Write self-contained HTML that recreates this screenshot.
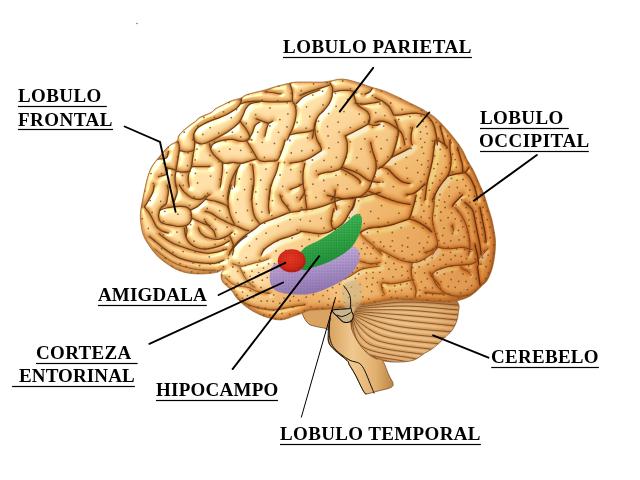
<!DOCTYPE html>
<html><head><meta charset="utf-8"><style>
html,body{margin:0;padding:0;background:#fff;width:640px;height:480px;overflow:hidden}
svg{display:block}
</style></head><body>
<svg width="640" height="480" viewBox="0 0 640 480">
<defs>
<mask id="mcb" maskUnits="userSpaceOnUse" x="0" y="0" width="640" height="480"><path d="M140.6,222.0 C140.1,217.9 140.3,214.7 140.6,211.0 C140.9,207.3 141.8,203.8 142.5,200.0 C143.2,196.2 144.2,191.8 145.0,188.0 C145.8,184.2 146.5,180.8 147.5,177.5 C148.5,174.2 149.7,170.6 151.0,168.0 C152.3,165.4 153.6,163.8 155.2,161.7 C156.8,159.6 158.7,157.5 160.4,155.4 C162.1,153.3 163.9,151.0 165.6,149.2 C167.3,147.4 169.2,145.6 170.8,144.5 C172.4,143.4 173.9,143.2 175.0,142.4 C176.1,141.7 177.0,141.0 177.6,140.0 C178.2,139.0 177.7,137.8 178.3,136.5 C178.9,135.2 179.6,134.2 181.2,132.5 C182.9,130.8 186.1,128.2 188.5,126.2 C190.9,124.3 193.9,122.5 195.8,121.0 C197.7,119.5 197.5,118.6 200.0,117.2 C202.5,115.8 208.4,113.9 211.0,112.5 C213.6,111.1 213.5,109.9 215.6,108.6 C217.7,107.2 221.1,105.7 223.8,104.4 C226.4,103.1 229.2,101.6 231.2,100.8 C233.3,100.0 234.3,99.9 236.0,99.4 C237.7,98.9 239.6,98.5 241.4,97.7 C243.2,96.9 243.4,95.7 246.9,94.5 C250.4,93.3 257.8,91.9 262.5,90.6 C267.2,89.3 270.8,87.9 275.0,86.7 C279.2,85.5 283.9,84.4 287.5,83.6 C291.1,82.8 291.5,82.3 296.9,82.0 C302.3,81.7 314.7,82.1 320.0,82.0 C325.3,81.9 325.1,81.7 328.7,81.2 C332.3,80.7 337.3,78.9 341.9,79.0 C346.5,79.1 351.5,80.7 356.4,82.0 C361.2,83.3 367.3,85.8 371.0,87.0 C374.7,88.2 376.3,88.5 378.8,89.2 C381.2,90.0 382.5,90.2 385.6,91.4 C388.7,92.7 393.6,94.9 397.5,96.8 C401.4,98.6 404.7,100.4 408.8,102.4 C412.8,104.4 417.6,106.5 422.0,109.0 C426.4,111.5 431.3,114.4 435.0,117.4 C438.7,120.4 441.0,123.0 444.4,126.8 C447.8,130.5 452.6,136.1 455.6,140.0 C458.6,143.9 460.6,146.8 462.5,150.0 C464.4,153.2 465.2,156.0 467.0,159.4 C468.8,162.8 471.3,166.1 473.4,170.3 C475.5,174.5 477.9,180.2 479.7,184.4 C481.5,188.6 483.0,191.4 484.4,195.3 C485.8,199.2 487.0,203.7 488.3,207.8 C489.6,211.9 491.1,216.3 492.0,220.0 C492.9,223.7 493.4,226.6 494.0,230.0 C494.6,233.4 495.3,236.7 495.5,240.5 C495.7,244.3 495.5,248.5 495.0,253.0 C494.5,257.5 493.8,263.0 492.5,267.5 C491.2,272.0 489.4,276.8 487.5,280.0 C485.6,283.2 483.3,284.4 481.2,286.5 C479.2,288.6 477.3,290.7 475.0,292.5 C472.7,294.3 470.6,296.1 467.5,297.5 C464.4,298.9 460.2,300.2 456.2,301.0 C452.3,301.8 449.0,302.5 443.8,302.5 C438.5,302.5 431.5,301.7 425.0,301.2 C418.5,300.8 410.8,300.2 405.0,300.0 C399.2,299.8 395.9,299.4 390.3,300.0 C384.7,300.6 378.4,302.6 371.6,303.8 C364.8,304.9 356.6,306.1 349.7,307.0 C342.8,307.9 336.6,308.6 330.0,309.2 C323.4,309.8 315.0,309.6 310.3,310.3 C305.6,311.0 304.2,312.7 301.6,313.6 C299.1,314.5 298.5,314.7 295.0,315.8 C291.5,316.9 285.8,319.9 280.6,320.0 C275.4,320.1 269.1,318.2 264.0,316.4 C258.9,314.6 254.3,312.1 250.0,309.4 C245.7,306.7 241.6,303.2 238.4,300.0 C235.2,296.8 233.6,292.9 231.0,290.0 C228.4,287.1 224.7,285.0 223.0,282.5 C221.3,280.0 221.0,277.2 221.0,275.0 C221.0,272.8 223.6,269.9 223.0,269.4 C222.4,268.9 220.9,271.4 217.5,272.2 C214.1,273.0 207.5,273.9 202.5,274.0 C197.5,274.1 191.9,273.8 187.5,273.0 C183.1,272.2 179.7,270.9 176.2,269.4 C172.8,267.9 170.0,265.9 166.9,263.8 C163.8,261.6 160.3,259.1 157.5,256.2 C154.7,253.4 152.3,250.3 150.0,246.9 C147.7,243.5 145.0,239.8 143.4,235.6 C141.8,231.4 141.1,226.1 140.6,222.0Z" fill="#fff"/></mask>
<mask id="mcbl" maskUnits="userSpaceOnUse" x="0" y="0" width="640" height="480"><path d="M354.0,304.0 C359.3,301.6 369.0,298.5 380.0,297.0 C391.0,295.5 408.3,295.2 420.0,295.0 C431.7,294.8 443.6,294.5 450.0,296.0 C456.4,297.5 457.1,301.2 458.5,304.0 C459.9,306.8 458.6,309.6 458.3,312.5 C458.0,315.4 457.7,318.3 456.7,321.2 C455.7,324.2 454.2,327.3 452.3,330.0 C450.4,332.7 447.2,335.1 445.0,337.3 C442.8,339.5 441.4,341.2 439.2,343.1 C437.0,345.1 434.3,347.3 431.9,349.0 C429.5,350.7 427.3,351.6 424.6,353.3 C421.9,355.0 418.7,357.8 415.8,359.2 C412.9,360.6 410.8,361.0 407.0,361.5 C403.2,362.0 397.2,362.2 392.8,362.0 C388.4,361.8 384.7,361.3 380.6,360.0 C376.5,358.7 372.1,356.4 368.4,354.0 C364.7,351.6 361.3,348.9 358.3,345.8 C355.3,342.7 352.2,339.0 350.2,335.6 C348.1,332.2 346.9,328.6 346.0,325.5 C345.1,322.4 344.7,319.7 345.0,317.3 C345.3,314.9 346.5,313.5 348.0,311.2 C349.5,309.0 348.7,306.4 354.0,304.0Z" fill="#fff"/></mask>
<mask id="mbs" maskUnits="userSpaceOnUse" x="0" y="0" width="640" height="480"><path d="M302.0,312.0 C301.7,308.9 303.3,306.5 306.0,305.0 C308.7,303.5 314.0,303.5 318.0,303.0 C322.0,302.5 325.5,301.8 330.0,302.0 C334.5,302.2 341.7,301.3 345.0,304.0 C348.3,306.7 348.8,313.7 350.0,318.0 C351.2,322.3 350.7,326.0 352.0,330.0 C353.3,334.0 355.7,338.3 358.0,342.0 C360.3,345.7 363.2,349.3 366.0,352.0 C368.8,354.7 372.2,357.0 375.0,358.4 C377.8,359.8 380.2,357.6 382.5,360.4 C384.8,363.2 387.0,371.2 388.8,375.0 C390.5,378.8 392.7,381.2 393.0,383.3 C393.3,385.4 393.3,386.2 390.8,387.5 C388.3,388.8 382.0,390.0 378.0,391.0 C374.0,392.0 369.3,393.6 366.9,393.8 C364.5,393.9 365.7,394.8 363.8,391.7 C361.8,388.6 357.8,379.5 355.4,375.0 C353.0,370.5 350.6,367.0 349.2,364.6 C347.8,362.2 349.4,362.8 347.0,360.4 C344.6,358.0 337.7,353.1 334.6,350.0 C331.5,346.9 329.4,345.0 328.3,341.7 C327.2,338.4 330.2,332.5 328.3,330.0 C326.4,327.5 320.3,327.8 316.9,326.7 C313.5,325.6 310.5,325.8 308.0,323.4 C305.5,320.9 302.3,315.1 302.0,312.0Z" fill="#fff"/></mask>
<filter id="shade" filterUnits="userSpaceOnUse" x="120" y="60" width="400" height="280" color-interpolation-filters="sRGB">
<feGaussianBlur in="SourceGraphic" stdDeviation="1.0" result="b"/>
<feColorMatrix in="b" type="luminanceToAlpha" result="h"/>
<feGaussianBlur in="h" stdDeviation="1.0" result="hb"/>
<feSpecularLighting in="hb" surfaceScale="4" specularConstant="1.2" specularExponent="25" lighting-color="#ffffff" result="spec"><feDistantLight azimuth="225" elevation="32"/></feSpecularLighting>
<feComposite in="b" in2="spec" operator="arithmetic" k1="0" k2="1" k3="0.7" k4="0"/>
</filter>
<filter id="bl08" x="-5%" y="-5%" width="110%" height="110%"><feGaussianBlur stdDeviation="1.0"/></filter>
<filter id="bl03" x="-5%" y="-5%" width="110%" height="110%"><feGaussianBlur stdDeviation="0.35"/></filter>
<filter id="bl15" x="-20%" y="-20%" width="140%" height="140%"><feGaussianBlur stdDeviation="1.5"/></filter>
<filter id="bl25" x="-20%" y="-20%" width="140%" height="140%"><feGaussianBlur stdDeviation="2.5"/></filter>
<radialGradient id="tint" gradientUnits="userSpaceOnUse" cx="480" cy="270" r="230">
<stop offset="0" stop-color="#dea872"/><stop offset="0.45" stop-color="#efcc9c"/><stop offset="1" stop-color="#ffffff"/></radialGradient>
<linearGradient id="bsg" gradientUnits="userSpaceOnUse" x1="330" y1="0" x2="395" y2="0">
<stop offset="0" stop-color="#d9a462"/><stop offset="0.35" stop-color="#f0c88e"/><stop offset="0.7" stop-color="#e2b070"/><stop offset="1" stop-color="#b8803e"/></linearGradient>
<linearGradient id="pg" gradientUnits="userSpaceOnUse" x1="318" y1="252" x2="326" y2="292">
<stop offset="0" stop-color="#c4aed6"/><stop offset="0.45" stop-color="#a990c6"/><stop offset="1" stop-color="#8e74b0"/></linearGradient>
<radialGradient id="rg" cx="0.45" cy="0.4" r="0.6"><stop offset="0" stop-color="#e63a26"/><stop offset="0.7" stop-color="#d42a1a"/><stop offset="1" stop-color="#b01c10"/></radialGradient>
<linearGradient id="gg" gradientUnits="userSpaceOnUse" x1="335" y1="225" x2="345" y2="255">
<stop offset="0" stop-color="#3cb452"/><stop offset="1" stop-color="#24953c"/></linearGradient>
<pattern id="pdot" width="3" height="3" patternUnits="userSpaceOnUse"><circle cx="1" cy="1" r="0.6" fill="#6a4a8a" opacity="0.55"/></pattern>
<pattern id="gdot" width="2.6" height="2.6" patternUnits="userSpaceOnUse"><circle cx="1" cy="1" r="0.6" fill="#0d5a1e" opacity="0.6"/></pattern>
<pattern id="rdot" width="2.8" height="2.8" patternUnits="userSpaceOnUse"><circle cx="1" cy="1" r="0.6" fill="#800c06" opacity="0.6"/></pattern>
<radialGradient id="ttint"><stop offset="0" stop-color="#f2d6b4"/><stop offset="0.6" stop-color="#f6e2c8"/><stop offset="1" stop-color="#ffffff"/></radialGradient>
<radialGradient id="cbtint" gradientUnits="userSpaceOnUse" cx="395" cy="318" r="70"><stop offset="0" stop-color="#ffffff"/><stop offset="0.6" stop-color="#fbf2e8"/><stop offset="1" stop-color="#e6c8a8"/></radialGradient>
</defs>
<g mask="url(#mcbl)">
<rect x="330" y="285" width="140" height="85" fill="#e9b87a"/>
<g fill="none" stroke-linecap="round">
<g transform="translate(0,2.2)">
<path d="M356.0,307.5 C364.2,306.6 388.0,302.4 405.0,302.0 C422.0,301.6 448.3,304.5 458.0,305.0 C467.7,305.5 462.2,305.2 463.0,305.3" stroke="#fbe2b4" stroke-width="2.0" opacity="0.9" filter="url(#bl08)"/>
<path d="M355.6,308.8 C363.8,308.3 387.9,305.8 405.0,306.0 C422.1,306.2 448.8,309.3 458.5,310.0 C468.2,310.7 462.7,310.3 463.5,310.4" stroke="#fbe2b4" stroke-width="2.0" opacity="0.9" filter="url(#bl08)"/>
<path d="M355.2,310.1 C363.5,310.1 387.8,309.2 405.0,310.0 C422.2,310.8 448.8,314.1 458.5,315.0 C468.2,315.9 462.6,315.4 463.5,315.5" stroke="#fbe2b4" stroke-width="2.0" opacity="0.9" filter="url(#bl08)"/>
<path d="M354.8,311.4 C362.8,312.0 385.9,313.6 403.0,315.0 C420.1,316.4 447.6,319.1 457.5,320.0 C467.4,320.9 461.6,320.4 462.5,320.5" stroke="#fbe2b4" stroke-width="2.0" opacity="0.9" filter="url(#bl08)"/>
<path d="M354.4,312.7 C362.0,313.9 383.1,317.8 400.0,320.0 C416.9,322.2 445.4,324.9 455.5,326.0 C465.6,327.1 459.6,326.4 460.5,326.5" stroke="#fbe2b4" stroke-width="2.0" opacity="0.9" filter="url(#bl08)"/>
<path d="M354.0,314.0 C361.0,316.0 379.7,323.0 396.0,326.0 C412.3,329.0 441.8,330.9 452.0,332.0 C462.2,333.1 456.1,332.4 457.0,332.5" stroke="#fbe2b4" stroke-width="2.0" opacity="0.9" filter="url(#bl08)"/>
<path d="M353.6,315.3 C359.7,317.9 374.4,327.2 390.0,331.0 C405.6,334.8 436.7,336.7 447.0,338.0 C457.3,339.3 451.1,338.5 452.0,338.6" stroke="#fbe2b4" stroke-width="2.0" opacity="0.9" filter="url(#bl08)"/>
<path d="M352.5,316.5 C357.6,319.8 368.2,331.4 383.0,336.0 C397.8,340.6 430.5,342.6 441.0,344.0 C451.5,345.4 445.1,344.6 446.0,344.7" stroke="#fbe2b4" stroke-width="2.0" opacity="0.9" filter="url(#bl08)"/>
<path d="M352.2,317.0 C356.2,320.8 362.5,334.6 376.0,340.0 C389.5,345.4 422.7,347.8 433.0,349.5 C443.3,351.2 437.1,350.2 437.9,350.3" stroke="#fbe2b4" stroke-width="2.0" opacity="0.9" filter="url(#bl08)"/>
<path d="M351.9,317.5 C354.8,321.9 357.0,337.8 369.0,344.0 C381.0,350.2 414.0,352.6 424.0,354.5 C434.0,356.4 428.1,355.3 428.9,355.4" stroke="#fbe2b4" stroke-width="2.0" opacity="0.9" filter="url(#bl08)"/>
<path d="M351.6,318.0 C353.5,322.8 352.6,340.2 363.0,347.0 C373.4,353.8 404.7,356.4 414.0,358.5 C423.3,360.6 418.1,359.4 418.9,359.6" stroke="#fbe2b4" stroke-width="2.0" opacity="0.9" filter="url(#bl08)"/>
<path d="M351.3,318.5 C352.4,323.8 349.4,342.9 358.0,350.0 C366.6,357.1 394.7,359.0 403.0,361.0 C411.3,363.0 407.0,362.0 407.9,362.2" stroke="#fbe2b4" stroke-width="2.0" opacity="0.9" filter="url(#bl08)"/>
<path d="M351.0,319.0 C351.5,324.3 347.2,343.8 354.0,351.0 C360.8,358.2 384.9,359.9 392.0,362.0 C399.1,364.1 396.0,363.2 396.8,363.4" stroke="#fbe2b4" stroke-width="2.0" opacity="0.9" filter="url(#bl08)"/>
<path d="M350.7,319.5 C350.6,324.6 344.9,343.2 350.0,350.0 C355.1,356.8 375.0,358.5 381.0,360.5 C387.0,362.5 384.9,361.8 385.7,362.1" stroke="#fbe2b4" stroke-width="2.0" opacity="0.9" filter="url(#bl08)"/>
<path d="M350.4,320.0 C349.8,324.5 343.6,341.0 347.0,347.0 C350.4,353.0 366.2,354.2 371.0,356.0 C375.8,357.8 374.9,357.5 375.7,357.8" stroke="#fbe2b4" stroke-width="2.0" opacity="0.9" filter="url(#bl08)"/>
<path d="M350.1,320.5 C349.2,324.1 343.0,337.1 345.0,342.0 C347.0,346.9 358.4,348.3 362.0,350.0 C365.6,351.7 365.8,351.8 366.5,352.1" stroke="#fbe2b4" stroke-width="2.0" opacity="0.9" filter="url(#bl08)"/>
</g>
<path d="M356.0,307.5 C364.2,306.6 388.0,302.4 405.0,302.0 C422.0,301.6 448.3,304.5 458.0,305.0 C467.7,305.5 462.2,305.2 463.0,305.3" stroke="#b87838" stroke-width="2.6" opacity="0.5" filter="url(#bl08)"/>
<path d="M355.6,308.8 C363.8,308.3 387.9,305.8 405.0,306.0 C422.1,306.2 448.8,309.3 458.5,310.0 C468.2,310.7 462.7,310.3 463.5,310.4" stroke="#b87838" stroke-width="2.6" opacity="0.5" filter="url(#bl08)"/>
<path d="M355.2,310.1 C363.5,310.1 387.8,309.2 405.0,310.0 C422.2,310.8 448.8,314.1 458.5,315.0 C468.2,315.9 462.6,315.4 463.5,315.5" stroke="#b87838" stroke-width="2.6" opacity="0.5" filter="url(#bl08)"/>
<path d="M354.8,311.4 C362.8,312.0 385.9,313.6 403.0,315.0 C420.1,316.4 447.6,319.1 457.5,320.0 C467.4,320.9 461.6,320.4 462.5,320.5" stroke="#b87838" stroke-width="2.6" opacity="0.5" filter="url(#bl08)"/>
<path d="M354.4,312.7 C362.0,313.9 383.1,317.8 400.0,320.0 C416.9,322.2 445.4,324.9 455.5,326.0 C465.6,327.1 459.6,326.4 460.5,326.5" stroke="#b87838" stroke-width="2.6" opacity="0.5" filter="url(#bl08)"/>
<path d="M354.0,314.0 C361.0,316.0 379.7,323.0 396.0,326.0 C412.3,329.0 441.8,330.9 452.0,332.0 C462.2,333.1 456.1,332.4 457.0,332.5" stroke="#b87838" stroke-width="2.6" opacity="0.5" filter="url(#bl08)"/>
<path d="M353.6,315.3 C359.7,317.9 374.4,327.2 390.0,331.0 C405.6,334.8 436.7,336.7 447.0,338.0 C457.3,339.3 451.1,338.5 452.0,338.6" stroke="#b87838" stroke-width="2.6" opacity="0.5" filter="url(#bl08)"/>
<path d="M352.5,316.5 C357.6,319.8 368.2,331.4 383.0,336.0 C397.8,340.6 430.5,342.6 441.0,344.0 C451.5,345.4 445.1,344.6 446.0,344.7" stroke="#b87838" stroke-width="2.6" opacity="0.5" filter="url(#bl08)"/>
<path d="M352.2,317.0 C356.2,320.8 362.5,334.6 376.0,340.0 C389.5,345.4 422.7,347.8 433.0,349.5 C443.3,351.2 437.1,350.2 437.9,350.3" stroke="#b87838" stroke-width="2.6" opacity="0.5" filter="url(#bl08)"/>
<path d="M351.9,317.5 C354.8,321.9 357.0,337.8 369.0,344.0 C381.0,350.2 414.0,352.6 424.0,354.5 C434.0,356.4 428.1,355.3 428.9,355.4" stroke="#b87838" stroke-width="2.6" opacity="0.5" filter="url(#bl08)"/>
<path d="M351.6,318.0 C353.5,322.8 352.6,340.2 363.0,347.0 C373.4,353.8 404.7,356.4 414.0,358.5 C423.3,360.6 418.1,359.4 418.9,359.6" stroke="#b87838" stroke-width="2.6" opacity="0.5" filter="url(#bl08)"/>
<path d="M351.3,318.5 C352.4,323.8 349.4,342.9 358.0,350.0 C366.6,357.1 394.7,359.0 403.0,361.0 C411.3,363.0 407.0,362.0 407.9,362.2" stroke="#b87838" stroke-width="2.6" opacity="0.5" filter="url(#bl08)"/>
<path d="M351.0,319.0 C351.5,324.3 347.2,343.8 354.0,351.0 C360.8,358.2 384.9,359.9 392.0,362.0 C399.1,364.1 396.0,363.2 396.8,363.4" stroke="#b87838" stroke-width="2.6" opacity="0.5" filter="url(#bl08)"/>
<path d="M350.7,319.5 C350.6,324.6 344.9,343.2 350.0,350.0 C355.1,356.8 375.0,358.5 381.0,360.5 C387.0,362.5 384.9,361.8 385.7,362.1" stroke="#b87838" stroke-width="2.6" opacity="0.5" filter="url(#bl08)"/>
<path d="M350.4,320.0 C349.8,324.5 343.6,341.0 347.0,347.0 C350.4,353.0 366.2,354.2 371.0,356.0 C375.8,357.8 374.9,357.5 375.7,357.8" stroke="#b87838" stroke-width="2.6" opacity="0.5" filter="url(#bl08)"/>
<path d="M350.1,320.5 C349.2,324.1 343.0,337.1 345.0,342.0 C347.0,346.9 358.4,348.3 362.0,350.0 C365.6,351.7 365.8,351.8 366.5,352.1" stroke="#b87838" stroke-width="2.6" opacity="0.5" filter="url(#bl08)"/>
<path d="M356.0,307.5 C364.2,306.6 388.0,302.4 405.0,302.0 C422.0,301.6 448.3,304.5 458.0,305.0 C467.7,305.5 462.2,305.2 463.0,305.3" stroke="#7a4a1f" stroke-width="0.8"/>
<path d="M355.6,308.8 C363.8,308.3 387.9,305.8 405.0,306.0 C422.1,306.2 448.8,309.3 458.5,310.0 C468.2,310.7 462.7,310.3 463.5,310.4" stroke="#7a4a1f" stroke-width="0.8"/>
<path d="M355.2,310.1 C363.5,310.1 387.8,309.2 405.0,310.0 C422.2,310.8 448.8,314.1 458.5,315.0 C468.2,315.9 462.6,315.4 463.5,315.5" stroke="#7a4a1f" stroke-width="0.8"/>
<path d="M354.8,311.4 C362.8,312.0 385.9,313.6 403.0,315.0 C420.1,316.4 447.6,319.1 457.5,320.0 C467.4,320.9 461.6,320.4 462.5,320.5" stroke="#7a4a1f" stroke-width="0.8"/>
<path d="M354.4,312.7 C362.0,313.9 383.1,317.8 400.0,320.0 C416.9,322.2 445.4,324.9 455.5,326.0 C465.6,327.1 459.6,326.4 460.5,326.5" stroke="#7a4a1f" stroke-width="0.8"/>
<path d="M354.0,314.0 C361.0,316.0 379.7,323.0 396.0,326.0 C412.3,329.0 441.8,330.9 452.0,332.0 C462.2,333.1 456.1,332.4 457.0,332.5" stroke="#7a4a1f" stroke-width="0.8"/>
<path d="M353.6,315.3 C359.7,317.9 374.4,327.2 390.0,331.0 C405.6,334.8 436.7,336.7 447.0,338.0 C457.3,339.3 451.1,338.5 452.0,338.6" stroke="#7a4a1f" stroke-width="0.8"/>
<path d="M352.5,316.5 C357.6,319.8 368.2,331.4 383.0,336.0 C397.8,340.6 430.5,342.6 441.0,344.0 C451.5,345.4 445.1,344.6 446.0,344.7" stroke="#7a4a1f" stroke-width="0.8"/>
<path d="M352.2,317.0 C356.2,320.8 362.5,334.6 376.0,340.0 C389.5,345.4 422.7,347.8 433.0,349.5 C443.3,351.2 437.1,350.2 437.9,350.3" stroke="#7a4a1f" stroke-width="0.8"/>
<path d="M351.9,317.5 C354.8,321.9 357.0,337.8 369.0,344.0 C381.0,350.2 414.0,352.6 424.0,354.5 C434.0,356.4 428.1,355.3 428.9,355.4" stroke="#7a4a1f" stroke-width="0.8"/>
<path d="M351.6,318.0 C353.5,322.8 352.6,340.2 363.0,347.0 C373.4,353.8 404.7,356.4 414.0,358.5 C423.3,360.6 418.1,359.4 418.9,359.6" stroke="#7a4a1f" stroke-width="0.8"/>
<path d="M351.3,318.5 C352.4,323.8 349.4,342.9 358.0,350.0 C366.6,357.1 394.7,359.0 403.0,361.0 C411.3,363.0 407.0,362.0 407.9,362.2" stroke="#7a4a1f" stroke-width="0.8"/>
<path d="M351.0,319.0 C351.5,324.3 347.2,343.8 354.0,351.0 C360.8,358.2 384.9,359.9 392.0,362.0 C399.1,364.1 396.0,363.2 396.8,363.4" stroke="#7a4a1f" stroke-width="0.8"/>
<path d="M350.7,319.5 C350.6,324.6 344.9,343.2 350.0,350.0 C355.1,356.8 375.0,358.5 381.0,360.5 C387.0,362.5 384.9,361.8 385.7,362.1" stroke="#7a4a1f" stroke-width="0.8"/>
<path d="M350.4,320.0 C349.8,324.5 343.6,341.0 347.0,347.0 C350.4,353.0 366.2,354.2 371.0,356.0 C375.8,357.8 374.9,357.5 375.7,357.8" stroke="#7a4a1f" stroke-width="0.8"/>
<path d="M350.1,320.5 C349.2,324.1 343.0,337.1 345.0,342.0 C347.0,346.9 358.4,348.3 362.0,350.0 C365.6,351.7 365.8,351.8 366.5,352.1" stroke="#7a4a1f" stroke-width="0.8"/>
</g>
<path d="M345,305 C380,300 420,298 462,302" fill="none" stroke="#9a6030" stroke-width="7" opacity="0.55" filter="url(#bl25)"/>
<rect x="330" y="285" width="140" height="85" fill="url(#cbtint)" style="mix-blend-mode:multiply"/>
</g>
<path d="M354.0,304.0 C359.3,301.6 369.0,298.5 380.0,297.0 C391.0,295.5 408.3,295.2 420.0,295.0 C431.7,294.8 443.6,294.5 450.0,296.0 C456.4,297.5 457.1,301.2 458.5,304.0 C459.9,306.8 458.6,309.6 458.3,312.5 C458.0,315.4 457.7,318.3 456.7,321.2 C455.7,324.2 454.2,327.3 452.3,330.0 C450.4,332.7 447.2,335.1 445.0,337.3 C442.8,339.5 441.4,341.2 439.2,343.1 C437.0,345.1 434.3,347.3 431.9,349.0 C429.5,350.7 427.3,351.6 424.6,353.3 C421.9,355.0 418.7,357.8 415.8,359.2 C412.9,360.6 410.8,361.0 407.0,361.5 C403.2,362.0 397.2,362.2 392.8,362.0 C388.4,361.8 384.7,361.3 380.6,360.0 C376.5,358.7 372.1,356.4 368.4,354.0 C364.7,351.6 361.3,348.9 358.3,345.8 C355.3,342.7 352.2,339.0 350.2,335.6 C348.1,332.2 346.9,328.6 346.0,325.5 C345.1,322.4 344.7,319.7 345.0,317.3 C345.3,314.9 346.5,313.5 348.0,311.2 C349.5,309.0 348.7,306.4 354.0,304.0Z" fill="none" stroke="#8a5a2a" stroke-width="0.8"/>
<path d="M302.0,312.0 C301.7,308.9 303.3,306.5 306.0,305.0 C308.7,303.5 314.0,303.5 318.0,303.0 C322.0,302.5 325.5,301.8 330.0,302.0 C334.5,302.2 341.7,301.3 345.0,304.0 C348.3,306.7 348.8,313.7 350.0,318.0 C351.2,322.3 350.7,326.0 352.0,330.0 C353.3,334.0 355.7,338.3 358.0,342.0 C360.3,345.7 363.2,349.3 366.0,352.0 C368.8,354.7 372.2,357.0 375.0,358.4 C377.8,359.8 380.2,357.6 382.5,360.4 C384.8,363.2 387.0,371.2 388.8,375.0 C390.5,378.8 392.7,381.2 393.0,383.3 C393.3,385.4 393.3,386.2 390.8,387.5 C388.3,388.8 382.0,390.0 378.0,391.0 C374.0,392.0 369.3,393.6 366.9,393.8 C364.5,393.9 365.7,394.8 363.8,391.7 C361.8,388.6 357.8,379.5 355.4,375.0 C353.0,370.5 350.6,367.0 349.2,364.6 C347.8,362.2 349.4,362.8 347.0,360.4 C344.6,358.0 337.7,353.1 334.6,350.0 C331.5,346.9 329.4,345.0 328.3,341.7 C327.2,338.4 330.2,332.5 328.3,330.0 C326.4,327.5 320.3,327.8 316.9,326.7 C313.5,325.6 310.5,325.8 308.0,323.4 C305.5,320.9 302.3,315.1 302.0,312.0Z" fill="url(#bsg)" stroke="#7a4a22" stroke-width="0.8"/>
<path d="M140.6,222.0 C140.1,217.9 140.3,214.7 140.6,211.0 C140.9,207.3 141.8,203.8 142.5,200.0 C143.2,196.2 144.2,191.8 145.0,188.0 C145.8,184.2 146.5,180.8 147.5,177.5 C148.5,174.2 149.7,170.6 151.0,168.0 C152.3,165.4 153.6,163.8 155.2,161.7 C156.8,159.6 158.7,157.5 160.4,155.4 C162.1,153.3 163.9,151.0 165.6,149.2 C167.3,147.4 169.2,145.6 170.8,144.5 C172.4,143.4 173.9,143.2 175.0,142.4 C176.1,141.7 177.0,141.0 177.6,140.0 C178.2,139.0 177.7,137.8 178.3,136.5 C178.9,135.2 179.6,134.2 181.2,132.5 C182.9,130.8 186.1,128.2 188.5,126.2 C190.9,124.3 193.9,122.5 195.8,121.0 C197.7,119.5 197.5,118.6 200.0,117.2 C202.5,115.8 208.4,113.9 211.0,112.5 C213.6,111.1 213.5,109.9 215.6,108.6 C217.7,107.2 221.1,105.7 223.8,104.4 C226.4,103.1 229.2,101.6 231.2,100.8 C233.3,100.0 234.3,99.9 236.0,99.4 C237.7,98.9 239.6,98.5 241.4,97.7 C243.2,96.9 243.4,95.7 246.9,94.5 C250.4,93.3 257.8,91.9 262.5,90.6 C267.2,89.3 270.8,87.9 275.0,86.7 C279.2,85.5 283.9,84.4 287.5,83.6 C291.1,82.8 291.5,82.3 296.9,82.0 C302.3,81.7 314.7,82.1 320.0,82.0 C325.3,81.9 325.1,81.7 328.7,81.2 C332.3,80.7 337.3,78.9 341.9,79.0 C346.5,79.1 351.5,80.7 356.4,82.0 C361.2,83.3 367.3,85.8 371.0,87.0 C374.7,88.2 376.3,88.5 378.8,89.2 C381.2,90.0 382.5,90.2 385.6,91.4 C388.7,92.7 393.6,94.9 397.5,96.8 C401.4,98.6 404.7,100.4 408.8,102.4 C412.8,104.4 417.6,106.5 422.0,109.0 C426.4,111.5 431.3,114.4 435.0,117.4 C438.7,120.4 441.0,123.0 444.4,126.8 C447.8,130.5 452.6,136.1 455.6,140.0 C458.6,143.9 460.6,146.8 462.5,150.0 C464.4,153.2 465.2,156.0 467.0,159.4 C468.8,162.8 471.3,166.1 473.4,170.3 C475.5,174.5 477.9,180.2 479.7,184.4 C481.5,188.6 483.0,191.4 484.4,195.3 C485.8,199.2 487.0,203.7 488.3,207.8 C489.6,211.9 491.1,216.3 492.0,220.0 C492.9,223.7 493.4,226.6 494.0,230.0 C494.6,233.4 495.3,236.7 495.5,240.5 C495.7,244.3 495.5,248.5 495.0,253.0 C494.5,257.5 493.8,263.0 492.5,267.5 C491.2,272.0 489.4,276.8 487.5,280.0 C485.6,283.2 483.3,284.4 481.2,286.5 C479.2,288.6 477.3,290.7 475.0,292.5 C472.7,294.3 470.6,296.1 467.5,297.5 C464.4,298.9 460.2,300.2 456.2,301.0 C452.3,301.8 449.0,302.5 443.8,302.5 C438.5,302.5 431.5,301.7 425.0,301.2 C418.5,300.8 410.8,300.2 405.0,300.0 C399.2,299.8 395.9,299.4 390.3,300.0 C384.7,300.6 378.4,302.6 371.6,303.8 C364.8,304.9 356.6,306.1 349.7,307.0 C342.8,307.9 336.6,308.6 330.0,309.2 C323.4,309.8 315.0,309.6 310.3,310.3 C305.6,311.0 304.2,312.7 301.6,313.6 C299.1,314.5 298.5,314.7 295.0,315.8 C291.5,316.9 285.8,319.9 280.6,320.0 C275.4,320.1 269.1,318.2 264.0,316.4 C258.9,314.6 254.3,312.1 250.0,309.4 C245.7,306.7 241.6,303.2 238.4,300.0 C235.2,296.8 233.6,292.9 231.0,290.0 C228.4,287.1 224.7,285.0 223.0,282.5 C221.3,280.0 221.0,277.2 221.0,275.0 C221.0,272.8 223.6,269.9 223.0,269.4 C222.4,268.9 220.9,271.4 217.5,272.2 C214.1,273.0 207.5,273.9 202.5,274.0 C197.5,274.1 191.9,273.8 187.5,273.0 C183.1,272.2 179.7,270.9 176.2,269.4 C172.8,267.9 170.0,265.9 166.9,263.8 C163.8,261.6 160.3,259.1 157.5,256.2 C154.7,253.4 152.3,250.3 150.0,246.9 C147.7,243.5 145.0,239.8 143.4,235.6 C141.8,231.4 141.1,226.1 140.6,222.0Z" fill="#f7dcaa"/>
<g mask="url(#mcb)"><g filter="url(#shade)"><rect x="130" y="70" width="380" height="260" fill="#f9d8a0"/><g fill="none" stroke-linecap="round" stroke-linejoin="round">
<g stroke="#f6ce8e" stroke-width="11">
<path d="M140.6,222.0 C140.1,217.9 140.3,214.7 140.6,211.0 C140.9,207.3 141.8,203.8 142.5,200.0 C143.2,196.2 144.2,191.8 145.0,188.0 C145.8,184.2 146.5,180.8 147.5,177.5 C148.5,174.2 149.7,170.6 151.0,168.0 C152.3,165.4 153.6,163.8 155.2,161.7 C156.8,159.6 158.7,157.5 160.4,155.4 C162.1,153.3 163.9,151.0 165.6,149.2 C167.3,147.4 169.2,145.6 170.8,144.5 C172.4,143.4 173.9,143.2 175.0,142.4 C176.1,141.7 177.0,141.0 177.6,140.0 C178.2,139.0 177.7,137.8 178.3,136.5 C178.9,135.2 179.6,134.2 181.2,132.5 C182.9,130.8 186.1,128.2 188.5,126.2 C190.9,124.3 193.9,122.5 195.8,121.0 C197.7,119.5 197.5,118.6 200.0,117.2 C202.5,115.8 208.4,113.9 211.0,112.5 C213.6,111.1 213.5,109.9 215.6,108.6 C217.7,107.2 221.1,105.7 223.8,104.4 C226.4,103.1 229.2,101.6 231.2,100.8 C233.3,100.0 234.3,99.9 236.0,99.4 C237.7,98.9 239.6,98.5 241.4,97.7 C243.2,96.9 243.4,95.7 246.9,94.5 C250.4,93.3 257.8,91.9 262.5,90.6 C267.2,89.3 270.8,87.9 275.0,86.7 C279.2,85.5 283.9,84.4 287.5,83.6 C291.1,82.8 291.5,82.3 296.9,82.0 C302.3,81.7 314.7,82.1 320.0,82.0 C325.3,81.9 325.1,81.7 328.7,81.2 C332.3,80.7 337.3,78.9 341.9,79.0 C346.5,79.1 351.5,80.7 356.4,82.0 C361.2,83.3 367.3,85.8 371.0,87.0 C374.7,88.2 376.3,88.5 378.8,89.2 C381.2,90.0 382.5,90.2 385.6,91.4 C388.7,92.7 393.6,94.9 397.5,96.8 C401.4,98.6 404.7,100.4 408.8,102.4 C412.8,104.4 417.6,106.5 422.0,109.0 C426.4,111.5 431.3,114.4 435.0,117.4 C438.7,120.4 441.0,123.0 444.4,126.8 C447.8,130.5 452.6,136.1 455.6,140.0 C458.6,143.9 460.6,146.8 462.5,150.0 C464.4,153.2 465.2,156.0 467.0,159.4 C468.8,162.8 471.3,166.1 473.4,170.3 C475.5,174.5 477.9,180.2 479.7,184.4 C481.5,188.6 483.0,191.4 484.4,195.3 C485.8,199.2 487.0,203.7 488.3,207.8 C489.6,211.9 491.1,216.3 492.0,220.0 C492.9,223.7 493.4,226.6 494.0,230.0 C494.6,233.4 495.3,236.7 495.5,240.5 C495.7,244.3 495.5,248.5 495.0,253.0 C494.5,257.5 493.8,263.0 492.5,267.5 C491.2,272.0 489.4,276.8 487.5,280.0 C485.6,283.2 483.3,284.4 481.2,286.5 C479.2,288.6 477.3,290.7 475.0,292.5 C472.7,294.3 470.6,296.1 467.5,297.5 C464.4,298.9 460.2,300.2 456.2,301.0 C452.3,301.8 449.0,302.5 443.8,302.5 C438.5,302.5 431.5,301.7 425.0,301.2 C418.5,300.8 410.8,300.2 405.0,300.0 C399.2,299.8 395.9,299.4 390.3,300.0 C384.7,300.6 378.4,302.6 371.6,303.8 C364.8,304.9 356.6,306.1 349.7,307.0 C342.8,307.9 336.6,308.6 330.0,309.2 C323.4,309.8 315.0,309.6 310.3,310.3 C305.6,311.0 304.2,312.7 301.6,313.6 C299.1,314.5 298.5,314.7 295.0,315.8 C291.5,316.9 285.8,319.9 280.6,320.0 C275.4,320.1 269.1,318.2 264.0,316.4 C258.9,314.6 254.3,312.1 250.0,309.4 C245.7,306.7 241.6,303.2 238.4,300.0 C235.2,296.8 233.6,292.9 231.0,290.0 C228.4,287.1 224.7,285.0 223.0,282.5 C221.3,280.0 221.0,277.2 221.0,275.0 C221.0,272.8 223.6,269.9 223.0,269.4 C222.4,268.9 220.9,271.4 217.5,272.2 C214.1,273.0 207.5,273.9 202.5,274.0 C197.5,274.1 191.9,273.8 187.5,273.0 C183.1,272.2 179.7,270.9 176.2,269.4 C172.8,267.9 170.0,265.9 166.9,263.8 C163.8,261.6 160.3,259.1 157.5,256.2 C154.7,253.4 152.3,250.3 150.0,246.9 C147.7,243.5 145.0,239.8 143.4,235.6 C141.8,231.4 141.1,226.1 140.6,222.0Z" stroke-width="14.3"/>
<path d="M241.5,98.5 C241.4,99.3 241.4,101.5 240.6,103.1 C239.9,104.7 238.3,106.7 236.9,108.1 C235.4,109.5 233.8,110.4 231.9,111.5 C230.0,112.6 227.9,113.9 225.6,115.0 C223.3,116.1 220.6,117.1 218.1,118.1 C215.6,119.1 213.0,119.9 210.6,120.9 C208.2,121.9 205.8,122.9 203.8,124.0 C201.7,125.1 199.7,126.1 198.1,127.5 C196.6,128.9 195.1,130.7 194.4,132.5 C193.6,134.3 193.2,136.5 193.5,138.1 C193.8,139.8 195.8,141.8 196.2,142.5"/>
<path d="M196.2,142.5 C197.2,142.8 199.9,144.0 201.9,144.0 C203.9,144.0 205.5,143.3 208.1,142.2 C210.7,141.2 214.3,139.2 217.5,137.5 C220.7,135.8 224.7,133.6 227.5,131.9 C230.3,130.1 232.4,128.5 234.4,126.9 C236.4,125.2 237.9,123.9 239.4,121.9 C240.8,119.9 242.1,117.2 243.1,115.0 C244.2,112.8 244.4,110.6 245.6,108.8 C246.9,106.9 248.2,104.9 250.6,103.8 C253.0,102.6 258.4,102.2 260.0,101.9"/>
<path d="M210.6,148.8 C211.0,148.0 211.4,145.4 213.1,144.0 C214.9,142.6 218.0,141.4 221.2,140.6 C224.5,139.9 229.4,139.3 232.5,139.4 C235.6,139.5 237.5,141.1 240.0,141.2 C242.5,141.4 245.5,141.4 247.5,140.0 C249.5,138.6 251.0,135.5 252.2,133.1 C253.5,130.7 253.7,127.5 255.0,125.6 C256.3,123.8 259.2,122.5 260.0,121.9"/>
<path d="M246.2,140.0 C246.9,141.0 248.8,144.2 250.0,146.2 C251.2,148.3 252.5,150.4 253.8,152.5 C255.0,154.6 256.2,157.3 257.5,158.8 C258.8,160.2 259.2,160.8 261.2,161.2 C263.3,161.7 267.3,161.5 270.0,161.2 C272.7,161.0 275.6,161.5 277.5,160.0 C279.4,158.5 280.2,155.0 281.2,152.5 C282.3,150.0 283.1,147.1 283.8,145.0 C284.4,142.9 284.8,140.8 285.0,140.0"/>
<path d="M278.8,162.5 C278.3,164.2 277.3,169.4 276.2,172.5 C275.2,175.6 273.5,178.3 272.5,181.2 C271.5,184.2 270.6,186.9 270.0,190.0 C269.4,193.1 269.0,198.3 268.8,200.0"/>
<path d="M240.0,165.0 C239.2,166.2 236.5,169.8 235.0,172.5 C233.5,175.2 232.3,178.3 231.2,181.2 C230.2,184.2 229.4,186.9 228.8,190.0 C228.1,193.1 227.7,198.3 227.5,200.0"/>
<path d="M252.5,165.0 C252.7,166.7 253.5,171.7 253.8,175.0 C254.0,178.3 254.0,181.7 253.8,185.0 C253.5,188.3 252.9,192.5 252.5,195.0 C252.1,197.5 251.5,199.2 251.2,200.0"/>
<path d="M330.0,83.0 C330.4,83.8 332.2,85.7 332.5,88.0 C332.8,90.3 332.5,94.0 331.9,96.8 C331.2,99.5 330.1,102.0 328.8,104.2 C327.4,106.5 325.4,108.6 323.8,110.5 C322.1,112.4 320.2,113.4 318.8,115.5 C317.3,117.6 315.8,120.5 315.0,123.0 C314.2,125.5 314.2,128.0 313.8,130.5 C313.3,133.0 312.7,136.8 312.5,138.0"/>
<path d="M300.0,95.5 C301.2,95.0 304.8,93.4 307.5,92.4 C310.2,91.4 313.3,90.4 316.2,89.5 C319.2,88.6 322.7,87.5 325.0,86.8 C327.3,86.0 329.2,85.2 330.0,84.9"/>
<path d="M333.8,91.8 C335.0,91.5 338.5,90.7 341.2,90.5 C344.0,90.3 347.5,90.1 350.0,90.5 C352.5,90.9 355.2,92.6 356.2,93.0"/>
<path d="M353.8,94.2 C354.2,95.7 355.2,100.9 356.2,103.0 C357.3,105.1 358.1,105.3 360.0,106.8 C361.9,108.2 365.8,109.9 367.5,111.8 C369.2,113.6 369.8,116.1 370.0,118.0 C370.2,119.9 369.2,122.4 369.0,123.2"/>
<path d="M355.0,103.0 C356.2,103.2 359.6,104.2 362.5,104.2 C365.4,104.2 369.6,103.4 372.5,103.0 C375.4,102.6 378.8,102.0 380.0,101.8"/>
<path d="M372.5,88.0 C372.1,88.6 371.2,90.7 370.0,91.8 C368.8,92.8 365.8,93.8 365.0,94.2"/>
<path d="M368.8,124.2 C369.8,124.5 373.1,125.5 375.0,125.5 C376.9,125.5 379.2,124.5 380.0,124.2"/>
<path d="M300.0,211.2 C298.3,211.5 293.3,211.7 290.0,212.5 C286.7,213.3 283.3,215.0 280.0,216.2 C276.7,217.5 273.1,218.8 270.0,220.0 C266.9,221.2 263.8,222.3 261.2,223.8 C258.8,225.2 257.3,227.1 255.0,228.8 C252.7,230.4 249.8,232.1 247.5,233.8 C245.2,235.4 243.3,236.9 241.2,238.8 C239.2,240.6 236.7,243.1 235.0,245.0 C233.3,246.9 232.3,248.3 231.2,250.0 C230.2,251.7 229.2,254.2 228.8,255.0"/>
<path d="M300.0,232.5 C298.3,233.1 293.5,235.0 290.0,236.2 C286.5,237.5 282.1,238.5 278.8,240.0 C275.4,241.5 272.5,243.3 270.0,245.0 C267.5,246.7 265.2,248.3 263.8,250.0 C262.3,251.7 261.7,254.2 261.2,255.0"/>
<path d="M280.0,195.0 C280.4,196.0 281.2,199.2 282.5,201.2 C283.8,203.3 286.2,205.8 287.5,207.5 C288.8,209.2 289.6,210.6 290.0,211.2"/>
<path d="M230.0,236.2 C230.4,237.3 231.9,240.6 232.5,242.5 C233.1,244.4 233.8,245.4 233.8,247.5 C233.8,249.6 232.7,253.8 232.5,255.0"/>
<path d="M300.0,210.0 C302.1,209.8 308.8,209.4 312.5,208.8 C316.2,208.1 319.2,207.3 322.5,206.2 C325.8,205.2 329.4,203.6 332.5,202.5 C335.6,201.4 337.9,200.2 341.2,199.4 C344.6,198.5 349.0,197.9 352.5,197.5 C356.0,197.1 359.6,197.3 362.5,196.9 C365.4,196.5 367.1,195.7 370.0,195.0 C372.9,194.3 378.3,192.9 380.0,192.5"/>
<path d="M335.0,190.0 C335.0,190.8 335.6,193.3 335.0,195.0 C334.4,196.7 331.9,199.2 331.2,200.0"/>
<path d="M355.0,200.0 C354.6,201.2 353.5,205.2 352.5,207.5 C351.5,209.8 349.8,211.9 348.8,213.8 C347.7,215.6 347.3,217.1 346.2,218.8 C345.2,220.4 344.0,222.3 342.5,223.8 C341.0,225.2 339.0,226.7 337.5,227.5 C336.0,228.3 334.4,228.5 333.8,228.8"/>
<path d="M333.8,208.8 C333.5,209.8 332.9,212.9 332.5,215.0 C332.1,217.1 331.2,219.2 331.2,221.2 C331.2,223.3 331.7,226.0 332.5,227.5 C333.3,229.0 335.6,229.6 336.2,230.0"/>
<path d="M300.0,231.2 C301.7,231.5 306.7,232.1 310.0,232.5 C313.3,232.9 317.1,233.8 320.0,233.8 C322.9,233.8 325.4,233.1 327.5,232.5 C329.6,231.9 331.7,230.4 332.5,230.0"/>
<path d="M300.0,200.0 C300.6,199.0 302.9,195.4 303.8,193.8 C304.6,192.1 304.8,190.6 305.0,190.0"/>
<path d="M241.2,103.8 C242.3,103.4 244.6,102.3 247.5,101.9 C250.4,101.5 254.8,101.2 258.8,101.2 C262.7,101.2 267.5,101.8 271.2,101.9 C275.0,102.0 277.9,102.0 281.2,101.9 C284.6,101.8 289.6,101.4 291.2,101.2"/>
<path d="M265.0,91.9 C266.0,92.0 269.0,92.2 271.2,92.5 C273.5,92.8 277.1,93.5 278.8,93.8 C280.4,94.0 280.8,93.8 281.2,93.8"/>
<path d="M290.0,83.8 C290.4,85.2 292.1,89.6 292.5,92.5 C292.9,95.4 292.1,99.2 292.5,101.2 C292.9,103.3 294.4,103.1 295.0,105.0 C295.6,106.9 296.2,109.8 296.2,112.5 C296.2,115.2 295.6,118.5 295.0,121.2 C294.4,124.0 293.3,126.7 292.5,128.8 C291.7,130.8 290.8,131.9 290.0,133.8 C289.2,135.6 287.9,139.0 287.5,140.0"/>
<path d="M320.0,90.0 C318.3,90.6 312.9,92.5 310.0,93.8 C307.1,95.0 304.8,95.8 302.5,97.5 C300.2,99.2 297.3,102.7 296.2,103.8"/>
<path d="M256.2,118.8 C257.3,119.2 260.4,120.5 262.5,121.2 C264.6,122.0 267.1,123.1 268.8,123.1 C270.4,123.1 271.9,121.6 272.5,121.2"/>
<path d="M268.8,123.1 C268.3,124.3 266.9,127.8 266.2,130.0 C265.6,132.2 265.2,135.2 265.0,136.2"/>
<path d="M240.0,121.2 C240.8,122.3 243.5,125.4 245.0,127.5 C246.5,129.6 247.9,131.7 248.8,133.8 C249.6,135.8 249.8,139.0 250.0,140.0"/>
<path d="M375.0,97.5 C376.2,98.1 380.2,99.8 382.5,101.2 C384.8,102.7 387.1,104.4 388.8,106.2 C390.4,108.1 391.7,111.0 392.5,112.5 C393.3,114.0 392.5,114.6 393.8,115.0 C395.0,115.4 397.7,115.2 400.0,115.0 C402.3,114.8 404.8,114.1 407.5,113.8 C410.2,113.4 413.3,112.9 416.2,113.1 C419.2,113.3 422.7,114.1 425.0,115.0 C427.3,115.9 428.5,117.1 430.0,118.8 C431.5,120.4 432.7,122.3 433.8,125.0 C434.8,127.7 435.6,131.7 436.2,135.0 C436.9,138.3 437.3,143.3 437.5,145.0"/>
<path d="M375.0,122.5 C375.8,122.3 377.9,121.2 380.0,121.2 C382.1,121.2 385.2,121.7 387.5,122.5 C389.8,123.3 391.9,125.0 393.8,126.2 C395.6,127.5 397.3,128.5 398.8,130.0 C400.2,131.5 401.5,132.5 402.5,135.0 C403.5,137.5 404.6,143.3 405.0,145.0"/>
<path d="M412.5,127.5 C412.3,128.8 411.5,132.5 411.2,135.0 C411.0,137.5 411.0,140.8 411.2,142.5 C411.5,144.2 412.3,144.6 412.5,145.0"/>
<path d="M440.0,126.2 C440.4,127.7 441.7,131.9 442.5,135.0 C443.3,138.1 444.6,143.3 445.0,145.0"/>
<path d="M425.0,183.8 C424.0,184.8 420.8,188.3 418.8,190.0 C416.7,191.7 414.6,192.9 412.5,193.8 C410.4,194.6 407.3,194.8 406.2,195.0"/>
<path d="M178.3,141.6 C178.5,142.7 179.4,145.6 179.4,148.1 C179.4,150.7 178.7,154.3 178.3,156.9 C177.9,159.4 177.6,161.3 177.2,163.4 C176.8,165.6 176.5,167.5 176.1,170.0 C175.7,172.6 175.0,175.9 175.0,178.8 C175.0,181.6 175.9,185.6 176.1,187.0"/>
<path d="M193.6,135.0 C193.8,136.5 194.7,140.8 194.7,143.8 C194.7,146.7 194.0,150.0 193.6,152.5 C193.2,155.1 192.9,156.7 192.5,159.1 C192.2,161.4 192.0,164.5 191.4,166.7 C190.9,168.9 189.8,170.2 189.2,172.2 C188.7,174.2 188.1,176.3 188.1,178.8 C188.1,181.2 189.1,185.6 189.2,187.0"/>
<path d="M179.4,150.3 C180.7,150.6 184.7,152.0 187.0,152.0 C189.4,152.0 192.5,150.6 193.6,150.3"/>
<path d="M192.5,166.7 C194.0,166.7 198.4,166.7 201.3,166.7 C204.2,166.7 208.6,166.7 210.0,166.7"/>
<path d="M176.1,171.1 C177.4,171.3 181.4,172.2 183.8,172.2 C186.1,172.2 189.2,171.3 190.3,171.1"/>
<path d="M166.3,167.8 C167.2,168.0 170.1,168.6 171.7,168.9 C173.4,169.3 175.4,169.8 176.1,170.0"/>
<path d="M156.4,159.1 C158.1,158.9 164.3,159.3 166.3,158.0 C168.3,156.7 168.1,152.5 168.4,151.4"/>
<path d="M158.6,176.6 C159.9,176.2 164.8,175.8 166.3,174.4 C167.7,172.9 167.2,168.9 167.4,167.8"/>
<path d="M154.2,185.0 C154.0,186.1 153.9,189.4 153.1,191.6 C152.4,193.8 150.9,196.1 149.8,198.1 C148.8,200.1 147.5,202.1 146.6,203.6 C145.7,205.1 144.7,206.3 144.4,206.9"/>
<path d="M144.4,206.9 C145.1,207.8 147.3,210.2 148.8,212.4 C150.2,214.5 151.9,217.6 153.1,220.0 C154.4,222.4 155.0,224.8 156.4,226.6 C157.9,228.4 159.9,229.9 161.9,231.0 C163.9,232.0 167.4,232.8 168.4,233.1"/>
<path d="M167.4,185.0 C167.5,186.1 168.4,189.4 168.4,191.6 C168.4,193.8 167.7,196.1 167.4,198.1 C167.0,200.1 167.2,202.1 166.3,203.6 C165.3,205.1 163.0,205.8 161.9,206.9 C160.8,208.0 160.1,209.6 159.7,210.2"/>
<path d="M176.1,185.0 C176.3,186.1 177.2,189.7 177.2,191.6 C177.2,193.4 176.7,194.1 176.1,195.9 C175.6,197.8 174.3,201.4 173.9,202.5"/>
<path d="M159.7,210.2 C160.8,209.8 164.1,208.5 166.3,208.0 C168.4,207.4 170.6,207.2 172.8,206.9 C175.0,206.6 177.2,206.3 179.4,206.3 C181.6,206.3 184.1,206.2 186.0,206.9 C187.8,207.5 189.4,208.5 190.3,210.2 C191.2,211.8 191.4,214.7 191.4,216.7 C191.4,218.7 191.2,220.7 190.3,222.2 C189.4,223.7 188.0,224.8 186.0,225.5 C183.9,226.2 180.5,226.6 178.3,226.6 C176.1,226.6 174.8,225.8 172.8,225.5 C170.8,225.1 168.3,224.9 166.3,224.4 C164.3,223.8 162.1,223.5 160.8,222.2 C159.5,220.9 158.8,218.7 158.6,216.7 C158.4,214.7 159.5,211.3 159.7,210.2"/>
<path d="M190.3,210.2 C191.4,209.6 194.7,208.3 196.9,206.9 C199.1,205.4 201.6,203.2 203.5,201.4 C205.3,199.6 206.7,197.0 207.8,195.9 C208.9,194.8 209.7,195.0 210.0,194.8"/>
<path d="M179.4,185.0 C180.1,186.1 181.6,189.4 183.8,191.6 C186.0,193.8 189.6,196.9 192.5,198.1 C195.4,199.4 199.1,199.6 201.3,199.2 C203.5,198.9 204.9,196.5 205.6,195.9"/>
<path d="M191.4,217.8 C192.5,218.4 195.6,220.0 198.0,221.1 C200.4,222.2 203.6,223.7 205.6,224.4 C207.7,225.1 209.3,225.3 210.0,225.5"/>
<path d="M186.0,225.5 C186.1,226.4 187.0,229.0 187.0,231.0 C187.0,232.9 186.1,236.0 186.0,237.0"/>
<path d="M209.4,143.8 C209.7,145.0 210.5,149.2 211.6,151.4 C212.7,153.6 214.1,155.1 215.9,156.9 C217.8,158.7 220.7,161.3 222.5,162.4 C224.3,163.4 225.1,163.4 226.9,163.4 C228.7,163.4 231.1,162.4 233.4,162.4 C235.8,162.4 238.6,163.6 241.1,163.4 C243.7,163.3 246.2,162.0 248.8,161.3 C251.3,160.5 255.1,159.4 256.4,159.1"/>
<path d="M222.5,162.4 C222.5,163.6 222.7,167.3 222.5,170.0 C222.3,172.7 221.8,175.9 221.4,178.8 C221.0,181.6 220.5,185.6 220.3,187.0"/>
<path d="M237.8,167.8 C237.5,169.3 236.2,173.4 235.6,176.6 C235.1,179.8 234.7,185.2 234.5,187.0"/>
<path d="M231.3,185.0 C230.9,186.5 229.6,191.0 229.1,193.8 C228.5,196.5 228.0,198.7 228.0,201.4 C228.0,204.1 228.5,207.4 229.1,210.2 C229.6,212.9 230.3,215.5 231.3,217.8 C232.2,220.2 234.0,223.3 234.5,224.4"/>
<path d="M253.1,185.0 C253.0,186.5 252.2,190.8 252.0,193.8 C251.9,196.7 251.9,199.6 252.0,202.5 C252.2,205.4 252.6,208.7 253.1,211.3 C253.7,213.8 254.4,216.0 255.3,217.8 C256.2,219.6 257.9,221.1 258.6,222.2 C259.3,223.3 259.5,224.0 259.7,224.4"/>
<path d="M270.6,185.0 C270.5,186.8 269.9,192.3 269.6,195.9 C269.2,199.6 268.5,204.0 268.5,206.9 C268.5,209.8 269.4,212.4 269.6,213.4"/>
<path d="M205.0,199.2 C205.9,199.4 208.6,200.0 210.5,200.3 C212.3,200.7 213.9,200.9 215.9,201.4 C217.9,202.0 220.7,202.9 222.5,203.6 C224.3,204.3 225.8,204.7 226.9,205.8 C228.0,206.9 228.7,209.4 229.1,210.2"/>
<path d="M205.0,211.3 C206.1,211.6 209.4,212.4 211.6,213.4 C213.8,214.5 215.9,216.5 218.1,217.8 C220.3,219.1 222.5,220.0 224.7,221.1 C226.9,222.2 229.1,223.5 231.3,224.4 C233.4,225.3 235.6,225.7 237.8,226.6 C240.0,227.5 242.6,228.9 244.4,229.6 C246.2,230.3 248.0,230.6 248.8,230.7"/>
<path d="M205.0,221.1 C205.7,222.0 207.9,224.9 209.4,226.6 C210.8,228.2 212.7,229.2 213.8,231.0 C214.8,232.7 215.6,236.0 215.9,237.0"/>
<path d="M149.2,236.4 C150.4,237.4 153.7,240.0 156.3,242.1 C158.8,244.2 161.9,247.0 164.7,249.1 C167.5,251.2 170.3,253.1 173.1,254.7 C175.9,256.4 178.3,257.8 181.6,258.9 C184.8,260.1 189.1,261.1 192.8,261.8 C196.6,262.5 200.3,262.9 204.1,263.2 C207.8,263.4 212.0,263.6 215.3,263.2 C218.6,262.7 222.4,260.8 223.8,260.3"/>
<path d="M159.1,233.6 C160.2,234.6 163.8,237.6 166.1,239.3 C168.4,240.9 170.8,242.3 173.1,243.5 C175.5,244.6 177.6,245.3 180.2,246.3 C182.7,247.2 185.6,248.2 188.6,249.1 C191.6,250.0 195.2,251.2 198.4,251.9 C201.7,252.6 205.0,253.3 208.3,253.3 C211.6,253.3 215.1,252.6 218.1,251.9 C221.2,251.2 225.2,249.6 226.6,249.1"/>
<path d="M184.4,228.0 C184.6,229.4 184.8,233.9 185.8,236.4 C186.7,239.0 188.1,241.6 190.0,243.5 C191.9,245.3 194.5,246.8 197.0,247.7 C199.6,248.6 202.7,249.1 205.5,249.1 C208.3,249.1 211.1,248.4 213.9,247.7 C216.7,247.0 219.8,246.0 222.4,244.9 C224.9,243.7 228.2,241.4 229.4,240.7"/>
<path d="M198.4,228.0 C198.9,228.9 199.6,232.0 201.3,233.6 C202.9,235.3 205.5,236.9 208.3,237.8 C211.1,238.8 215.1,239.5 218.1,239.3 C221.2,239.0 224.2,237.6 226.6,236.4 C228.9,235.3 231.3,232.9 232.2,232.2"/>
<path d="M316.3,120.0 C316.0,121.6 314.7,126.3 314.8,129.4 C314.8,132.5 315.7,135.9 316.6,138.8 C317.6,141.6 319.6,144.3 320.4,146.3 C321.2,148.2 321.3,149.7 321.5,150.4"/>
<path d="M290.0,163.1 C291.9,162.8 297.8,162.2 301.3,161.3 C304.7,160.3 307.3,159.3 310.6,157.5 C314.0,155.7 319.7,151.6 321.5,150.4"/>
<path d="M305.0,163.1 C304.7,164.7 303.4,169.1 303.1,172.5 C302.8,175.9 302.8,180.0 303.1,183.8 C303.4,187.5 304.4,190.6 305.0,195.0 C305.6,199.4 306.6,207.5 306.9,210.0"/>
<path d="M345.3,135.9 C345.6,137.0 346.9,139.8 347.2,142.5 C347.5,145.2 347.6,148.9 347.2,151.9 C346.8,154.8 345.8,157.6 344.8,160.3 C343.7,163.1 342.6,166.5 340.6,168.4 C338.7,170.2 335.9,170.6 333.1,171.4 C330.3,172.1 326.3,172.3 323.8,172.9 C321.3,173.4 319.1,174.4 318.1,174.8"/>
<path d="M368.8,120.0 C368.6,120.7 369.1,122.8 367.8,124.1 C366.6,125.4 363.9,126.4 361.3,127.9 C358.6,129.3 354.5,131.4 351.9,132.8 C349.2,134.1 346.4,135.4 345.3,135.9"/>
<path d="M370.6,142.5 C371.0,144.1 372.0,148.8 372.9,151.9 C373.8,155.0 375.4,158.1 375.9,161.3 C376.4,164.4 376.4,167.5 375.9,170.6 C375.3,173.8 373.7,176.9 372.5,180.0 C371.3,183.1 370.5,186.4 368.8,189.0 C367.0,191.6 364.7,193.8 362.2,195.4 C359.7,196.9 356.7,197.8 353.8,198.4 C350.8,198.9 347.5,198.9 344.4,198.8 C341.3,198.6 337.8,197.8 335.0,197.3 C332.2,196.7 328.8,195.7 327.5,195.4"/>
<path d="M340.6,168.4 C342.5,169.4 349.1,172.7 351.9,174.4 C354.7,176.1 356.0,177.2 357.5,178.5 C359.0,179.8 360.3,181.6 360.9,182.3"/>
<path d="M395.0,120.0 C395.6,121.9 398.3,126.9 398.4,131.3 C398.4,135.6 396.6,141.9 395.4,146.3 C394.2,150.6 393.2,154.4 391.3,157.5 C389.3,160.6 385.9,163.1 383.8,165.0 C381.6,166.9 379.1,168.4 378.1,169.1"/>
<path d="M391.3,157.5 C393.1,156.6 399.4,153.4 402.5,151.9 C405.6,150.3 408.8,148.8 410.0,148.1"/>
<path d="M379.6,167.3 C380.9,167.6 384.9,167.6 387.5,169.1 C390.1,170.6 392.5,174.1 395.0,176.3 C397.5,178.4 400.0,180.6 402.5,181.9 C405.0,183.1 408.8,183.4 410.0,183.8"/>
<path d="M368.8,191.3 C370.3,191.9 375.0,193.8 378.1,195.0 C381.3,196.3 384.1,197.5 387.5,198.8 C390.9,200.0 395.0,201.6 398.8,202.5 C402.5,203.4 408.1,204.1 410.0,204.4"/>
<path d="M290.0,135.0 C291.3,134.7 294.4,133.7 297.5,133.1 C300.6,132.6 305.9,132.3 308.8,131.6 C311.6,131.0 313.8,129.8 314.8,129.4"/>
<path d="M335.0,197.3 C335.0,198.1 334.7,200.4 335.0,202.5 C335.3,204.6 336.6,208.8 336.9,210.0"/>
<path d="M355.6,198.8 C355.3,200.0 354.4,204.4 353.8,206.3 C353.1,208.1 352.2,209.4 351.9,210.0"/>
<path d="M303.1,183.8 C301.9,184.4 297.8,186.6 295.6,187.5 C293.4,188.4 290.9,189.1 290.0,189.4"/>
<path d="M435.0,140.0 C434.8,141.7 434.2,146.7 433.8,150.0 C433.3,153.3 433.1,156.5 432.5,160.0 C431.9,163.5 430.8,167.7 430.0,171.2 C429.2,174.8 428.1,178.1 427.5,181.2 C426.9,184.4 426.7,186.9 426.2,190.0 C425.8,193.1 425.2,198.3 425.0,200.0"/>
<path d="M450.0,140.0 C450.0,141.7 449.8,146.7 450.0,150.0 C450.2,153.3 451.2,156.7 451.2,160.0 C451.2,163.3 450.6,167.3 450.0,170.0 C449.4,172.7 448.8,174.2 447.5,176.2 C446.2,178.3 444.2,180.2 442.5,182.5 C440.8,184.8 439.2,187.1 437.5,190.0 C435.8,192.9 433.3,198.3 432.5,200.0"/>
<path d="M457.5,147.5 C457.9,149.0 459.2,153.3 460.0,156.2 C460.8,159.2 462.1,162.3 462.5,165.0 C462.9,167.7 462.5,171.2 462.5,172.5"/>
<path d="M447.5,176.2 C449.0,175.8 453.3,174.4 456.2,173.8 C459.2,173.1 462.9,173.5 465.0,172.5 C467.1,171.5 468.1,168.3 468.8,167.5"/>
<path d="M465.0,172.5 C465.8,173.3 468.5,175.4 470.0,177.5 C471.5,179.6 472.7,182.5 473.8,185.0 C474.8,187.5 475.6,190.0 476.2,192.5 C476.9,195.0 477.3,198.8 477.5,200.0"/>
<path d="M437.5,140.0 C438.5,140.6 442.1,142.5 443.8,143.8 C445.4,145.0 446.9,146.9 447.5,147.5"/>
<path d="M416.2,195.0 C415.8,196.7 414.6,201.9 413.8,205.0 C412.9,208.1 412.1,211.5 411.2,213.8 C410.4,216.0 410.2,217.5 408.8,218.8 C407.3,220.0 404.8,220.4 402.5,221.2 C400.2,222.1 397.9,222.9 395.0,223.8 C392.1,224.6 388.3,225.6 385.0,226.2 C381.7,226.9 377.9,227.1 375.0,227.5 C372.1,227.9 370.0,227.9 367.5,228.8 C365.0,229.6 361.2,231.9 360.0,232.5"/>
<path d="M408.8,218.8 C410.0,219.2 413.5,220.0 416.2,221.2 C419.0,222.5 422.4,224.5 425.0,226.2 C427.6,228.0 430.7,230.9 431.9,231.9"/>
<path d="M462.5,195.0 C461.2,196.2 456.7,200.6 455.0,202.5 C453.3,204.4 452.9,205.6 452.5,206.2"/>
<path d="M465.0,202.5 C466.2,203.8 470.8,207.1 472.5,210.0 C474.2,212.9 474.2,216.2 475.0,220.0 C475.8,223.8 476.7,228.3 477.5,232.5 C478.3,236.7 479.4,241.2 480.0,245.0 C480.6,248.8 481.0,253.3 481.2,255.0"/>
<path d="M480.0,207.5 C480.4,209.6 481.7,215.8 482.5,220.0 C483.3,224.2 484.4,228.8 485.0,232.5 C485.6,236.2 486.0,240.8 486.2,242.5"/>
<path d="M477.5,266.2 C477.7,267.9 478.3,273.1 478.8,276.2 C479.2,279.4 479.8,283.5 480.0,285.0"/>
<path d="M475.0,245.0 C475.4,246.7 476.9,251.7 477.5,255.0 C478.1,258.3 478.5,263.3 478.8,265.0"/>
<path d="M342.5,167.5 C345.0,168.4 353.1,170.8 357.5,173.0 C361.9,175.2 365.2,179.0 369.0,180.6 C372.8,182.2 378.2,182.2 380.0,182.5"/>
<path d="M230.0,252.0 C231.7,250.2 237.2,243.7 240.0,241.0 C242.8,238.3 245.8,236.8 247.0,236.0"/>
<path d="M362.5,231.2 C363.8,230.6 367.1,228.1 370.0,227.5 C372.9,226.9 378.3,227.5 380.0,227.5" stroke-width="7.70"/>
<path d="M225.0,277.5 C226.2,278.5 230.0,282.3 232.5,283.8 C235.0,285.2 237.3,285.6 240.0,286.2 C242.7,286.9 246.0,286.7 248.8,287.5 C251.5,288.3 254.0,290.4 256.2,291.2 C258.5,292.1 260.2,292.1 262.5,292.5 C264.8,292.9 268.8,293.5 270.0,293.8" stroke-width="7.70"/>
<path d="M240.0,267.5 C240.8,269.2 243.3,274.8 245.0,277.5 C246.7,280.2 248.3,282.1 250.0,283.8 C251.7,285.4 254.2,286.9 255.0,287.5" stroke-width="7.70"/>
<path d="M232.5,263.8 C234.0,264.2 238.8,266.0 241.2,266.2 C243.8,266.5 245.0,265.6 247.5,265.0 C250.0,264.4 253.8,263.1 256.2,262.5 C258.8,261.9 260.4,261.9 262.5,261.2 C264.6,260.6 267.7,259.2 268.8,258.8" stroke-width="7.70"/>
<path d="M235.0,296.2 C236.5,297.3 240.8,300.8 243.8,302.5 C246.7,304.2 249.4,305.2 252.5,306.2 C255.6,307.3 259.2,308.1 262.5,308.8 C265.8,309.4 269.2,310.0 272.5,310.0 C275.8,310.0 278.8,309.4 282.5,308.8 C286.2,308.1 291.2,306.9 295.0,306.2 C298.8,305.6 303.3,305.2 305.0,305.0" stroke-width="7.70"/>
<path d="M341.2,280.0 C342.7,279.4 346.9,277.9 350.0,276.2 C353.1,274.6 356.7,271.5 360.0,270.0 C363.3,268.5 366.7,268.1 370.0,267.5 C373.3,266.9 378.3,266.5 380.0,266.2" stroke-width="7.70"/>
<path d="M360.0,261.2 C361.7,261.7 366.7,263.5 370.0,263.8 C373.3,264.0 378.3,262.7 380.0,262.5" stroke-width="7.70"/>
<path d="M154.8,249.1 C156.3,250.3 160.5,254.0 163.3,256.1 C166.1,258.2 168.7,260.1 171.7,261.8 C174.8,263.4 178.1,264.8 181.6,266.0 C185.1,267.1 189.1,268.1 192.8,268.8 C196.6,269.5 200.3,270.0 204.1,270.2 C207.8,270.4 213.4,270.2 215.3,270.2" stroke-width="7.70"/>
<path d="M360.0,232.5 C360.8,233.5 362.9,236.7 365.0,238.8 C367.1,240.8 370.4,243.1 372.5,245.0 C374.6,246.9 375.8,248.3 377.5,250.0 C379.2,251.7 381.7,254.2 382.5,255.0" stroke-width="7.70"/>
<path d="M435.0,195.0 C434.8,197.1 434.2,203.3 433.8,207.5 C433.3,211.7 432.3,215.8 432.5,220.0 C432.7,224.2 434.2,228.8 435.0,232.5 C435.8,236.2 437.3,239.8 437.5,242.5 C437.7,245.2 437.1,246.7 436.2,248.8 C435.4,250.8 433.1,254.0 432.5,255.0" stroke-width="7.70"/>
<path d="M455.0,207.5 C456.0,208.8 459.4,212.1 461.2,215.0 C463.1,217.9 465.0,221.7 466.2,225.0 C467.5,228.3 468.1,231.7 468.8,235.0 C469.4,238.3 470.0,241.7 470.0,245.0 C470.0,248.3 469.0,253.3 468.8,255.0" stroke-width="7.70"/>
<path d="M452.5,225.0 C452.7,226.0 453.5,230.2 453.8,231.2" stroke-width="7.70"/>
<path d="M437.5,247.5 C439.6,247.7 445.8,248.8 450.0,248.8 C454.2,248.8 458.8,247.3 462.5,247.5 C466.2,247.7 470.8,249.6 472.5,250.0" stroke-width="7.70"/>
<path d="M378.8,248.8 C379.8,249.4 382.3,251.0 385.0,252.5 C387.7,254.0 391.9,256.0 395.0,257.5 C398.1,259.0 400.8,260.4 403.8,261.2 C406.7,262.1 409.8,262.5 412.5,262.5 C415.2,262.5 417.1,262.5 420.0,261.2 C422.9,260.0 427.1,257.1 430.0,255.0 C432.9,252.9 436.2,249.8 437.5,248.8" stroke-width="7.70"/>
<path d="M412.5,262.5 C412.3,263.8 411.2,267.1 411.2,270.0 C411.2,272.9 411.9,277.3 412.5,280.0 C413.1,282.7 414.4,284.4 415.0,286.2 C415.6,288.1 416.2,289.4 416.2,291.2 C416.2,293.1 415.2,296.5 415.0,297.5" stroke-width="7.70"/>
<path d="M382.5,282.5 C384.0,282.7 388.1,283.8 391.2,283.8 C394.4,283.8 397.9,283.1 401.2,282.5 C404.6,281.9 409.6,280.4 411.2,280.0" stroke-width="7.70"/>
<path d="M381.2,283.8 C381.5,284.8 381.9,288.1 382.5,290.0 C383.1,291.9 384.6,294.2 385.0,295.0" stroke-width="7.70"/>
<path d="M430.0,272.5 C430.4,273.3 431.2,275.8 432.5,277.5 C433.8,279.2 436.2,281.0 437.5,282.5 C438.8,284.0 439.6,285.6 440.0,286.2" stroke-width="7.70"/>
<path d="M437.5,245.0 C436.7,245.8 434.6,248.8 432.5,250.0 C430.4,251.2 426.2,252.1 425.0,252.5" stroke-width="7.70"/>
<path d="M432.5,273.8 C433.3,273.1 434.6,271.2 437.5,270.0 C440.4,268.8 445.8,267.1 450.0,266.2 C454.2,265.4 458.8,265.4 462.5,265.0 C466.2,264.6 470.0,264.6 472.5,263.8 C475.0,262.9 475.8,261.5 477.5,260.0 C479.2,258.5 480.8,256.9 482.5,255.0 C484.2,253.1 486.7,249.8 487.5,248.8" stroke-width="7.70"/>
<path d="M432.5,273.8 C432.9,275.2 433.8,280.0 435.0,282.5 C436.2,285.0 438.1,286.9 440.0,288.8 C441.9,290.6 443.5,292.5 446.2,293.8 C449.0,295.0 452.5,296.0 456.2,296.2 C460.0,296.5 465.2,295.8 468.8,295.0 C472.3,294.2 475.4,292.7 477.5,291.2 C479.6,289.8 480.6,287.1 481.2,286.2" stroke-width="7.70"/>
<path d="M462.5,268.8 C463.3,269.2 466.2,270.4 467.5,271.2 C468.8,272.1 469.6,273.3 470.0,273.8" stroke-width="7.70"/>
<path d="M425.0,292.5 C427.1,292.7 434.0,293.5 437.5,293.8 C441.0,294.0 444.8,293.8 446.2,293.8" stroke-width="7.70"/>
</g>
<g stroke="#f1c07a" stroke-width="8">
<path d="M140.6,222.0 C140.1,217.9 140.3,214.7 140.6,211.0 C140.9,207.3 141.8,203.8 142.5,200.0 C143.2,196.2 144.2,191.8 145.0,188.0 C145.8,184.2 146.5,180.8 147.5,177.5 C148.5,174.2 149.7,170.6 151.0,168.0 C152.3,165.4 153.6,163.8 155.2,161.7 C156.8,159.6 158.7,157.5 160.4,155.4 C162.1,153.3 163.9,151.0 165.6,149.2 C167.3,147.4 169.2,145.6 170.8,144.5 C172.4,143.4 173.9,143.2 175.0,142.4 C176.1,141.7 177.0,141.0 177.6,140.0 C178.2,139.0 177.7,137.8 178.3,136.5 C178.9,135.2 179.6,134.2 181.2,132.5 C182.9,130.8 186.1,128.2 188.5,126.2 C190.9,124.3 193.9,122.5 195.8,121.0 C197.7,119.5 197.5,118.6 200.0,117.2 C202.5,115.8 208.4,113.9 211.0,112.5 C213.6,111.1 213.5,109.9 215.6,108.6 C217.7,107.2 221.1,105.7 223.8,104.4 C226.4,103.1 229.2,101.6 231.2,100.8 C233.3,100.0 234.3,99.9 236.0,99.4 C237.7,98.9 239.6,98.5 241.4,97.7 C243.2,96.9 243.4,95.7 246.9,94.5 C250.4,93.3 257.8,91.9 262.5,90.6 C267.2,89.3 270.8,87.9 275.0,86.7 C279.2,85.5 283.9,84.4 287.5,83.6 C291.1,82.8 291.5,82.3 296.9,82.0 C302.3,81.7 314.7,82.1 320.0,82.0 C325.3,81.9 325.1,81.7 328.7,81.2 C332.3,80.7 337.3,78.9 341.9,79.0 C346.5,79.1 351.5,80.7 356.4,82.0 C361.2,83.3 367.3,85.8 371.0,87.0 C374.7,88.2 376.3,88.5 378.8,89.2 C381.2,90.0 382.5,90.2 385.6,91.4 C388.7,92.7 393.6,94.9 397.5,96.8 C401.4,98.6 404.7,100.4 408.8,102.4 C412.8,104.4 417.6,106.5 422.0,109.0 C426.4,111.5 431.3,114.4 435.0,117.4 C438.7,120.4 441.0,123.0 444.4,126.8 C447.8,130.5 452.6,136.1 455.6,140.0 C458.6,143.9 460.6,146.8 462.5,150.0 C464.4,153.2 465.2,156.0 467.0,159.4 C468.8,162.8 471.3,166.1 473.4,170.3 C475.5,174.5 477.9,180.2 479.7,184.4 C481.5,188.6 483.0,191.4 484.4,195.3 C485.8,199.2 487.0,203.7 488.3,207.8 C489.6,211.9 491.1,216.3 492.0,220.0 C492.9,223.7 493.4,226.6 494.0,230.0 C494.6,233.4 495.3,236.7 495.5,240.5 C495.7,244.3 495.5,248.5 495.0,253.0 C494.5,257.5 493.8,263.0 492.5,267.5 C491.2,272.0 489.4,276.8 487.5,280.0 C485.6,283.2 483.3,284.4 481.2,286.5 C479.2,288.6 477.3,290.7 475.0,292.5 C472.7,294.3 470.6,296.1 467.5,297.5 C464.4,298.9 460.2,300.2 456.2,301.0 C452.3,301.8 449.0,302.5 443.8,302.5 C438.5,302.5 431.5,301.7 425.0,301.2 C418.5,300.8 410.8,300.2 405.0,300.0 C399.2,299.8 395.9,299.4 390.3,300.0 C384.7,300.6 378.4,302.6 371.6,303.8 C364.8,304.9 356.6,306.1 349.7,307.0 C342.8,307.9 336.6,308.6 330.0,309.2 C323.4,309.8 315.0,309.6 310.3,310.3 C305.6,311.0 304.2,312.7 301.6,313.6 C299.1,314.5 298.5,314.7 295.0,315.8 C291.5,316.9 285.8,319.9 280.6,320.0 C275.4,320.1 269.1,318.2 264.0,316.4 C258.9,314.6 254.3,312.1 250.0,309.4 C245.7,306.7 241.6,303.2 238.4,300.0 C235.2,296.8 233.6,292.9 231.0,290.0 C228.4,287.1 224.7,285.0 223.0,282.5 C221.3,280.0 221.0,277.2 221.0,275.0 C221.0,272.8 223.6,269.9 223.0,269.4 C222.4,268.9 220.9,271.4 217.5,272.2 C214.1,273.0 207.5,273.9 202.5,274.0 C197.5,274.1 191.9,273.8 187.5,273.0 C183.1,272.2 179.7,270.9 176.2,269.4 C172.8,267.9 170.0,265.9 166.9,263.8 C163.8,261.6 160.3,259.1 157.5,256.2 C154.7,253.4 152.3,250.3 150.0,246.9 C147.7,243.5 145.0,239.8 143.4,235.6 C141.8,231.4 141.1,226.1 140.6,222.0Z" stroke-width="10.4"/>
<path d="M241.5,98.5 C241.4,99.3 241.4,101.5 240.6,103.1 C239.9,104.7 238.3,106.7 236.9,108.1 C235.4,109.5 233.8,110.4 231.9,111.5 C230.0,112.6 227.9,113.9 225.6,115.0 C223.3,116.1 220.6,117.1 218.1,118.1 C215.6,119.1 213.0,119.9 210.6,120.9 C208.2,121.9 205.8,122.9 203.8,124.0 C201.7,125.1 199.7,126.1 198.1,127.5 C196.6,128.9 195.1,130.7 194.4,132.5 C193.6,134.3 193.2,136.5 193.5,138.1 C193.8,139.8 195.8,141.8 196.2,142.5"/>
<path d="M196.2,142.5 C197.2,142.8 199.9,144.0 201.9,144.0 C203.9,144.0 205.5,143.3 208.1,142.2 C210.7,141.2 214.3,139.2 217.5,137.5 C220.7,135.8 224.7,133.6 227.5,131.9 C230.3,130.1 232.4,128.5 234.4,126.9 C236.4,125.2 237.9,123.9 239.4,121.9 C240.8,119.9 242.1,117.2 243.1,115.0 C244.2,112.8 244.4,110.6 245.6,108.8 C246.9,106.9 248.2,104.9 250.6,103.8 C253.0,102.6 258.4,102.2 260.0,101.9"/>
<path d="M210.6,148.8 C211.0,148.0 211.4,145.4 213.1,144.0 C214.9,142.6 218.0,141.4 221.2,140.6 C224.5,139.9 229.4,139.3 232.5,139.4 C235.6,139.5 237.5,141.1 240.0,141.2 C242.5,141.4 245.5,141.4 247.5,140.0 C249.5,138.6 251.0,135.5 252.2,133.1 C253.5,130.7 253.7,127.5 255.0,125.6 C256.3,123.8 259.2,122.5 260.0,121.9"/>
<path d="M246.2,140.0 C246.9,141.0 248.8,144.2 250.0,146.2 C251.2,148.3 252.5,150.4 253.8,152.5 C255.0,154.6 256.2,157.3 257.5,158.8 C258.8,160.2 259.2,160.8 261.2,161.2 C263.3,161.7 267.3,161.5 270.0,161.2 C272.7,161.0 275.6,161.5 277.5,160.0 C279.4,158.5 280.2,155.0 281.2,152.5 C282.3,150.0 283.1,147.1 283.8,145.0 C284.4,142.9 284.8,140.8 285.0,140.0"/>
<path d="M278.8,162.5 C278.3,164.2 277.3,169.4 276.2,172.5 C275.2,175.6 273.5,178.3 272.5,181.2 C271.5,184.2 270.6,186.9 270.0,190.0 C269.4,193.1 269.0,198.3 268.8,200.0"/>
<path d="M240.0,165.0 C239.2,166.2 236.5,169.8 235.0,172.5 C233.5,175.2 232.3,178.3 231.2,181.2 C230.2,184.2 229.4,186.9 228.8,190.0 C228.1,193.1 227.7,198.3 227.5,200.0"/>
<path d="M252.5,165.0 C252.7,166.7 253.5,171.7 253.8,175.0 C254.0,178.3 254.0,181.7 253.8,185.0 C253.5,188.3 252.9,192.5 252.5,195.0 C252.1,197.5 251.5,199.2 251.2,200.0"/>
<path d="M330.0,83.0 C330.4,83.8 332.2,85.7 332.5,88.0 C332.8,90.3 332.5,94.0 331.9,96.8 C331.2,99.5 330.1,102.0 328.8,104.2 C327.4,106.5 325.4,108.6 323.8,110.5 C322.1,112.4 320.2,113.4 318.8,115.5 C317.3,117.6 315.8,120.5 315.0,123.0 C314.2,125.5 314.2,128.0 313.8,130.5 C313.3,133.0 312.7,136.8 312.5,138.0"/>
<path d="M300.0,95.5 C301.2,95.0 304.8,93.4 307.5,92.4 C310.2,91.4 313.3,90.4 316.2,89.5 C319.2,88.6 322.7,87.5 325.0,86.8 C327.3,86.0 329.2,85.2 330.0,84.9"/>
<path d="M333.8,91.8 C335.0,91.5 338.5,90.7 341.2,90.5 C344.0,90.3 347.5,90.1 350.0,90.5 C352.5,90.9 355.2,92.6 356.2,93.0"/>
<path d="M353.8,94.2 C354.2,95.7 355.2,100.9 356.2,103.0 C357.3,105.1 358.1,105.3 360.0,106.8 C361.9,108.2 365.8,109.9 367.5,111.8 C369.2,113.6 369.8,116.1 370.0,118.0 C370.2,119.9 369.2,122.4 369.0,123.2"/>
<path d="M355.0,103.0 C356.2,103.2 359.6,104.2 362.5,104.2 C365.4,104.2 369.6,103.4 372.5,103.0 C375.4,102.6 378.8,102.0 380.0,101.8"/>
<path d="M372.5,88.0 C372.1,88.6 371.2,90.7 370.0,91.8 C368.8,92.8 365.8,93.8 365.0,94.2"/>
<path d="M368.8,124.2 C369.8,124.5 373.1,125.5 375.0,125.5 C376.9,125.5 379.2,124.5 380.0,124.2"/>
<path d="M300.0,211.2 C298.3,211.5 293.3,211.7 290.0,212.5 C286.7,213.3 283.3,215.0 280.0,216.2 C276.7,217.5 273.1,218.8 270.0,220.0 C266.9,221.2 263.8,222.3 261.2,223.8 C258.8,225.2 257.3,227.1 255.0,228.8 C252.7,230.4 249.8,232.1 247.5,233.8 C245.2,235.4 243.3,236.9 241.2,238.8 C239.2,240.6 236.7,243.1 235.0,245.0 C233.3,246.9 232.3,248.3 231.2,250.0 C230.2,251.7 229.2,254.2 228.8,255.0"/>
<path d="M300.0,232.5 C298.3,233.1 293.5,235.0 290.0,236.2 C286.5,237.5 282.1,238.5 278.8,240.0 C275.4,241.5 272.5,243.3 270.0,245.0 C267.5,246.7 265.2,248.3 263.8,250.0 C262.3,251.7 261.7,254.2 261.2,255.0"/>
<path d="M280.0,195.0 C280.4,196.0 281.2,199.2 282.5,201.2 C283.8,203.3 286.2,205.8 287.5,207.5 C288.8,209.2 289.6,210.6 290.0,211.2"/>
<path d="M230.0,236.2 C230.4,237.3 231.9,240.6 232.5,242.5 C233.1,244.4 233.8,245.4 233.8,247.5 C233.8,249.6 232.7,253.8 232.5,255.0"/>
<path d="M300.0,210.0 C302.1,209.8 308.8,209.4 312.5,208.8 C316.2,208.1 319.2,207.3 322.5,206.2 C325.8,205.2 329.4,203.6 332.5,202.5 C335.6,201.4 337.9,200.2 341.2,199.4 C344.6,198.5 349.0,197.9 352.5,197.5 C356.0,197.1 359.6,197.3 362.5,196.9 C365.4,196.5 367.1,195.7 370.0,195.0 C372.9,194.3 378.3,192.9 380.0,192.5"/>
<path d="M335.0,190.0 C335.0,190.8 335.6,193.3 335.0,195.0 C334.4,196.7 331.9,199.2 331.2,200.0"/>
<path d="M355.0,200.0 C354.6,201.2 353.5,205.2 352.5,207.5 C351.5,209.8 349.8,211.9 348.8,213.8 C347.7,215.6 347.3,217.1 346.2,218.8 C345.2,220.4 344.0,222.3 342.5,223.8 C341.0,225.2 339.0,226.7 337.5,227.5 C336.0,228.3 334.4,228.5 333.8,228.8"/>
<path d="M333.8,208.8 C333.5,209.8 332.9,212.9 332.5,215.0 C332.1,217.1 331.2,219.2 331.2,221.2 C331.2,223.3 331.7,226.0 332.5,227.5 C333.3,229.0 335.6,229.6 336.2,230.0"/>
<path d="M300.0,231.2 C301.7,231.5 306.7,232.1 310.0,232.5 C313.3,232.9 317.1,233.8 320.0,233.8 C322.9,233.8 325.4,233.1 327.5,232.5 C329.6,231.9 331.7,230.4 332.5,230.0"/>
<path d="M300.0,200.0 C300.6,199.0 302.9,195.4 303.8,193.8 C304.6,192.1 304.8,190.6 305.0,190.0"/>
<path d="M241.2,103.8 C242.3,103.4 244.6,102.3 247.5,101.9 C250.4,101.5 254.8,101.2 258.8,101.2 C262.7,101.2 267.5,101.8 271.2,101.9 C275.0,102.0 277.9,102.0 281.2,101.9 C284.6,101.8 289.6,101.4 291.2,101.2"/>
<path d="M265.0,91.9 C266.0,92.0 269.0,92.2 271.2,92.5 C273.5,92.8 277.1,93.5 278.8,93.8 C280.4,94.0 280.8,93.8 281.2,93.8"/>
<path d="M290.0,83.8 C290.4,85.2 292.1,89.6 292.5,92.5 C292.9,95.4 292.1,99.2 292.5,101.2 C292.9,103.3 294.4,103.1 295.0,105.0 C295.6,106.9 296.2,109.8 296.2,112.5 C296.2,115.2 295.6,118.5 295.0,121.2 C294.4,124.0 293.3,126.7 292.5,128.8 C291.7,130.8 290.8,131.9 290.0,133.8 C289.2,135.6 287.9,139.0 287.5,140.0"/>
<path d="M320.0,90.0 C318.3,90.6 312.9,92.5 310.0,93.8 C307.1,95.0 304.8,95.8 302.5,97.5 C300.2,99.2 297.3,102.7 296.2,103.8"/>
<path d="M256.2,118.8 C257.3,119.2 260.4,120.5 262.5,121.2 C264.6,122.0 267.1,123.1 268.8,123.1 C270.4,123.1 271.9,121.6 272.5,121.2"/>
<path d="M268.8,123.1 C268.3,124.3 266.9,127.8 266.2,130.0 C265.6,132.2 265.2,135.2 265.0,136.2"/>
<path d="M240.0,121.2 C240.8,122.3 243.5,125.4 245.0,127.5 C246.5,129.6 247.9,131.7 248.8,133.8 C249.6,135.8 249.8,139.0 250.0,140.0"/>
<path d="M375.0,97.5 C376.2,98.1 380.2,99.8 382.5,101.2 C384.8,102.7 387.1,104.4 388.8,106.2 C390.4,108.1 391.7,111.0 392.5,112.5 C393.3,114.0 392.5,114.6 393.8,115.0 C395.0,115.4 397.7,115.2 400.0,115.0 C402.3,114.8 404.8,114.1 407.5,113.8 C410.2,113.4 413.3,112.9 416.2,113.1 C419.2,113.3 422.7,114.1 425.0,115.0 C427.3,115.9 428.5,117.1 430.0,118.8 C431.5,120.4 432.7,122.3 433.8,125.0 C434.8,127.7 435.6,131.7 436.2,135.0 C436.9,138.3 437.3,143.3 437.5,145.0"/>
<path d="M375.0,122.5 C375.8,122.3 377.9,121.2 380.0,121.2 C382.1,121.2 385.2,121.7 387.5,122.5 C389.8,123.3 391.9,125.0 393.8,126.2 C395.6,127.5 397.3,128.5 398.8,130.0 C400.2,131.5 401.5,132.5 402.5,135.0 C403.5,137.5 404.6,143.3 405.0,145.0"/>
<path d="M412.5,127.5 C412.3,128.8 411.5,132.5 411.2,135.0 C411.0,137.5 411.0,140.8 411.2,142.5 C411.5,144.2 412.3,144.6 412.5,145.0"/>
<path d="M440.0,126.2 C440.4,127.7 441.7,131.9 442.5,135.0 C443.3,138.1 444.6,143.3 445.0,145.0"/>
<path d="M425.0,183.8 C424.0,184.8 420.8,188.3 418.8,190.0 C416.7,191.7 414.6,192.9 412.5,193.8 C410.4,194.6 407.3,194.8 406.2,195.0"/>
<path d="M178.3,141.6 C178.5,142.7 179.4,145.6 179.4,148.1 C179.4,150.7 178.7,154.3 178.3,156.9 C177.9,159.4 177.6,161.3 177.2,163.4 C176.8,165.6 176.5,167.5 176.1,170.0 C175.7,172.6 175.0,175.9 175.0,178.8 C175.0,181.6 175.9,185.6 176.1,187.0"/>
<path d="M193.6,135.0 C193.8,136.5 194.7,140.8 194.7,143.8 C194.7,146.7 194.0,150.0 193.6,152.5 C193.2,155.1 192.9,156.7 192.5,159.1 C192.2,161.4 192.0,164.5 191.4,166.7 C190.9,168.9 189.8,170.2 189.2,172.2 C188.7,174.2 188.1,176.3 188.1,178.8 C188.1,181.2 189.1,185.6 189.2,187.0"/>
<path d="M179.4,150.3 C180.7,150.6 184.7,152.0 187.0,152.0 C189.4,152.0 192.5,150.6 193.6,150.3"/>
<path d="M192.5,166.7 C194.0,166.7 198.4,166.7 201.3,166.7 C204.2,166.7 208.6,166.7 210.0,166.7"/>
<path d="M176.1,171.1 C177.4,171.3 181.4,172.2 183.8,172.2 C186.1,172.2 189.2,171.3 190.3,171.1"/>
<path d="M166.3,167.8 C167.2,168.0 170.1,168.6 171.7,168.9 C173.4,169.3 175.4,169.8 176.1,170.0"/>
<path d="M156.4,159.1 C158.1,158.9 164.3,159.3 166.3,158.0 C168.3,156.7 168.1,152.5 168.4,151.4"/>
<path d="M158.6,176.6 C159.9,176.2 164.8,175.8 166.3,174.4 C167.7,172.9 167.2,168.9 167.4,167.8"/>
<path d="M154.2,185.0 C154.0,186.1 153.9,189.4 153.1,191.6 C152.4,193.8 150.9,196.1 149.8,198.1 C148.8,200.1 147.5,202.1 146.6,203.6 C145.7,205.1 144.7,206.3 144.4,206.9"/>
<path d="M144.4,206.9 C145.1,207.8 147.3,210.2 148.8,212.4 C150.2,214.5 151.9,217.6 153.1,220.0 C154.4,222.4 155.0,224.8 156.4,226.6 C157.9,228.4 159.9,229.9 161.9,231.0 C163.9,232.0 167.4,232.8 168.4,233.1"/>
<path d="M167.4,185.0 C167.5,186.1 168.4,189.4 168.4,191.6 C168.4,193.8 167.7,196.1 167.4,198.1 C167.0,200.1 167.2,202.1 166.3,203.6 C165.3,205.1 163.0,205.8 161.9,206.9 C160.8,208.0 160.1,209.6 159.7,210.2"/>
<path d="M176.1,185.0 C176.3,186.1 177.2,189.7 177.2,191.6 C177.2,193.4 176.7,194.1 176.1,195.9 C175.6,197.8 174.3,201.4 173.9,202.5"/>
<path d="M159.7,210.2 C160.8,209.8 164.1,208.5 166.3,208.0 C168.4,207.4 170.6,207.2 172.8,206.9 C175.0,206.6 177.2,206.3 179.4,206.3 C181.6,206.3 184.1,206.2 186.0,206.9 C187.8,207.5 189.4,208.5 190.3,210.2 C191.2,211.8 191.4,214.7 191.4,216.7 C191.4,218.7 191.2,220.7 190.3,222.2 C189.4,223.7 188.0,224.8 186.0,225.5 C183.9,226.2 180.5,226.6 178.3,226.6 C176.1,226.6 174.8,225.8 172.8,225.5 C170.8,225.1 168.3,224.9 166.3,224.4 C164.3,223.8 162.1,223.5 160.8,222.2 C159.5,220.9 158.8,218.7 158.6,216.7 C158.4,214.7 159.5,211.3 159.7,210.2"/>
<path d="M190.3,210.2 C191.4,209.6 194.7,208.3 196.9,206.9 C199.1,205.4 201.6,203.2 203.5,201.4 C205.3,199.6 206.7,197.0 207.8,195.9 C208.9,194.8 209.7,195.0 210.0,194.8"/>
<path d="M179.4,185.0 C180.1,186.1 181.6,189.4 183.8,191.6 C186.0,193.8 189.6,196.9 192.5,198.1 C195.4,199.4 199.1,199.6 201.3,199.2 C203.5,198.9 204.9,196.5 205.6,195.9"/>
<path d="M191.4,217.8 C192.5,218.4 195.6,220.0 198.0,221.1 C200.4,222.2 203.6,223.7 205.6,224.4 C207.7,225.1 209.3,225.3 210.0,225.5"/>
<path d="M186.0,225.5 C186.1,226.4 187.0,229.0 187.0,231.0 C187.0,232.9 186.1,236.0 186.0,237.0"/>
<path d="M209.4,143.8 C209.7,145.0 210.5,149.2 211.6,151.4 C212.7,153.6 214.1,155.1 215.9,156.9 C217.8,158.7 220.7,161.3 222.5,162.4 C224.3,163.4 225.1,163.4 226.9,163.4 C228.7,163.4 231.1,162.4 233.4,162.4 C235.8,162.4 238.6,163.6 241.1,163.4 C243.7,163.3 246.2,162.0 248.8,161.3 C251.3,160.5 255.1,159.4 256.4,159.1"/>
<path d="M222.5,162.4 C222.5,163.6 222.7,167.3 222.5,170.0 C222.3,172.7 221.8,175.9 221.4,178.8 C221.0,181.6 220.5,185.6 220.3,187.0"/>
<path d="M237.8,167.8 C237.5,169.3 236.2,173.4 235.6,176.6 C235.1,179.8 234.7,185.2 234.5,187.0"/>
<path d="M231.3,185.0 C230.9,186.5 229.6,191.0 229.1,193.8 C228.5,196.5 228.0,198.7 228.0,201.4 C228.0,204.1 228.5,207.4 229.1,210.2 C229.6,212.9 230.3,215.5 231.3,217.8 C232.2,220.2 234.0,223.3 234.5,224.4"/>
<path d="M253.1,185.0 C253.0,186.5 252.2,190.8 252.0,193.8 C251.9,196.7 251.9,199.6 252.0,202.5 C252.2,205.4 252.6,208.7 253.1,211.3 C253.7,213.8 254.4,216.0 255.3,217.8 C256.2,219.6 257.9,221.1 258.6,222.2 C259.3,223.3 259.5,224.0 259.7,224.4"/>
<path d="M270.6,185.0 C270.5,186.8 269.9,192.3 269.6,195.9 C269.2,199.6 268.5,204.0 268.5,206.9 C268.5,209.8 269.4,212.4 269.6,213.4"/>
<path d="M205.0,199.2 C205.9,199.4 208.6,200.0 210.5,200.3 C212.3,200.7 213.9,200.9 215.9,201.4 C217.9,202.0 220.7,202.9 222.5,203.6 C224.3,204.3 225.8,204.7 226.9,205.8 C228.0,206.9 228.7,209.4 229.1,210.2"/>
<path d="M205.0,211.3 C206.1,211.6 209.4,212.4 211.6,213.4 C213.8,214.5 215.9,216.5 218.1,217.8 C220.3,219.1 222.5,220.0 224.7,221.1 C226.9,222.2 229.1,223.5 231.3,224.4 C233.4,225.3 235.6,225.7 237.8,226.6 C240.0,227.5 242.6,228.9 244.4,229.6 C246.2,230.3 248.0,230.6 248.8,230.7"/>
<path d="M205.0,221.1 C205.7,222.0 207.9,224.9 209.4,226.6 C210.8,228.2 212.7,229.2 213.8,231.0 C214.8,232.7 215.6,236.0 215.9,237.0"/>
<path d="M149.2,236.4 C150.4,237.4 153.7,240.0 156.3,242.1 C158.8,244.2 161.9,247.0 164.7,249.1 C167.5,251.2 170.3,253.1 173.1,254.7 C175.9,256.4 178.3,257.8 181.6,258.9 C184.8,260.1 189.1,261.1 192.8,261.8 C196.6,262.5 200.3,262.9 204.1,263.2 C207.8,263.4 212.0,263.6 215.3,263.2 C218.6,262.7 222.4,260.8 223.8,260.3"/>
<path d="M159.1,233.6 C160.2,234.6 163.8,237.6 166.1,239.3 C168.4,240.9 170.8,242.3 173.1,243.5 C175.5,244.6 177.6,245.3 180.2,246.3 C182.7,247.2 185.6,248.2 188.6,249.1 C191.6,250.0 195.2,251.2 198.4,251.9 C201.7,252.6 205.0,253.3 208.3,253.3 C211.6,253.3 215.1,252.6 218.1,251.9 C221.2,251.2 225.2,249.6 226.6,249.1"/>
<path d="M184.4,228.0 C184.6,229.4 184.8,233.9 185.8,236.4 C186.7,239.0 188.1,241.6 190.0,243.5 C191.9,245.3 194.5,246.8 197.0,247.7 C199.6,248.6 202.7,249.1 205.5,249.1 C208.3,249.1 211.1,248.4 213.9,247.7 C216.7,247.0 219.8,246.0 222.4,244.9 C224.9,243.7 228.2,241.4 229.4,240.7"/>
<path d="M198.4,228.0 C198.9,228.9 199.6,232.0 201.3,233.6 C202.9,235.3 205.5,236.9 208.3,237.8 C211.1,238.8 215.1,239.5 218.1,239.3 C221.2,239.0 224.2,237.6 226.6,236.4 C228.9,235.3 231.3,232.9 232.2,232.2"/>
<path d="M316.3,120.0 C316.0,121.6 314.7,126.3 314.8,129.4 C314.8,132.5 315.7,135.9 316.6,138.8 C317.6,141.6 319.6,144.3 320.4,146.3 C321.2,148.2 321.3,149.7 321.5,150.4"/>
<path d="M290.0,163.1 C291.9,162.8 297.8,162.2 301.3,161.3 C304.7,160.3 307.3,159.3 310.6,157.5 C314.0,155.7 319.7,151.6 321.5,150.4"/>
<path d="M305.0,163.1 C304.7,164.7 303.4,169.1 303.1,172.5 C302.8,175.9 302.8,180.0 303.1,183.8 C303.4,187.5 304.4,190.6 305.0,195.0 C305.6,199.4 306.6,207.5 306.9,210.0"/>
<path d="M345.3,135.9 C345.6,137.0 346.9,139.8 347.2,142.5 C347.5,145.2 347.6,148.9 347.2,151.9 C346.8,154.8 345.8,157.6 344.8,160.3 C343.7,163.1 342.6,166.5 340.6,168.4 C338.7,170.2 335.9,170.6 333.1,171.4 C330.3,172.1 326.3,172.3 323.8,172.9 C321.3,173.4 319.1,174.4 318.1,174.8"/>
<path d="M368.8,120.0 C368.6,120.7 369.1,122.8 367.8,124.1 C366.6,125.4 363.9,126.4 361.3,127.9 C358.6,129.3 354.5,131.4 351.9,132.8 C349.2,134.1 346.4,135.4 345.3,135.9"/>
<path d="M370.6,142.5 C371.0,144.1 372.0,148.8 372.9,151.9 C373.8,155.0 375.4,158.1 375.9,161.3 C376.4,164.4 376.4,167.5 375.9,170.6 C375.3,173.8 373.7,176.9 372.5,180.0 C371.3,183.1 370.5,186.4 368.8,189.0 C367.0,191.6 364.7,193.8 362.2,195.4 C359.7,196.9 356.7,197.8 353.8,198.4 C350.8,198.9 347.5,198.9 344.4,198.8 C341.3,198.6 337.8,197.8 335.0,197.3 C332.2,196.7 328.8,195.7 327.5,195.4"/>
<path d="M340.6,168.4 C342.5,169.4 349.1,172.7 351.9,174.4 C354.7,176.1 356.0,177.2 357.5,178.5 C359.0,179.8 360.3,181.6 360.9,182.3"/>
<path d="M395.0,120.0 C395.6,121.9 398.3,126.9 398.4,131.3 C398.4,135.6 396.6,141.9 395.4,146.3 C394.2,150.6 393.2,154.4 391.3,157.5 C389.3,160.6 385.9,163.1 383.8,165.0 C381.6,166.9 379.1,168.4 378.1,169.1"/>
<path d="M391.3,157.5 C393.1,156.6 399.4,153.4 402.5,151.9 C405.6,150.3 408.8,148.8 410.0,148.1"/>
<path d="M379.6,167.3 C380.9,167.6 384.9,167.6 387.5,169.1 C390.1,170.6 392.5,174.1 395.0,176.3 C397.5,178.4 400.0,180.6 402.5,181.9 C405.0,183.1 408.8,183.4 410.0,183.8"/>
<path d="M368.8,191.3 C370.3,191.9 375.0,193.8 378.1,195.0 C381.3,196.3 384.1,197.5 387.5,198.8 C390.9,200.0 395.0,201.6 398.8,202.5 C402.5,203.4 408.1,204.1 410.0,204.4"/>
<path d="M290.0,135.0 C291.3,134.7 294.4,133.7 297.5,133.1 C300.6,132.6 305.9,132.3 308.8,131.6 C311.6,131.0 313.8,129.8 314.8,129.4"/>
<path d="M335.0,197.3 C335.0,198.1 334.7,200.4 335.0,202.5 C335.3,204.6 336.6,208.8 336.9,210.0"/>
<path d="M355.6,198.8 C355.3,200.0 354.4,204.4 353.8,206.3 C353.1,208.1 352.2,209.4 351.9,210.0"/>
<path d="M303.1,183.8 C301.9,184.4 297.8,186.6 295.6,187.5 C293.4,188.4 290.9,189.1 290.0,189.4"/>
<path d="M435.0,140.0 C434.8,141.7 434.2,146.7 433.8,150.0 C433.3,153.3 433.1,156.5 432.5,160.0 C431.9,163.5 430.8,167.7 430.0,171.2 C429.2,174.8 428.1,178.1 427.5,181.2 C426.9,184.4 426.7,186.9 426.2,190.0 C425.8,193.1 425.2,198.3 425.0,200.0"/>
<path d="M450.0,140.0 C450.0,141.7 449.8,146.7 450.0,150.0 C450.2,153.3 451.2,156.7 451.2,160.0 C451.2,163.3 450.6,167.3 450.0,170.0 C449.4,172.7 448.8,174.2 447.5,176.2 C446.2,178.3 444.2,180.2 442.5,182.5 C440.8,184.8 439.2,187.1 437.5,190.0 C435.8,192.9 433.3,198.3 432.5,200.0"/>
<path d="M457.5,147.5 C457.9,149.0 459.2,153.3 460.0,156.2 C460.8,159.2 462.1,162.3 462.5,165.0 C462.9,167.7 462.5,171.2 462.5,172.5"/>
<path d="M447.5,176.2 C449.0,175.8 453.3,174.4 456.2,173.8 C459.2,173.1 462.9,173.5 465.0,172.5 C467.1,171.5 468.1,168.3 468.8,167.5"/>
<path d="M465.0,172.5 C465.8,173.3 468.5,175.4 470.0,177.5 C471.5,179.6 472.7,182.5 473.8,185.0 C474.8,187.5 475.6,190.0 476.2,192.5 C476.9,195.0 477.3,198.8 477.5,200.0"/>
<path d="M437.5,140.0 C438.5,140.6 442.1,142.5 443.8,143.8 C445.4,145.0 446.9,146.9 447.5,147.5"/>
<path d="M416.2,195.0 C415.8,196.7 414.6,201.9 413.8,205.0 C412.9,208.1 412.1,211.5 411.2,213.8 C410.4,216.0 410.2,217.5 408.8,218.8 C407.3,220.0 404.8,220.4 402.5,221.2 C400.2,222.1 397.9,222.9 395.0,223.8 C392.1,224.6 388.3,225.6 385.0,226.2 C381.7,226.9 377.9,227.1 375.0,227.5 C372.1,227.9 370.0,227.9 367.5,228.8 C365.0,229.6 361.2,231.9 360.0,232.5"/>
<path d="M408.8,218.8 C410.0,219.2 413.5,220.0 416.2,221.2 C419.0,222.5 422.4,224.5 425.0,226.2 C427.6,228.0 430.7,230.9 431.9,231.9"/>
<path d="M462.5,195.0 C461.2,196.2 456.7,200.6 455.0,202.5 C453.3,204.4 452.9,205.6 452.5,206.2"/>
<path d="M465.0,202.5 C466.2,203.8 470.8,207.1 472.5,210.0 C474.2,212.9 474.2,216.2 475.0,220.0 C475.8,223.8 476.7,228.3 477.5,232.5 C478.3,236.7 479.4,241.2 480.0,245.0 C480.6,248.8 481.0,253.3 481.2,255.0"/>
<path d="M480.0,207.5 C480.4,209.6 481.7,215.8 482.5,220.0 C483.3,224.2 484.4,228.8 485.0,232.5 C485.6,236.2 486.0,240.8 486.2,242.5"/>
<path d="M477.5,266.2 C477.7,267.9 478.3,273.1 478.8,276.2 C479.2,279.4 479.8,283.5 480.0,285.0"/>
<path d="M475.0,245.0 C475.4,246.7 476.9,251.7 477.5,255.0 C478.1,258.3 478.5,263.3 478.8,265.0"/>
<path d="M342.5,167.5 C345.0,168.4 353.1,170.8 357.5,173.0 C361.9,175.2 365.2,179.0 369.0,180.6 C372.8,182.2 378.2,182.2 380.0,182.5"/>
<path d="M230.0,252.0 C231.7,250.2 237.2,243.7 240.0,241.0 C242.8,238.3 245.8,236.8 247.0,236.0"/>
<path d="M362.5,231.2 C363.8,230.6 367.1,228.1 370.0,227.5 C372.9,226.9 378.3,227.5 380.0,227.5" stroke-width="5.60"/>
<path d="M225.0,277.5 C226.2,278.5 230.0,282.3 232.5,283.8 C235.0,285.2 237.3,285.6 240.0,286.2 C242.7,286.9 246.0,286.7 248.8,287.5 C251.5,288.3 254.0,290.4 256.2,291.2 C258.5,292.1 260.2,292.1 262.5,292.5 C264.8,292.9 268.8,293.5 270.0,293.8" stroke-width="5.60"/>
<path d="M240.0,267.5 C240.8,269.2 243.3,274.8 245.0,277.5 C246.7,280.2 248.3,282.1 250.0,283.8 C251.7,285.4 254.2,286.9 255.0,287.5" stroke-width="5.60"/>
<path d="M232.5,263.8 C234.0,264.2 238.8,266.0 241.2,266.2 C243.8,266.5 245.0,265.6 247.5,265.0 C250.0,264.4 253.8,263.1 256.2,262.5 C258.8,261.9 260.4,261.9 262.5,261.2 C264.6,260.6 267.7,259.2 268.8,258.8" stroke-width="5.60"/>
<path d="M235.0,296.2 C236.5,297.3 240.8,300.8 243.8,302.5 C246.7,304.2 249.4,305.2 252.5,306.2 C255.6,307.3 259.2,308.1 262.5,308.8 C265.8,309.4 269.2,310.0 272.5,310.0 C275.8,310.0 278.8,309.4 282.5,308.8 C286.2,308.1 291.2,306.9 295.0,306.2 C298.8,305.6 303.3,305.2 305.0,305.0" stroke-width="5.60"/>
<path d="M341.2,280.0 C342.7,279.4 346.9,277.9 350.0,276.2 C353.1,274.6 356.7,271.5 360.0,270.0 C363.3,268.5 366.7,268.1 370.0,267.5 C373.3,266.9 378.3,266.5 380.0,266.2" stroke-width="5.60"/>
<path d="M360.0,261.2 C361.7,261.7 366.7,263.5 370.0,263.8 C373.3,264.0 378.3,262.7 380.0,262.5" stroke-width="5.60"/>
<path d="M154.8,249.1 C156.3,250.3 160.5,254.0 163.3,256.1 C166.1,258.2 168.7,260.1 171.7,261.8 C174.8,263.4 178.1,264.8 181.6,266.0 C185.1,267.1 189.1,268.1 192.8,268.8 C196.6,269.5 200.3,270.0 204.1,270.2 C207.8,270.4 213.4,270.2 215.3,270.2" stroke-width="5.60"/>
<path d="M360.0,232.5 C360.8,233.5 362.9,236.7 365.0,238.8 C367.1,240.8 370.4,243.1 372.5,245.0 C374.6,246.9 375.8,248.3 377.5,250.0 C379.2,251.7 381.7,254.2 382.5,255.0" stroke-width="5.60"/>
<path d="M435.0,195.0 C434.8,197.1 434.2,203.3 433.8,207.5 C433.3,211.7 432.3,215.8 432.5,220.0 C432.7,224.2 434.2,228.8 435.0,232.5 C435.8,236.2 437.3,239.8 437.5,242.5 C437.7,245.2 437.1,246.7 436.2,248.8 C435.4,250.8 433.1,254.0 432.5,255.0" stroke-width="5.60"/>
<path d="M455.0,207.5 C456.0,208.8 459.4,212.1 461.2,215.0 C463.1,217.9 465.0,221.7 466.2,225.0 C467.5,228.3 468.1,231.7 468.8,235.0 C469.4,238.3 470.0,241.7 470.0,245.0 C470.0,248.3 469.0,253.3 468.8,255.0" stroke-width="5.60"/>
<path d="M452.5,225.0 C452.7,226.0 453.5,230.2 453.8,231.2" stroke-width="5.60"/>
<path d="M437.5,247.5 C439.6,247.7 445.8,248.8 450.0,248.8 C454.2,248.8 458.8,247.3 462.5,247.5 C466.2,247.7 470.8,249.6 472.5,250.0" stroke-width="5.60"/>
<path d="M378.8,248.8 C379.8,249.4 382.3,251.0 385.0,252.5 C387.7,254.0 391.9,256.0 395.0,257.5 C398.1,259.0 400.8,260.4 403.8,261.2 C406.7,262.1 409.8,262.5 412.5,262.5 C415.2,262.5 417.1,262.5 420.0,261.2 C422.9,260.0 427.1,257.1 430.0,255.0 C432.9,252.9 436.2,249.8 437.5,248.8" stroke-width="5.60"/>
<path d="M412.5,262.5 C412.3,263.8 411.2,267.1 411.2,270.0 C411.2,272.9 411.9,277.3 412.5,280.0 C413.1,282.7 414.4,284.4 415.0,286.2 C415.6,288.1 416.2,289.4 416.2,291.2 C416.2,293.1 415.2,296.5 415.0,297.5" stroke-width="5.60"/>
<path d="M382.5,282.5 C384.0,282.7 388.1,283.8 391.2,283.8 C394.4,283.8 397.9,283.1 401.2,282.5 C404.6,281.9 409.6,280.4 411.2,280.0" stroke-width="5.60"/>
<path d="M381.2,283.8 C381.5,284.8 381.9,288.1 382.5,290.0 C383.1,291.9 384.6,294.2 385.0,295.0" stroke-width="5.60"/>
<path d="M430.0,272.5 C430.4,273.3 431.2,275.8 432.5,277.5 C433.8,279.2 436.2,281.0 437.5,282.5 C438.8,284.0 439.6,285.6 440.0,286.2" stroke-width="5.60"/>
<path d="M437.5,245.0 C436.7,245.8 434.6,248.8 432.5,250.0 C430.4,251.2 426.2,252.1 425.0,252.5" stroke-width="5.60"/>
<path d="M432.5,273.8 C433.3,273.1 434.6,271.2 437.5,270.0 C440.4,268.8 445.8,267.1 450.0,266.2 C454.2,265.4 458.8,265.4 462.5,265.0 C466.2,264.6 470.0,264.6 472.5,263.8 C475.0,262.9 475.8,261.5 477.5,260.0 C479.2,258.5 480.8,256.9 482.5,255.0 C484.2,253.1 486.7,249.8 487.5,248.8" stroke-width="5.60"/>
<path d="M432.5,273.8 C432.9,275.2 433.8,280.0 435.0,282.5 C436.2,285.0 438.1,286.9 440.0,288.8 C441.9,290.6 443.5,292.5 446.2,293.8 C449.0,295.0 452.5,296.0 456.2,296.2 C460.0,296.5 465.2,295.8 468.8,295.0 C472.3,294.2 475.4,292.7 477.5,291.2 C479.6,289.8 480.6,287.1 481.2,286.2" stroke-width="5.60"/>
<path d="M462.5,268.8 C463.3,269.2 466.2,270.4 467.5,271.2 C468.8,272.1 469.6,273.3 470.0,273.8" stroke-width="5.60"/>
<path d="M425.0,292.5 C427.1,292.7 434.0,293.5 437.5,293.8 C441.0,294.0 444.8,293.8 446.2,293.8" stroke-width="5.60"/>
</g>
<g stroke="#eaaf64" stroke-width="5.5">
<path d="M140.6,222.0 C140.1,217.9 140.3,214.7 140.6,211.0 C140.9,207.3 141.8,203.8 142.5,200.0 C143.2,196.2 144.2,191.8 145.0,188.0 C145.8,184.2 146.5,180.8 147.5,177.5 C148.5,174.2 149.7,170.6 151.0,168.0 C152.3,165.4 153.6,163.8 155.2,161.7 C156.8,159.6 158.7,157.5 160.4,155.4 C162.1,153.3 163.9,151.0 165.6,149.2 C167.3,147.4 169.2,145.6 170.8,144.5 C172.4,143.4 173.9,143.2 175.0,142.4 C176.1,141.7 177.0,141.0 177.6,140.0 C178.2,139.0 177.7,137.8 178.3,136.5 C178.9,135.2 179.6,134.2 181.2,132.5 C182.9,130.8 186.1,128.2 188.5,126.2 C190.9,124.3 193.9,122.5 195.8,121.0 C197.7,119.5 197.5,118.6 200.0,117.2 C202.5,115.8 208.4,113.9 211.0,112.5 C213.6,111.1 213.5,109.9 215.6,108.6 C217.7,107.2 221.1,105.7 223.8,104.4 C226.4,103.1 229.2,101.6 231.2,100.8 C233.3,100.0 234.3,99.9 236.0,99.4 C237.7,98.9 239.6,98.5 241.4,97.7 C243.2,96.9 243.4,95.7 246.9,94.5 C250.4,93.3 257.8,91.9 262.5,90.6 C267.2,89.3 270.8,87.9 275.0,86.7 C279.2,85.5 283.9,84.4 287.5,83.6 C291.1,82.8 291.5,82.3 296.9,82.0 C302.3,81.7 314.7,82.1 320.0,82.0 C325.3,81.9 325.1,81.7 328.7,81.2 C332.3,80.7 337.3,78.9 341.9,79.0 C346.5,79.1 351.5,80.7 356.4,82.0 C361.2,83.3 367.3,85.8 371.0,87.0 C374.7,88.2 376.3,88.5 378.8,89.2 C381.2,90.0 382.5,90.2 385.6,91.4 C388.7,92.7 393.6,94.9 397.5,96.8 C401.4,98.6 404.7,100.4 408.8,102.4 C412.8,104.4 417.6,106.5 422.0,109.0 C426.4,111.5 431.3,114.4 435.0,117.4 C438.7,120.4 441.0,123.0 444.4,126.8 C447.8,130.5 452.6,136.1 455.6,140.0 C458.6,143.9 460.6,146.8 462.5,150.0 C464.4,153.2 465.2,156.0 467.0,159.4 C468.8,162.8 471.3,166.1 473.4,170.3 C475.5,174.5 477.9,180.2 479.7,184.4 C481.5,188.6 483.0,191.4 484.4,195.3 C485.8,199.2 487.0,203.7 488.3,207.8 C489.6,211.9 491.1,216.3 492.0,220.0 C492.9,223.7 493.4,226.6 494.0,230.0 C494.6,233.4 495.3,236.7 495.5,240.5 C495.7,244.3 495.5,248.5 495.0,253.0 C494.5,257.5 493.8,263.0 492.5,267.5 C491.2,272.0 489.4,276.8 487.5,280.0 C485.6,283.2 483.3,284.4 481.2,286.5 C479.2,288.6 477.3,290.7 475.0,292.5 C472.7,294.3 470.6,296.1 467.5,297.5 C464.4,298.9 460.2,300.2 456.2,301.0 C452.3,301.8 449.0,302.5 443.8,302.5 C438.5,302.5 431.5,301.7 425.0,301.2 C418.5,300.8 410.8,300.2 405.0,300.0 C399.2,299.8 395.9,299.4 390.3,300.0 C384.7,300.6 378.4,302.6 371.6,303.8 C364.8,304.9 356.6,306.1 349.7,307.0 C342.8,307.9 336.6,308.6 330.0,309.2 C323.4,309.8 315.0,309.6 310.3,310.3 C305.6,311.0 304.2,312.7 301.6,313.6 C299.1,314.5 298.5,314.7 295.0,315.8 C291.5,316.9 285.8,319.9 280.6,320.0 C275.4,320.1 269.1,318.2 264.0,316.4 C258.9,314.6 254.3,312.1 250.0,309.4 C245.7,306.7 241.6,303.2 238.4,300.0 C235.2,296.8 233.6,292.9 231.0,290.0 C228.4,287.1 224.7,285.0 223.0,282.5 C221.3,280.0 221.0,277.2 221.0,275.0 C221.0,272.8 223.6,269.9 223.0,269.4 C222.4,268.9 220.9,271.4 217.5,272.2 C214.1,273.0 207.5,273.9 202.5,274.0 C197.5,274.1 191.9,273.8 187.5,273.0 C183.1,272.2 179.7,270.9 176.2,269.4 C172.8,267.9 170.0,265.9 166.9,263.8 C163.8,261.6 160.3,259.1 157.5,256.2 C154.7,253.4 152.3,250.3 150.0,246.9 C147.7,243.5 145.0,239.8 143.4,235.6 C141.8,231.4 141.1,226.1 140.6,222.0Z" stroke-width="7.2"/>
<path d="M241.5,98.5 C241.4,99.3 241.4,101.5 240.6,103.1 C239.9,104.7 238.3,106.7 236.9,108.1 C235.4,109.5 233.8,110.4 231.9,111.5 C230.0,112.6 227.9,113.9 225.6,115.0 C223.3,116.1 220.6,117.1 218.1,118.1 C215.6,119.1 213.0,119.9 210.6,120.9 C208.2,121.9 205.8,122.9 203.8,124.0 C201.7,125.1 199.7,126.1 198.1,127.5 C196.6,128.9 195.1,130.7 194.4,132.5 C193.6,134.3 193.2,136.5 193.5,138.1 C193.8,139.8 195.8,141.8 196.2,142.5"/>
<path d="M196.2,142.5 C197.2,142.8 199.9,144.0 201.9,144.0 C203.9,144.0 205.5,143.3 208.1,142.2 C210.7,141.2 214.3,139.2 217.5,137.5 C220.7,135.8 224.7,133.6 227.5,131.9 C230.3,130.1 232.4,128.5 234.4,126.9 C236.4,125.2 237.9,123.9 239.4,121.9 C240.8,119.9 242.1,117.2 243.1,115.0 C244.2,112.8 244.4,110.6 245.6,108.8 C246.9,106.9 248.2,104.9 250.6,103.8 C253.0,102.6 258.4,102.2 260.0,101.9"/>
<path d="M210.6,148.8 C211.0,148.0 211.4,145.4 213.1,144.0 C214.9,142.6 218.0,141.4 221.2,140.6 C224.5,139.9 229.4,139.3 232.5,139.4 C235.6,139.5 237.5,141.1 240.0,141.2 C242.5,141.4 245.5,141.4 247.5,140.0 C249.5,138.6 251.0,135.5 252.2,133.1 C253.5,130.7 253.7,127.5 255.0,125.6 C256.3,123.8 259.2,122.5 260.0,121.9"/>
<path d="M246.2,140.0 C246.9,141.0 248.8,144.2 250.0,146.2 C251.2,148.3 252.5,150.4 253.8,152.5 C255.0,154.6 256.2,157.3 257.5,158.8 C258.8,160.2 259.2,160.8 261.2,161.2 C263.3,161.7 267.3,161.5 270.0,161.2 C272.7,161.0 275.6,161.5 277.5,160.0 C279.4,158.5 280.2,155.0 281.2,152.5 C282.3,150.0 283.1,147.1 283.8,145.0 C284.4,142.9 284.8,140.8 285.0,140.0"/>
<path d="M278.8,162.5 C278.3,164.2 277.3,169.4 276.2,172.5 C275.2,175.6 273.5,178.3 272.5,181.2 C271.5,184.2 270.6,186.9 270.0,190.0 C269.4,193.1 269.0,198.3 268.8,200.0"/>
<path d="M240.0,165.0 C239.2,166.2 236.5,169.8 235.0,172.5 C233.5,175.2 232.3,178.3 231.2,181.2 C230.2,184.2 229.4,186.9 228.8,190.0 C228.1,193.1 227.7,198.3 227.5,200.0"/>
<path d="M252.5,165.0 C252.7,166.7 253.5,171.7 253.8,175.0 C254.0,178.3 254.0,181.7 253.8,185.0 C253.5,188.3 252.9,192.5 252.5,195.0 C252.1,197.5 251.5,199.2 251.2,200.0"/>
<path d="M330.0,83.0 C330.4,83.8 332.2,85.7 332.5,88.0 C332.8,90.3 332.5,94.0 331.9,96.8 C331.2,99.5 330.1,102.0 328.8,104.2 C327.4,106.5 325.4,108.6 323.8,110.5 C322.1,112.4 320.2,113.4 318.8,115.5 C317.3,117.6 315.8,120.5 315.0,123.0 C314.2,125.5 314.2,128.0 313.8,130.5 C313.3,133.0 312.7,136.8 312.5,138.0"/>
<path d="M300.0,95.5 C301.2,95.0 304.8,93.4 307.5,92.4 C310.2,91.4 313.3,90.4 316.2,89.5 C319.2,88.6 322.7,87.5 325.0,86.8 C327.3,86.0 329.2,85.2 330.0,84.9"/>
<path d="M333.8,91.8 C335.0,91.5 338.5,90.7 341.2,90.5 C344.0,90.3 347.5,90.1 350.0,90.5 C352.5,90.9 355.2,92.6 356.2,93.0"/>
<path d="M353.8,94.2 C354.2,95.7 355.2,100.9 356.2,103.0 C357.3,105.1 358.1,105.3 360.0,106.8 C361.9,108.2 365.8,109.9 367.5,111.8 C369.2,113.6 369.8,116.1 370.0,118.0 C370.2,119.9 369.2,122.4 369.0,123.2"/>
<path d="M355.0,103.0 C356.2,103.2 359.6,104.2 362.5,104.2 C365.4,104.2 369.6,103.4 372.5,103.0 C375.4,102.6 378.8,102.0 380.0,101.8"/>
<path d="M372.5,88.0 C372.1,88.6 371.2,90.7 370.0,91.8 C368.8,92.8 365.8,93.8 365.0,94.2"/>
<path d="M368.8,124.2 C369.8,124.5 373.1,125.5 375.0,125.5 C376.9,125.5 379.2,124.5 380.0,124.2"/>
<path d="M300.0,211.2 C298.3,211.5 293.3,211.7 290.0,212.5 C286.7,213.3 283.3,215.0 280.0,216.2 C276.7,217.5 273.1,218.8 270.0,220.0 C266.9,221.2 263.8,222.3 261.2,223.8 C258.8,225.2 257.3,227.1 255.0,228.8 C252.7,230.4 249.8,232.1 247.5,233.8 C245.2,235.4 243.3,236.9 241.2,238.8 C239.2,240.6 236.7,243.1 235.0,245.0 C233.3,246.9 232.3,248.3 231.2,250.0 C230.2,251.7 229.2,254.2 228.8,255.0"/>
<path d="M300.0,232.5 C298.3,233.1 293.5,235.0 290.0,236.2 C286.5,237.5 282.1,238.5 278.8,240.0 C275.4,241.5 272.5,243.3 270.0,245.0 C267.5,246.7 265.2,248.3 263.8,250.0 C262.3,251.7 261.7,254.2 261.2,255.0"/>
<path d="M280.0,195.0 C280.4,196.0 281.2,199.2 282.5,201.2 C283.8,203.3 286.2,205.8 287.5,207.5 C288.8,209.2 289.6,210.6 290.0,211.2"/>
<path d="M230.0,236.2 C230.4,237.3 231.9,240.6 232.5,242.5 C233.1,244.4 233.8,245.4 233.8,247.5 C233.8,249.6 232.7,253.8 232.5,255.0"/>
<path d="M300.0,210.0 C302.1,209.8 308.8,209.4 312.5,208.8 C316.2,208.1 319.2,207.3 322.5,206.2 C325.8,205.2 329.4,203.6 332.5,202.5 C335.6,201.4 337.9,200.2 341.2,199.4 C344.6,198.5 349.0,197.9 352.5,197.5 C356.0,197.1 359.6,197.3 362.5,196.9 C365.4,196.5 367.1,195.7 370.0,195.0 C372.9,194.3 378.3,192.9 380.0,192.5"/>
<path d="M335.0,190.0 C335.0,190.8 335.6,193.3 335.0,195.0 C334.4,196.7 331.9,199.2 331.2,200.0"/>
<path d="M355.0,200.0 C354.6,201.2 353.5,205.2 352.5,207.5 C351.5,209.8 349.8,211.9 348.8,213.8 C347.7,215.6 347.3,217.1 346.2,218.8 C345.2,220.4 344.0,222.3 342.5,223.8 C341.0,225.2 339.0,226.7 337.5,227.5 C336.0,228.3 334.4,228.5 333.8,228.8"/>
<path d="M333.8,208.8 C333.5,209.8 332.9,212.9 332.5,215.0 C332.1,217.1 331.2,219.2 331.2,221.2 C331.2,223.3 331.7,226.0 332.5,227.5 C333.3,229.0 335.6,229.6 336.2,230.0"/>
<path d="M300.0,231.2 C301.7,231.5 306.7,232.1 310.0,232.5 C313.3,232.9 317.1,233.8 320.0,233.8 C322.9,233.8 325.4,233.1 327.5,232.5 C329.6,231.9 331.7,230.4 332.5,230.0"/>
<path d="M300.0,200.0 C300.6,199.0 302.9,195.4 303.8,193.8 C304.6,192.1 304.8,190.6 305.0,190.0"/>
<path d="M241.2,103.8 C242.3,103.4 244.6,102.3 247.5,101.9 C250.4,101.5 254.8,101.2 258.8,101.2 C262.7,101.2 267.5,101.8 271.2,101.9 C275.0,102.0 277.9,102.0 281.2,101.9 C284.6,101.8 289.6,101.4 291.2,101.2"/>
<path d="M265.0,91.9 C266.0,92.0 269.0,92.2 271.2,92.5 C273.5,92.8 277.1,93.5 278.8,93.8 C280.4,94.0 280.8,93.8 281.2,93.8"/>
<path d="M290.0,83.8 C290.4,85.2 292.1,89.6 292.5,92.5 C292.9,95.4 292.1,99.2 292.5,101.2 C292.9,103.3 294.4,103.1 295.0,105.0 C295.6,106.9 296.2,109.8 296.2,112.5 C296.2,115.2 295.6,118.5 295.0,121.2 C294.4,124.0 293.3,126.7 292.5,128.8 C291.7,130.8 290.8,131.9 290.0,133.8 C289.2,135.6 287.9,139.0 287.5,140.0"/>
<path d="M320.0,90.0 C318.3,90.6 312.9,92.5 310.0,93.8 C307.1,95.0 304.8,95.8 302.5,97.5 C300.2,99.2 297.3,102.7 296.2,103.8"/>
<path d="M256.2,118.8 C257.3,119.2 260.4,120.5 262.5,121.2 C264.6,122.0 267.1,123.1 268.8,123.1 C270.4,123.1 271.9,121.6 272.5,121.2"/>
<path d="M268.8,123.1 C268.3,124.3 266.9,127.8 266.2,130.0 C265.6,132.2 265.2,135.2 265.0,136.2"/>
<path d="M240.0,121.2 C240.8,122.3 243.5,125.4 245.0,127.5 C246.5,129.6 247.9,131.7 248.8,133.8 C249.6,135.8 249.8,139.0 250.0,140.0"/>
<path d="M375.0,97.5 C376.2,98.1 380.2,99.8 382.5,101.2 C384.8,102.7 387.1,104.4 388.8,106.2 C390.4,108.1 391.7,111.0 392.5,112.5 C393.3,114.0 392.5,114.6 393.8,115.0 C395.0,115.4 397.7,115.2 400.0,115.0 C402.3,114.8 404.8,114.1 407.5,113.8 C410.2,113.4 413.3,112.9 416.2,113.1 C419.2,113.3 422.7,114.1 425.0,115.0 C427.3,115.9 428.5,117.1 430.0,118.8 C431.5,120.4 432.7,122.3 433.8,125.0 C434.8,127.7 435.6,131.7 436.2,135.0 C436.9,138.3 437.3,143.3 437.5,145.0"/>
<path d="M375.0,122.5 C375.8,122.3 377.9,121.2 380.0,121.2 C382.1,121.2 385.2,121.7 387.5,122.5 C389.8,123.3 391.9,125.0 393.8,126.2 C395.6,127.5 397.3,128.5 398.8,130.0 C400.2,131.5 401.5,132.5 402.5,135.0 C403.5,137.5 404.6,143.3 405.0,145.0"/>
<path d="M412.5,127.5 C412.3,128.8 411.5,132.5 411.2,135.0 C411.0,137.5 411.0,140.8 411.2,142.5 C411.5,144.2 412.3,144.6 412.5,145.0"/>
<path d="M440.0,126.2 C440.4,127.7 441.7,131.9 442.5,135.0 C443.3,138.1 444.6,143.3 445.0,145.0"/>
<path d="M425.0,183.8 C424.0,184.8 420.8,188.3 418.8,190.0 C416.7,191.7 414.6,192.9 412.5,193.8 C410.4,194.6 407.3,194.8 406.2,195.0"/>
<path d="M178.3,141.6 C178.5,142.7 179.4,145.6 179.4,148.1 C179.4,150.7 178.7,154.3 178.3,156.9 C177.9,159.4 177.6,161.3 177.2,163.4 C176.8,165.6 176.5,167.5 176.1,170.0 C175.7,172.6 175.0,175.9 175.0,178.8 C175.0,181.6 175.9,185.6 176.1,187.0"/>
<path d="M193.6,135.0 C193.8,136.5 194.7,140.8 194.7,143.8 C194.7,146.7 194.0,150.0 193.6,152.5 C193.2,155.1 192.9,156.7 192.5,159.1 C192.2,161.4 192.0,164.5 191.4,166.7 C190.9,168.9 189.8,170.2 189.2,172.2 C188.7,174.2 188.1,176.3 188.1,178.8 C188.1,181.2 189.1,185.6 189.2,187.0"/>
<path d="M179.4,150.3 C180.7,150.6 184.7,152.0 187.0,152.0 C189.4,152.0 192.5,150.6 193.6,150.3"/>
<path d="M192.5,166.7 C194.0,166.7 198.4,166.7 201.3,166.7 C204.2,166.7 208.6,166.7 210.0,166.7"/>
<path d="M176.1,171.1 C177.4,171.3 181.4,172.2 183.8,172.2 C186.1,172.2 189.2,171.3 190.3,171.1"/>
<path d="M166.3,167.8 C167.2,168.0 170.1,168.6 171.7,168.9 C173.4,169.3 175.4,169.8 176.1,170.0"/>
<path d="M156.4,159.1 C158.1,158.9 164.3,159.3 166.3,158.0 C168.3,156.7 168.1,152.5 168.4,151.4"/>
<path d="M158.6,176.6 C159.9,176.2 164.8,175.8 166.3,174.4 C167.7,172.9 167.2,168.9 167.4,167.8"/>
<path d="M154.2,185.0 C154.0,186.1 153.9,189.4 153.1,191.6 C152.4,193.8 150.9,196.1 149.8,198.1 C148.8,200.1 147.5,202.1 146.6,203.6 C145.7,205.1 144.7,206.3 144.4,206.9"/>
<path d="M144.4,206.9 C145.1,207.8 147.3,210.2 148.8,212.4 C150.2,214.5 151.9,217.6 153.1,220.0 C154.4,222.4 155.0,224.8 156.4,226.6 C157.9,228.4 159.9,229.9 161.9,231.0 C163.9,232.0 167.4,232.8 168.4,233.1"/>
<path d="M167.4,185.0 C167.5,186.1 168.4,189.4 168.4,191.6 C168.4,193.8 167.7,196.1 167.4,198.1 C167.0,200.1 167.2,202.1 166.3,203.6 C165.3,205.1 163.0,205.8 161.9,206.9 C160.8,208.0 160.1,209.6 159.7,210.2"/>
<path d="M176.1,185.0 C176.3,186.1 177.2,189.7 177.2,191.6 C177.2,193.4 176.7,194.1 176.1,195.9 C175.6,197.8 174.3,201.4 173.9,202.5"/>
<path d="M159.7,210.2 C160.8,209.8 164.1,208.5 166.3,208.0 C168.4,207.4 170.6,207.2 172.8,206.9 C175.0,206.6 177.2,206.3 179.4,206.3 C181.6,206.3 184.1,206.2 186.0,206.9 C187.8,207.5 189.4,208.5 190.3,210.2 C191.2,211.8 191.4,214.7 191.4,216.7 C191.4,218.7 191.2,220.7 190.3,222.2 C189.4,223.7 188.0,224.8 186.0,225.5 C183.9,226.2 180.5,226.6 178.3,226.6 C176.1,226.6 174.8,225.8 172.8,225.5 C170.8,225.1 168.3,224.9 166.3,224.4 C164.3,223.8 162.1,223.5 160.8,222.2 C159.5,220.9 158.8,218.7 158.6,216.7 C158.4,214.7 159.5,211.3 159.7,210.2"/>
<path d="M190.3,210.2 C191.4,209.6 194.7,208.3 196.9,206.9 C199.1,205.4 201.6,203.2 203.5,201.4 C205.3,199.6 206.7,197.0 207.8,195.9 C208.9,194.8 209.7,195.0 210.0,194.8"/>
<path d="M179.4,185.0 C180.1,186.1 181.6,189.4 183.8,191.6 C186.0,193.8 189.6,196.9 192.5,198.1 C195.4,199.4 199.1,199.6 201.3,199.2 C203.5,198.9 204.9,196.5 205.6,195.9"/>
<path d="M191.4,217.8 C192.5,218.4 195.6,220.0 198.0,221.1 C200.4,222.2 203.6,223.7 205.6,224.4 C207.7,225.1 209.3,225.3 210.0,225.5"/>
<path d="M186.0,225.5 C186.1,226.4 187.0,229.0 187.0,231.0 C187.0,232.9 186.1,236.0 186.0,237.0"/>
<path d="M209.4,143.8 C209.7,145.0 210.5,149.2 211.6,151.4 C212.7,153.6 214.1,155.1 215.9,156.9 C217.8,158.7 220.7,161.3 222.5,162.4 C224.3,163.4 225.1,163.4 226.9,163.4 C228.7,163.4 231.1,162.4 233.4,162.4 C235.8,162.4 238.6,163.6 241.1,163.4 C243.7,163.3 246.2,162.0 248.8,161.3 C251.3,160.5 255.1,159.4 256.4,159.1"/>
<path d="M222.5,162.4 C222.5,163.6 222.7,167.3 222.5,170.0 C222.3,172.7 221.8,175.9 221.4,178.8 C221.0,181.6 220.5,185.6 220.3,187.0"/>
<path d="M237.8,167.8 C237.5,169.3 236.2,173.4 235.6,176.6 C235.1,179.8 234.7,185.2 234.5,187.0"/>
<path d="M231.3,185.0 C230.9,186.5 229.6,191.0 229.1,193.8 C228.5,196.5 228.0,198.7 228.0,201.4 C228.0,204.1 228.5,207.4 229.1,210.2 C229.6,212.9 230.3,215.5 231.3,217.8 C232.2,220.2 234.0,223.3 234.5,224.4"/>
<path d="M253.1,185.0 C253.0,186.5 252.2,190.8 252.0,193.8 C251.9,196.7 251.9,199.6 252.0,202.5 C252.2,205.4 252.6,208.7 253.1,211.3 C253.7,213.8 254.4,216.0 255.3,217.8 C256.2,219.6 257.9,221.1 258.6,222.2 C259.3,223.3 259.5,224.0 259.7,224.4"/>
<path d="M270.6,185.0 C270.5,186.8 269.9,192.3 269.6,195.9 C269.2,199.6 268.5,204.0 268.5,206.9 C268.5,209.8 269.4,212.4 269.6,213.4"/>
<path d="M205.0,199.2 C205.9,199.4 208.6,200.0 210.5,200.3 C212.3,200.7 213.9,200.9 215.9,201.4 C217.9,202.0 220.7,202.9 222.5,203.6 C224.3,204.3 225.8,204.7 226.9,205.8 C228.0,206.9 228.7,209.4 229.1,210.2"/>
<path d="M205.0,211.3 C206.1,211.6 209.4,212.4 211.6,213.4 C213.8,214.5 215.9,216.5 218.1,217.8 C220.3,219.1 222.5,220.0 224.7,221.1 C226.9,222.2 229.1,223.5 231.3,224.4 C233.4,225.3 235.6,225.7 237.8,226.6 C240.0,227.5 242.6,228.9 244.4,229.6 C246.2,230.3 248.0,230.6 248.8,230.7"/>
<path d="M205.0,221.1 C205.7,222.0 207.9,224.9 209.4,226.6 C210.8,228.2 212.7,229.2 213.8,231.0 C214.8,232.7 215.6,236.0 215.9,237.0"/>
<path d="M149.2,236.4 C150.4,237.4 153.7,240.0 156.3,242.1 C158.8,244.2 161.9,247.0 164.7,249.1 C167.5,251.2 170.3,253.1 173.1,254.7 C175.9,256.4 178.3,257.8 181.6,258.9 C184.8,260.1 189.1,261.1 192.8,261.8 C196.6,262.5 200.3,262.9 204.1,263.2 C207.8,263.4 212.0,263.6 215.3,263.2 C218.6,262.7 222.4,260.8 223.8,260.3"/>
<path d="M159.1,233.6 C160.2,234.6 163.8,237.6 166.1,239.3 C168.4,240.9 170.8,242.3 173.1,243.5 C175.5,244.6 177.6,245.3 180.2,246.3 C182.7,247.2 185.6,248.2 188.6,249.1 C191.6,250.0 195.2,251.2 198.4,251.9 C201.7,252.6 205.0,253.3 208.3,253.3 C211.6,253.3 215.1,252.6 218.1,251.9 C221.2,251.2 225.2,249.6 226.6,249.1"/>
<path d="M184.4,228.0 C184.6,229.4 184.8,233.9 185.8,236.4 C186.7,239.0 188.1,241.6 190.0,243.5 C191.9,245.3 194.5,246.8 197.0,247.7 C199.6,248.6 202.7,249.1 205.5,249.1 C208.3,249.1 211.1,248.4 213.9,247.7 C216.7,247.0 219.8,246.0 222.4,244.9 C224.9,243.7 228.2,241.4 229.4,240.7"/>
<path d="M198.4,228.0 C198.9,228.9 199.6,232.0 201.3,233.6 C202.9,235.3 205.5,236.9 208.3,237.8 C211.1,238.8 215.1,239.5 218.1,239.3 C221.2,239.0 224.2,237.6 226.6,236.4 C228.9,235.3 231.3,232.9 232.2,232.2"/>
<path d="M316.3,120.0 C316.0,121.6 314.7,126.3 314.8,129.4 C314.8,132.5 315.7,135.9 316.6,138.8 C317.6,141.6 319.6,144.3 320.4,146.3 C321.2,148.2 321.3,149.7 321.5,150.4"/>
<path d="M290.0,163.1 C291.9,162.8 297.8,162.2 301.3,161.3 C304.7,160.3 307.3,159.3 310.6,157.5 C314.0,155.7 319.7,151.6 321.5,150.4"/>
<path d="M305.0,163.1 C304.7,164.7 303.4,169.1 303.1,172.5 C302.8,175.9 302.8,180.0 303.1,183.8 C303.4,187.5 304.4,190.6 305.0,195.0 C305.6,199.4 306.6,207.5 306.9,210.0"/>
<path d="M345.3,135.9 C345.6,137.0 346.9,139.8 347.2,142.5 C347.5,145.2 347.6,148.9 347.2,151.9 C346.8,154.8 345.8,157.6 344.8,160.3 C343.7,163.1 342.6,166.5 340.6,168.4 C338.7,170.2 335.9,170.6 333.1,171.4 C330.3,172.1 326.3,172.3 323.8,172.9 C321.3,173.4 319.1,174.4 318.1,174.8"/>
<path d="M368.8,120.0 C368.6,120.7 369.1,122.8 367.8,124.1 C366.6,125.4 363.9,126.4 361.3,127.9 C358.6,129.3 354.5,131.4 351.9,132.8 C349.2,134.1 346.4,135.4 345.3,135.9"/>
<path d="M370.6,142.5 C371.0,144.1 372.0,148.8 372.9,151.9 C373.8,155.0 375.4,158.1 375.9,161.3 C376.4,164.4 376.4,167.5 375.9,170.6 C375.3,173.8 373.7,176.9 372.5,180.0 C371.3,183.1 370.5,186.4 368.8,189.0 C367.0,191.6 364.7,193.8 362.2,195.4 C359.7,196.9 356.7,197.8 353.8,198.4 C350.8,198.9 347.5,198.9 344.4,198.8 C341.3,198.6 337.8,197.8 335.0,197.3 C332.2,196.7 328.8,195.7 327.5,195.4"/>
<path d="M340.6,168.4 C342.5,169.4 349.1,172.7 351.9,174.4 C354.7,176.1 356.0,177.2 357.5,178.5 C359.0,179.8 360.3,181.6 360.9,182.3"/>
<path d="M395.0,120.0 C395.6,121.9 398.3,126.9 398.4,131.3 C398.4,135.6 396.6,141.9 395.4,146.3 C394.2,150.6 393.2,154.4 391.3,157.5 C389.3,160.6 385.9,163.1 383.8,165.0 C381.6,166.9 379.1,168.4 378.1,169.1"/>
<path d="M391.3,157.5 C393.1,156.6 399.4,153.4 402.5,151.9 C405.6,150.3 408.8,148.8 410.0,148.1"/>
<path d="M379.6,167.3 C380.9,167.6 384.9,167.6 387.5,169.1 C390.1,170.6 392.5,174.1 395.0,176.3 C397.5,178.4 400.0,180.6 402.5,181.9 C405.0,183.1 408.8,183.4 410.0,183.8"/>
<path d="M368.8,191.3 C370.3,191.9 375.0,193.8 378.1,195.0 C381.3,196.3 384.1,197.5 387.5,198.8 C390.9,200.0 395.0,201.6 398.8,202.5 C402.5,203.4 408.1,204.1 410.0,204.4"/>
<path d="M290.0,135.0 C291.3,134.7 294.4,133.7 297.5,133.1 C300.6,132.6 305.9,132.3 308.8,131.6 C311.6,131.0 313.8,129.8 314.8,129.4"/>
<path d="M335.0,197.3 C335.0,198.1 334.7,200.4 335.0,202.5 C335.3,204.6 336.6,208.8 336.9,210.0"/>
<path d="M355.6,198.8 C355.3,200.0 354.4,204.4 353.8,206.3 C353.1,208.1 352.2,209.4 351.9,210.0"/>
<path d="M303.1,183.8 C301.9,184.4 297.8,186.6 295.6,187.5 C293.4,188.4 290.9,189.1 290.0,189.4"/>
<path d="M435.0,140.0 C434.8,141.7 434.2,146.7 433.8,150.0 C433.3,153.3 433.1,156.5 432.5,160.0 C431.9,163.5 430.8,167.7 430.0,171.2 C429.2,174.8 428.1,178.1 427.5,181.2 C426.9,184.4 426.7,186.9 426.2,190.0 C425.8,193.1 425.2,198.3 425.0,200.0"/>
<path d="M450.0,140.0 C450.0,141.7 449.8,146.7 450.0,150.0 C450.2,153.3 451.2,156.7 451.2,160.0 C451.2,163.3 450.6,167.3 450.0,170.0 C449.4,172.7 448.8,174.2 447.5,176.2 C446.2,178.3 444.2,180.2 442.5,182.5 C440.8,184.8 439.2,187.1 437.5,190.0 C435.8,192.9 433.3,198.3 432.5,200.0"/>
<path d="M457.5,147.5 C457.9,149.0 459.2,153.3 460.0,156.2 C460.8,159.2 462.1,162.3 462.5,165.0 C462.9,167.7 462.5,171.2 462.5,172.5"/>
<path d="M447.5,176.2 C449.0,175.8 453.3,174.4 456.2,173.8 C459.2,173.1 462.9,173.5 465.0,172.5 C467.1,171.5 468.1,168.3 468.8,167.5"/>
<path d="M465.0,172.5 C465.8,173.3 468.5,175.4 470.0,177.5 C471.5,179.6 472.7,182.5 473.8,185.0 C474.8,187.5 475.6,190.0 476.2,192.5 C476.9,195.0 477.3,198.8 477.5,200.0"/>
<path d="M437.5,140.0 C438.5,140.6 442.1,142.5 443.8,143.8 C445.4,145.0 446.9,146.9 447.5,147.5"/>
<path d="M416.2,195.0 C415.8,196.7 414.6,201.9 413.8,205.0 C412.9,208.1 412.1,211.5 411.2,213.8 C410.4,216.0 410.2,217.5 408.8,218.8 C407.3,220.0 404.8,220.4 402.5,221.2 C400.2,222.1 397.9,222.9 395.0,223.8 C392.1,224.6 388.3,225.6 385.0,226.2 C381.7,226.9 377.9,227.1 375.0,227.5 C372.1,227.9 370.0,227.9 367.5,228.8 C365.0,229.6 361.2,231.9 360.0,232.5"/>
<path d="M408.8,218.8 C410.0,219.2 413.5,220.0 416.2,221.2 C419.0,222.5 422.4,224.5 425.0,226.2 C427.6,228.0 430.7,230.9 431.9,231.9"/>
<path d="M462.5,195.0 C461.2,196.2 456.7,200.6 455.0,202.5 C453.3,204.4 452.9,205.6 452.5,206.2"/>
<path d="M465.0,202.5 C466.2,203.8 470.8,207.1 472.5,210.0 C474.2,212.9 474.2,216.2 475.0,220.0 C475.8,223.8 476.7,228.3 477.5,232.5 C478.3,236.7 479.4,241.2 480.0,245.0 C480.6,248.8 481.0,253.3 481.2,255.0"/>
<path d="M480.0,207.5 C480.4,209.6 481.7,215.8 482.5,220.0 C483.3,224.2 484.4,228.8 485.0,232.5 C485.6,236.2 486.0,240.8 486.2,242.5"/>
<path d="M477.5,266.2 C477.7,267.9 478.3,273.1 478.8,276.2 C479.2,279.4 479.8,283.5 480.0,285.0"/>
<path d="M475.0,245.0 C475.4,246.7 476.9,251.7 477.5,255.0 C478.1,258.3 478.5,263.3 478.8,265.0"/>
<path d="M342.5,167.5 C345.0,168.4 353.1,170.8 357.5,173.0 C361.9,175.2 365.2,179.0 369.0,180.6 C372.8,182.2 378.2,182.2 380.0,182.5"/>
<path d="M230.0,252.0 C231.7,250.2 237.2,243.7 240.0,241.0 C242.8,238.3 245.8,236.8 247.0,236.0"/>
<path d="M362.5,231.2 C363.8,230.6 367.1,228.1 370.0,227.5 C372.9,226.9 378.3,227.5 380.0,227.5" stroke-width="3.85"/>
<path d="M225.0,277.5 C226.2,278.5 230.0,282.3 232.5,283.8 C235.0,285.2 237.3,285.6 240.0,286.2 C242.7,286.9 246.0,286.7 248.8,287.5 C251.5,288.3 254.0,290.4 256.2,291.2 C258.5,292.1 260.2,292.1 262.5,292.5 C264.8,292.9 268.8,293.5 270.0,293.8" stroke-width="3.85"/>
<path d="M240.0,267.5 C240.8,269.2 243.3,274.8 245.0,277.5 C246.7,280.2 248.3,282.1 250.0,283.8 C251.7,285.4 254.2,286.9 255.0,287.5" stroke-width="3.85"/>
<path d="M232.5,263.8 C234.0,264.2 238.8,266.0 241.2,266.2 C243.8,266.5 245.0,265.6 247.5,265.0 C250.0,264.4 253.8,263.1 256.2,262.5 C258.8,261.9 260.4,261.9 262.5,261.2 C264.6,260.6 267.7,259.2 268.8,258.8" stroke-width="3.85"/>
<path d="M235.0,296.2 C236.5,297.3 240.8,300.8 243.8,302.5 C246.7,304.2 249.4,305.2 252.5,306.2 C255.6,307.3 259.2,308.1 262.5,308.8 C265.8,309.4 269.2,310.0 272.5,310.0 C275.8,310.0 278.8,309.4 282.5,308.8 C286.2,308.1 291.2,306.9 295.0,306.2 C298.8,305.6 303.3,305.2 305.0,305.0" stroke-width="3.85"/>
<path d="M341.2,280.0 C342.7,279.4 346.9,277.9 350.0,276.2 C353.1,274.6 356.7,271.5 360.0,270.0 C363.3,268.5 366.7,268.1 370.0,267.5 C373.3,266.9 378.3,266.5 380.0,266.2" stroke-width="3.85"/>
<path d="M360.0,261.2 C361.7,261.7 366.7,263.5 370.0,263.8 C373.3,264.0 378.3,262.7 380.0,262.5" stroke-width="3.85"/>
<path d="M154.8,249.1 C156.3,250.3 160.5,254.0 163.3,256.1 C166.1,258.2 168.7,260.1 171.7,261.8 C174.8,263.4 178.1,264.8 181.6,266.0 C185.1,267.1 189.1,268.1 192.8,268.8 C196.6,269.5 200.3,270.0 204.1,270.2 C207.8,270.4 213.4,270.2 215.3,270.2" stroke-width="3.85"/>
<path d="M360.0,232.5 C360.8,233.5 362.9,236.7 365.0,238.8 C367.1,240.8 370.4,243.1 372.5,245.0 C374.6,246.9 375.8,248.3 377.5,250.0 C379.2,251.7 381.7,254.2 382.5,255.0" stroke-width="3.85"/>
<path d="M435.0,195.0 C434.8,197.1 434.2,203.3 433.8,207.5 C433.3,211.7 432.3,215.8 432.5,220.0 C432.7,224.2 434.2,228.8 435.0,232.5 C435.8,236.2 437.3,239.8 437.5,242.5 C437.7,245.2 437.1,246.7 436.2,248.8 C435.4,250.8 433.1,254.0 432.5,255.0" stroke-width="3.85"/>
<path d="M455.0,207.5 C456.0,208.8 459.4,212.1 461.2,215.0 C463.1,217.9 465.0,221.7 466.2,225.0 C467.5,228.3 468.1,231.7 468.8,235.0 C469.4,238.3 470.0,241.7 470.0,245.0 C470.0,248.3 469.0,253.3 468.8,255.0" stroke-width="3.85"/>
<path d="M452.5,225.0 C452.7,226.0 453.5,230.2 453.8,231.2" stroke-width="3.85"/>
<path d="M437.5,247.5 C439.6,247.7 445.8,248.8 450.0,248.8 C454.2,248.8 458.8,247.3 462.5,247.5 C466.2,247.7 470.8,249.6 472.5,250.0" stroke-width="3.85"/>
<path d="M378.8,248.8 C379.8,249.4 382.3,251.0 385.0,252.5 C387.7,254.0 391.9,256.0 395.0,257.5 C398.1,259.0 400.8,260.4 403.8,261.2 C406.7,262.1 409.8,262.5 412.5,262.5 C415.2,262.5 417.1,262.5 420.0,261.2 C422.9,260.0 427.1,257.1 430.0,255.0 C432.9,252.9 436.2,249.8 437.5,248.8" stroke-width="3.85"/>
<path d="M412.5,262.5 C412.3,263.8 411.2,267.1 411.2,270.0 C411.2,272.9 411.9,277.3 412.5,280.0 C413.1,282.7 414.4,284.4 415.0,286.2 C415.6,288.1 416.2,289.4 416.2,291.2 C416.2,293.1 415.2,296.5 415.0,297.5" stroke-width="3.85"/>
<path d="M382.5,282.5 C384.0,282.7 388.1,283.8 391.2,283.8 C394.4,283.8 397.9,283.1 401.2,282.5 C404.6,281.9 409.6,280.4 411.2,280.0" stroke-width="3.85"/>
<path d="M381.2,283.8 C381.5,284.8 381.9,288.1 382.5,290.0 C383.1,291.9 384.6,294.2 385.0,295.0" stroke-width="3.85"/>
<path d="M430.0,272.5 C430.4,273.3 431.2,275.8 432.5,277.5 C433.8,279.2 436.2,281.0 437.5,282.5 C438.8,284.0 439.6,285.6 440.0,286.2" stroke-width="3.85"/>
<path d="M437.5,245.0 C436.7,245.8 434.6,248.8 432.5,250.0 C430.4,251.2 426.2,252.1 425.0,252.5" stroke-width="3.85"/>
<path d="M432.5,273.8 C433.3,273.1 434.6,271.2 437.5,270.0 C440.4,268.8 445.8,267.1 450.0,266.2 C454.2,265.4 458.8,265.4 462.5,265.0 C466.2,264.6 470.0,264.6 472.5,263.8 C475.0,262.9 475.8,261.5 477.5,260.0 C479.2,258.5 480.8,256.9 482.5,255.0 C484.2,253.1 486.7,249.8 487.5,248.8" stroke-width="3.85"/>
<path d="M432.5,273.8 C432.9,275.2 433.8,280.0 435.0,282.5 C436.2,285.0 438.1,286.9 440.0,288.8 C441.9,290.6 443.5,292.5 446.2,293.8 C449.0,295.0 452.5,296.0 456.2,296.2 C460.0,296.5 465.2,295.8 468.8,295.0 C472.3,294.2 475.4,292.7 477.5,291.2 C479.6,289.8 480.6,287.1 481.2,286.2" stroke-width="3.85"/>
<path d="M462.5,268.8 C463.3,269.2 466.2,270.4 467.5,271.2 C468.8,272.1 469.6,273.3 470.0,273.8" stroke-width="3.85"/>
<path d="M425.0,292.5 C427.1,292.7 434.0,293.5 437.5,293.8 C441.0,294.0 444.8,293.8 446.2,293.8" stroke-width="3.85"/>
</g>
<g stroke="#de9b54" stroke-width="3.6">
<path d="M140.6,222.0 C140.1,217.9 140.3,214.7 140.6,211.0 C140.9,207.3 141.8,203.8 142.5,200.0 C143.2,196.2 144.2,191.8 145.0,188.0 C145.8,184.2 146.5,180.8 147.5,177.5 C148.5,174.2 149.7,170.6 151.0,168.0 C152.3,165.4 153.6,163.8 155.2,161.7 C156.8,159.6 158.7,157.5 160.4,155.4 C162.1,153.3 163.9,151.0 165.6,149.2 C167.3,147.4 169.2,145.6 170.8,144.5 C172.4,143.4 173.9,143.2 175.0,142.4 C176.1,141.7 177.0,141.0 177.6,140.0 C178.2,139.0 177.7,137.8 178.3,136.5 C178.9,135.2 179.6,134.2 181.2,132.5 C182.9,130.8 186.1,128.2 188.5,126.2 C190.9,124.3 193.9,122.5 195.8,121.0 C197.7,119.5 197.5,118.6 200.0,117.2 C202.5,115.8 208.4,113.9 211.0,112.5 C213.6,111.1 213.5,109.9 215.6,108.6 C217.7,107.2 221.1,105.7 223.8,104.4 C226.4,103.1 229.2,101.6 231.2,100.8 C233.3,100.0 234.3,99.9 236.0,99.4 C237.7,98.9 239.6,98.5 241.4,97.7 C243.2,96.9 243.4,95.7 246.9,94.5 C250.4,93.3 257.8,91.9 262.5,90.6 C267.2,89.3 270.8,87.9 275.0,86.7 C279.2,85.5 283.9,84.4 287.5,83.6 C291.1,82.8 291.5,82.3 296.9,82.0 C302.3,81.7 314.7,82.1 320.0,82.0 C325.3,81.9 325.1,81.7 328.7,81.2 C332.3,80.7 337.3,78.9 341.9,79.0 C346.5,79.1 351.5,80.7 356.4,82.0 C361.2,83.3 367.3,85.8 371.0,87.0 C374.7,88.2 376.3,88.5 378.8,89.2 C381.2,90.0 382.5,90.2 385.6,91.4 C388.7,92.7 393.6,94.9 397.5,96.8 C401.4,98.6 404.7,100.4 408.8,102.4 C412.8,104.4 417.6,106.5 422.0,109.0 C426.4,111.5 431.3,114.4 435.0,117.4 C438.7,120.4 441.0,123.0 444.4,126.8 C447.8,130.5 452.6,136.1 455.6,140.0 C458.6,143.9 460.6,146.8 462.5,150.0 C464.4,153.2 465.2,156.0 467.0,159.4 C468.8,162.8 471.3,166.1 473.4,170.3 C475.5,174.5 477.9,180.2 479.7,184.4 C481.5,188.6 483.0,191.4 484.4,195.3 C485.8,199.2 487.0,203.7 488.3,207.8 C489.6,211.9 491.1,216.3 492.0,220.0 C492.9,223.7 493.4,226.6 494.0,230.0 C494.6,233.4 495.3,236.7 495.5,240.5 C495.7,244.3 495.5,248.5 495.0,253.0 C494.5,257.5 493.8,263.0 492.5,267.5 C491.2,272.0 489.4,276.8 487.5,280.0 C485.6,283.2 483.3,284.4 481.2,286.5 C479.2,288.6 477.3,290.7 475.0,292.5 C472.7,294.3 470.6,296.1 467.5,297.5 C464.4,298.9 460.2,300.2 456.2,301.0 C452.3,301.8 449.0,302.5 443.8,302.5 C438.5,302.5 431.5,301.7 425.0,301.2 C418.5,300.8 410.8,300.2 405.0,300.0 C399.2,299.8 395.9,299.4 390.3,300.0 C384.7,300.6 378.4,302.6 371.6,303.8 C364.8,304.9 356.6,306.1 349.7,307.0 C342.8,307.9 336.6,308.6 330.0,309.2 C323.4,309.8 315.0,309.6 310.3,310.3 C305.6,311.0 304.2,312.7 301.6,313.6 C299.1,314.5 298.5,314.7 295.0,315.8 C291.5,316.9 285.8,319.9 280.6,320.0 C275.4,320.1 269.1,318.2 264.0,316.4 C258.9,314.6 254.3,312.1 250.0,309.4 C245.7,306.7 241.6,303.2 238.4,300.0 C235.2,296.8 233.6,292.9 231.0,290.0 C228.4,287.1 224.7,285.0 223.0,282.5 C221.3,280.0 221.0,277.2 221.0,275.0 C221.0,272.8 223.6,269.9 223.0,269.4 C222.4,268.9 220.9,271.4 217.5,272.2 C214.1,273.0 207.5,273.9 202.5,274.0 C197.5,274.1 191.9,273.8 187.5,273.0 C183.1,272.2 179.7,270.9 176.2,269.4 C172.8,267.9 170.0,265.9 166.9,263.8 C163.8,261.6 160.3,259.1 157.5,256.2 C154.7,253.4 152.3,250.3 150.0,246.9 C147.7,243.5 145.0,239.8 143.4,235.6 C141.8,231.4 141.1,226.1 140.6,222.0Z" stroke-width="4.7"/>
<path d="M241.5,98.5 C241.4,99.3 241.4,101.5 240.6,103.1 C239.9,104.7 238.3,106.7 236.9,108.1 C235.4,109.5 233.8,110.4 231.9,111.5 C230.0,112.6 227.9,113.9 225.6,115.0 C223.3,116.1 220.6,117.1 218.1,118.1 C215.6,119.1 213.0,119.9 210.6,120.9 C208.2,121.9 205.8,122.9 203.8,124.0 C201.7,125.1 199.7,126.1 198.1,127.5 C196.6,128.9 195.1,130.7 194.4,132.5 C193.6,134.3 193.2,136.5 193.5,138.1 C193.8,139.8 195.8,141.8 196.2,142.5"/>
<path d="M196.2,142.5 C197.2,142.8 199.9,144.0 201.9,144.0 C203.9,144.0 205.5,143.3 208.1,142.2 C210.7,141.2 214.3,139.2 217.5,137.5 C220.7,135.8 224.7,133.6 227.5,131.9 C230.3,130.1 232.4,128.5 234.4,126.9 C236.4,125.2 237.9,123.9 239.4,121.9 C240.8,119.9 242.1,117.2 243.1,115.0 C244.2,112.8 244.4,110.6 245.6,108.8 C246.9,106.9 248.2,104.9 250.6,103.8 C253.0,102.6 258.4,102.2 260.0,101.9"/>
<path d="M210.6,148.8 C211.0,148.0 211.4,145.4 213.1,144.0 C214.9,142.6 218.0,141.4 221.2,140.6 C224.5,139.9 229.4,139.3 232.5,139.4 C235.6,139.5 237.5,141.1 240.0,141.2 C242.5,141.4 245.5,141.4 247.5,140.0 C249.5,138.6 251.0,135.5 252.2,133.1 C253.5,130.7 253.7,127.5 255.0,125.6 C256.3,123.8 259.2,122.5 260.0,121.9"/>
<path d="M246.2,140.0 C246.9,141.0 248.8,144.2 250.0,146.2 C251.2,148.3 252.5,150.4 253.8,152.5 C255.0,154.6 256.2,157.3 257.5,158.8 C258.8,160.2 259.2,160.8 261.2,161.2 C263.3,161.7 267.3,161.5 270.0,161.2 C272.7,161.0 275.6,161.5 277.5,160.0 C279.4,158.5 280.2,155.0 281.2,152.5 C282.3,150.0 283.1,147.1 283.8,145.0 C284.4,142.9 284.8,140.8 285.0,140.0"/>
<path d="M278.8,162.5 C278.3,164.2 277.3,169.4 276.2,172.5 C275.2,175.6 273.5,178.3 272.5,181.2 C271.5,184.2 270.6,186.9 270.0,190.0 C269.4,193.1 269.0,198.3 268.8,200.0"/>
<path d="M240.0,165.0 C239.2,166.2 236.5,169.8 235.0,172.5 C233.5,175.2 232.3,178.3 231.2,181.2 C230.2,184.2 229.4,186.9 228.8,190.0 C228.1,193.1 227.7,198.3 227.5,200.0"/>
<path d="M252.5,165.0 C252.7,166.7 253.5,171.7 253.8,175.0 C254.0,178.3 254.0,181.7 253.8,185.0 C253.5,188.3 252.9,192.5 252.5,195.0 C252.1,197.5 251.5,199.2 251.2,200.0"/>
<path d="M330.0,83.0 C330.4,83.8 332.2,85.7 332.5,88.0 C332.8,90.3 332.5,94.0 331.9,96.8 C331.2,99.5 330.1,102.0 328.8,104.2 C327.4,106.5 325.4,108.6 323.8,110.5 C322.1,112.4 320.2,113.4 318.8,115.5 C317.3,117.6 315.8,120.5 315.0,123.0 C314.2,125.5 314.2,128.0 313.8,130.5 C313.3,133.0 312.7,136.8 312.5,138.0"/>
<path d="M300.0,95.5 C301.2,95.0 304.8,93.4 307.5,92.4 C310.2,91.4 313.3,90.4 316.2,89.5 C319.2,88.6 322.7,87.5 325.0,86.8 C327.3,86.0 329.2,85.2 330.0,84.9"/>
<path d="M333.8,91.8 C335.0,91.5 338.5,90.7 341.2,90.5 C344.0,90.3 347.5,90.1 350.0,90.5 C352.5,90.9 355.2,92.6 356.2,93.0"/>
<path d="M353.8,94.2 C354.2,95.7 355.2,100.9 356.2,103.0 C357.3,105.1 358.1,105.3 360.0,106.8 C361.9,108.2 365.8,109.9 367.5,111.8 C369.2,113.6 369.8,116.1 370.0,118.0 C370.2,119.9 369.2,122.4 369.0,123.2"/>
<path d="M355.0,103.0 C356.2,103.2 359.6,104.2 362.5,104.2 C365.4,104.2 369.6,103.4 372.5,103.0 C375.4,102.6 378.8,102.0 380.0,101.8"/>
<path d="M372.5,88.0 C372.1,88.6 371.2,90.7 370.0,91.8 C368.8,92.8 365.8,93.8 365.0,94.2"/>
<path d="M368.8,124.2 C369.8,124.5 373.1,125.5 375.0,125.5 C376.9,125.5 379.2,124.5 380.0,124.2"/>
<path d="M300.0,211.2 C298.3,211.5 293.3,211.7 290.0,212.5 C286.7,213.3 283.3,215.0 280.0,216.2 C276.7,217.5 273.1,218.8 270.0,220.0 C266.9,221.2 263.8,222.3 261.2,223.8 C258.8,225.2 257.3,227.1 255.0,228.8 C252.7,230.4 249.8,232.1 247.5,233.8 C245.2,235.4 243.3,236.9 241.2,238.8 C239.2,240.6 236.7,243.1 235.0,245.0 C233.3,246.9 232.3,248.3 231.2,250.0 C230.2,251.7 229.2,254.2 228.8,255.0"/>
<path d="M300.0,232.5 C298.3,233.1 293.5,235.0 290.0,236.2 C286.5,237.5 282.1,238.5 278.8,240.0 C275.4,241.5 272.5,243.3 270.0,245.0 C267.5,246.7 265.2,248.3 263.8,250.0 C262.3,251.7 261.7,254.2 261.2,255.0"/>
<path d="M280.0,195.0 C280.4,196.0 281.2,199.2 282.5,201.2 C283.8,203.3 286.2,205.8 287.5,207.5 C288.8,209.2 289.6,210.6 290.0,211.2"/>
<path d="M230.0,236.2 C230.4,237.3 231.9,240.6 232.5,242.5 C233.1,244.4 233.8,245.4 233.8,247.5 C233.8,249.6 232.7,253.8 232.5,255.0"/>
<path d="M300.0,210.0 C302.1,209.8 308.8,209.4 312.5,208.8 C316.2,208.1 319.2,207.3 322.5,206.2 C325.8,205.2 329.4,203.6 332.5,202.5 C335.6,201.4 337.9,200.2 341.2,199.4 C344.6,198.5 349.0,197.9 352.5,197.5 C356.0,197.1 359.6,197.3 362.5,196.9 C365.4,196.5 367.1,195.7 370.0,195.0 C372.9,194.3 378.3,192.9 380.0,192.5"/>
<path d="M335.0,190.0 C335.0,190.8 335.6,193.3 335.0,195.0 C334.4,196.7 331.9,199.2 331.2,200.0"/>
<path d="M355.0,200.0 C354.6,201.2 353.5,205.2 352.5,207.5 C351.5,209.8 349.8,211.9 348.8,213.8 C347.7,215.6 347.3,217.1 346.2,218.8 C345.2,220.4 344.0,222.3 342.5,223.8 C341.0,225.2 339.0,226.7 337.5,227.5 C336.0,228.3 334.4,228.5 333.8,228.8"/>
<path d="M333.8,208.8 C333.5,209.8 332.9,212.9 332.5,215.0 C332.1,217.1 331.2,219.2 331.2,221.2 C331.2,223.3 331.7,226.0 332.5,227.5 C333.3,229.0 335.6,229.6 336.2,230.0"/>
<path d="M300.0,231.2 C301.7,231.5 306.7,232.1 310.0,232.5 C313.3,232.9 317.1,233.8 320.0,233.8 C322.9,233.8 325.4,233.1 327.5,232.5 C329.6,231.9 331.7,230.4 332.5,230.0"/>
<path d="M300.0,200.0 C300.6,199.0 302.9,195.4 303.8,193.8 C304.6,192.1 304.8,190.6 305.0,190.0"/>
<path d="M241.2,103.8 C242.3,103.4 244.6,102.3 247.5,101.9 C250.4,101.5 254.8,101.2 258.8,101.2 C262.7,101.2 267.5,101.8 271.2,101.9 C275.0,102.0 277.9,102.0 281.2,101.9 C284.6,101.8 289.6,101.4 291.2,101.2"/>
<path d="M265.0,91.9 C266.0,92.0 269.0,92.2 271.2,92.5 C273.5,92.8 277.1,93.5 278.8,93.8 C280.4,94.0 280.8,93.8 281.2,93.8"/>
<path d="M290.0,83.8 C290.4,85.2 292.1,89.6 292.5,92.5 C292.9,95.4 292.1,99.2 292.5,101.2 C292.9,103.3 294.4,103.1 295.0,105.0 C295.6,106.9 296.2,109.8 296.2,112.5 C296.2,115.2 295.6,118.5 295.0,121.2 C294.4,124.0 293.3,126.7 292.5,128.8 C291.7,130.8 290.8,131.9 290.0,133.8 C289.2,135.6 287.9,139.0 287.5,140.0"/>
<path d="M320.0,90.0 C318.3,90.6 312.9,92.5 310.0,93.8 C307.1,95.0 304.8,95.8 302.5,97.5 C300.2,99.2 297.3,102.7 296.2,103.8"/>
<path d="M256.2,118.8 C257.3,119.2 260.4,120.5 262.5,121.2 C264.6,122.0 267.1,123.1 268.8,123.1 C270.4,123.1 271.9,121.6 272.5,121.2"/>
<path d="M268.8,123.1 C268.3,124.3 266.9,127.8 266.2,130.0 C265.6,132.2 265.2,135.2 265.0,136.2"/>
<path d="M240.0,121.2 C240.8,122.3 243.5,125.4 245.0,127.5 C246.5,129.6 247.9,131.7 248.8,133.8 C249.6,135.8 249.8,139.0 250.0,140.0"/>
<path d="M375.0,97.5 C376.2,98.1 380.2,99.8 382.5,101.2 C384.8,102.7 387.1,104.4 388.8,106.2 C390.4,108.1 391.7,111.0 392.5,112.5 C393.3,114.0 392.5,114.6 393.8,115.0 C395.0,115.4 397.7,115.2 400.0,115.0 C402.3,114.8 404.8,114.1 407.5,113.8 C410.2,113.4 413.3,112.9 416.2,113.1 C419.2,113.3 422.7,114.1 425.0,115.0 C427.3,115.9 428.5,117.1 430.0,118.8 C431.5,120.4 432.7,122.3 433.8,125.0 C434.8,127.7 435.6,131.7 436.2,135.0 C436.9,138.3 437.3,143.3 437.5,145.0"/>
<path d="M375.0,122.5 C375.8,122.3 377.9,121.2 380.0,121.2 C382.1,121.2 385.2,121.7 387.5,122.5 C389.8,123.3 391.9,125.0 393.8,126.2 C395.6,127.5 397.3,128.5 398.8,130.0 C400.2,131.5 401.5,132.5 402.5,135.0 C403.5,137.5 404.6,143.3 405.0,145.0"/>
<path d="M412.5,127.5 C412.3,128.8 411.5,132.5 411.2,135.0 C411.0,137.5 411.0,140.8 411.2,142.5 C411.5,144.2 412.3,144.6 412.5,145.0"/>
<path d="M440.0,126.2 C440.4,127.7 441.7,131.9 442.5,135.0 C443.3,138.1 444.6,143.3 445.0,145.0"/>
<path d="M425.0,183.8 C424.0,184.8 420.8,188.3 418.8,190.0 C416.7,191.7 414.6,192.9 412.5,193.8 C410.4,194.6 407.3,194.8 406.2,195.0"/>
<path d="M178.3,141.6 C178.5,142.7 179.4,145.6 179.4,148.1 C179.4,150.7 178.7,154.3 178.3,156.9 C177.9,159.4 177.6,161.3 177.2,163.4 C176.8,165.6 176.5,167.5 176.1,170.0 C175.7,172.6 175.0,175.9 175.0,178.8 C175.0,181.6 175.9,185.6 176.1,187.0"/>
<path d="M193.6,135.0 C193.8,136.5 194.7,140.8 194.7,143.8 C194.7,146.7 194.0,150.0 193.6,152.5 C193.2,155.1 192.9,156.7 192.5,159.1 C192.2,161.4 192.0,164.5 191.4,166.7 C190.9,168.9 189.8,170.2 189.2,172.2 C188.7,174.2 188.1,176.3 188.1,178.8 C188.1,181.2 189.1,185.6 189.2,187.0"/>
<path d="M179.4,150.3 C180.7,150.6 184.7,152.0 187.0,152.0 C189.4,152.0 192.5,150.6 193.6,150.3"/>
<path d="M192.5,166.7 C194.0,166.7 198.4,166.7 201.3,166.7 C204.2,166.7 208.6,166.7 210.0,166.7"/>
<path d="M176.1,171.1 C177.4,171.3 181.4,172.2 183.8,172.2 C186.1,172.2 189.2,171.3 190.3,171.1"/>
<path d="M166.3,167.8 C167.2,168.0 170.1,168.6 171.7,168.9 C173.4,169.3 175.4,169.8 176.1,170.0"/>
<path d="M156.4,159.1 C158.1,158.9 164.3,159.3 166.3,158.0 C168.3,156.7 168.1,152.5 168.4,151.4"/>
<path d="M158.6,176.6 C159.9,176.2 164.8,175.8 166.3,174.4 C167.7,172.9 167.2,168.9 167.4,167.8"/>
<path d="M154.2,185.0 C154.0,186.1 153.9,189.4 153.1,191.6 C152.4,193.8 150.9,196.1 149.8,198.1 C148.8,200.1 147.5,202.1 146.6,203.6 C145.7,205.1 144.7,206.3 144.4,206.9"/>
<path d="M144.4,206.9 C145.1,207.8 147.3,210.2 148.8,212.4 C150.2,214.5 151.9,217.6 153.1,220.0 C154.4,222.4 155.0,224.8 156.4,226.6 C157.9,228.4 159.9,229.9 161.9,231.0 C163.9,232.0 167.4,232.8 168.4,233.1"/>
<path d="M167.4,185.0 C167.5,186.1 168.4,189.4 168.4,191.6 C168.4,193.8 167.7,196.1 167.4,198.1 C167.0,200.1 167.2,202.1 166.3,203.6 C165.3,205.1 163.0,205.8 161.9,206.9 C160.8,208.0 160.1,209.6 159.7,210.2"/>
<path d="M176.1,185.0 C176.3,186.1 177.2,189.7 177.2,191.6 C177.2,193.4 176.7,194.1 176.1,195.9 C175.6,197.8 174.3,201.4 173.9,202.5"/>
<path d="M159.7,210.2 C160.8,209.8 164.1,208.5 166.3,208.0 C168.4,207.4 170.6,207.2 172.8,206.9 C175.0,206.6 177.2,206.3 179.4,206.3 C181.6,206.3 184.1,206.2 186.0,206.9 C187.8,207.5 189.4,208.5 190.3,210.2 C191.2,211.8 191.4,214.7 191.4,216.7 C191.4,218.7 191.2,220.7 190.3,222.2 C189.4,223.7 188.0,224.8 186.0,225.5 C183.9,226.2 180.5,226.6 178.3,226.6 C176.1,226.6 174.8,225.8 172.8,225.5 C170.8,225.1 168.3,224.9 166.3,224.4 C164.3,223.8 162.1,223.5 160.8,222.2 C159.5,220.9 158.8,218.7 158.6,216.7 C158.4,214.7 159.5,211.3 159.7,210.2"/>
<path d="M190.3,210.2 C191.4,209.6 194.7,208.3 196.9,206.9 C199.1,205.4 201.6,203.2 203.5,201.4 C205.3,199.6 206.7,197.0 207.8,195.9 C208.9,194.8 209.7,195.0 210.0,194.8"/>
<path d="M179.4,185.0 C180.1,186.1 181.6,189.4 183.8,191.6 C186.0,193.8 189.6,196.9 192.5,198.1 C195.4,199.4 199.1,199.6 201.3,199.2 C203.5,198.9 204.9,196.5 205.6,195.9"/>
<path d="M191.4,217.8 C192.5,218.4 195.6,220.0 198.0,221.1 C200.4,222.2 203.6,223.7 205.6,224.4 C207.7,225.1 209.3,225.3 210.0,225.5"/>
<path d="M186.0,225.5 C186.1,226.4 187.0,229.0 187.0,231.0 C187.0,232.9 186.1,236.0 186.0,237.0"/>
<path d="M209.4,143.8 C209.7,145.0 210.5,149.2 211.6,151.4 C212.7,153.6 214.1,155.1 215.9,156.9 C217.8,158.7 220.7,161.3 222.5,162.4 C224.3,163.4 225.1,163.4 226.9,163.4 C228.7,163.4 231.1,162.4 233.4,162.4 C235.8,162.4 238.6,163.6 241.1,163.4 C243.7,163.3 246.2,162.0 248.8,161.3 C251.3,160.5 255.1,159.4 256.4,159.1"/>
<path d="M222.5,162.4 C222.5,163.6 222.7,167.3 222.5,170.0 C222.3,172.7 221.8,175.9 221.4,178.8 C221.0,181.6 220.5,185.6 220.3,187.0"/>
<path d="M237.8,167.8 C237.5,169.3 236.2,173.4 235.6,176.6 C235.1,179.8 234.7,185.2 234.5,187.0"/>
<path d="M231.3,185.0 C230.9,186.5 229.6,191.0 229.1,193.8 C228.5,196.5 228.0,198.7 228.0,201.4 C228.0,204.1 228.5,207.4 229.1,210.2 C229.6,212.9 230.3,215.5 231.3,217.8 C232.2,220.2 234.0,223.3 234.5,224.4"/>
<path d="M253.1,185.0 C253.0,186.5 252.2,190.8 252.0,193.8 C251.9,196.7 251.9,199.6 252.0,202.5 C252.2,205.4 252.6,208.7 253.1,211.3 C253.7,213.8 254.4,216.0 255.3,217.8 C256.2,219.6 257.9,221.1 258.6,222.2 C259.3,223.3 259.5,224.0 259.7,224.4"/>
<path d="M270.6,185.0 C270.5,186.8 269.9,192.3 269.6,195.9 C269.2,199.6 268.5,204.0 268.5,206.9 C268.5,209.8 269.4,212.4 269.6,213.4"/>
<path d="M205.0,199.2 C205.9,199.4 208.6,200.0 210.5,200.3 C212.3,200.7 213.9,200.9 215.9,201.4 C217.9,202.0 220.7,202.9 222.5,203.6 C224.3,204.3 225.8,204.7 226.9,205.8 C228.0,206.9 228.7,209.4 229.1,210.2"/>
<path d="M205.0,211.3 C206.1,211.6 209.4,212.4 211.6,213.4 C213.8,214.5 215.9,216.5 218.1,217.8 C220.3,219.1 222.5,220.0 224.7,221.1 C226.9,222.2 229.1,223.5 231.3,224.4 C233.4,225.3 235.6,225.7 237.8,226.6 C240.0,227.5 242.6,228.9 244.4,229.6 C246.2,230.3 248.0,230.6 248.8,230.7"/>
<path d="M205.0,221.1 C205.7,222.0 207.9,224.9 209.4,226.6 C210.8,228.2 212.7,229.2 213.8,231.0 C214.8,232.7 215.6,236.0 215.9,237.0"/>
<path d="M149.2,236.4 C150.4,237.4 153.7,240.0 156.3,242.1 C158.8,244.2 161.9,247.0 164.7,249.1 C167.5,251.2 170.3,253.1 173.1,254.7 C175.9,256.4 178.3,257.8 181.6,258.9 C184.8,260.1 189.1,261.1 192.8,261.8 C196.6,262.5 200.3,262.9 204.1,263.2 C207.8,263.4 212.0,263.6 215.3,263.2 C218.6,262.7 222.4,260.8 223.8,260.3"/>
<path d="M159.1,233.6 C160.2,234.6 163.8,237.6 166.1,239.3 C168.4,240.9 170.8,242.3 173.1,243.5 C175.5,244.6 177.6,245.3 180.2,246.3 C182.7,247.2 185.6,248.2 188.6,249.1 C191.6,250.0 195.2,251.2 198.4,251.9 C201.7,252.6 205.0,253.3 208.3,253.3 C211.6,253.3 215.1,252.6 218.1,251.9 C221.2,251.2 225.2,249.6 226.6,249.1"/>
<path d="M184.4,228.0 C184.6,229.4 184.8,233.9 185.8,236.4 C186.7,239.0 188.1,241.6 190.0,243.5 C191.9,245.3 194.5,246.8 197.0,247.7 C199.6,248.6 202.7,249.1 205.5,249.1 C208.3,249.1 211.1,248.4 213.9,247.7 C216.7,247.0 219.8,246.0 222.4,244.9 C224.9,243.7 228.2,241.4 229.4,240.7"/>
<path d="M198.4,228.0 C198.9,228.9 199.6,232.0 201.3,233.6 C202.9,235.3 205.5,236.9 208.3,237.8 C211.1,238.8 215.1,239.5 218.1,239.3 C221.2,239.0 224.2,237.6 226.6,236.4 C228.9,235.3 231.3,232.9 232.2,232.2"/>
<path d="M316.3,120.0 C316.0,121.6 314.7,126.3 314.8,129.4 C314.8,132.5 315.7,135.9 316.6,138.8 C317.6,141.6 319.6,144.3 320.4,146.3 C321.2,148.2 321.3,149.7 321.5,150.4"/>
<path d="M290.0,163.1 C291.9,162.8 297.8,162.2 301.3,161.3 C304.7,160.3 307.3,159.3 310.6,157.5 C314.0,155.7 319.7,151.6 321.5,150.4"/>
<path d="M305.0,163.1 C304.7,164.7 303.4,169.1 303.1,172.5 C302.8,175.9 302.8,180.0 303.1,183.8 C303.4,187.5 304.4,190.6 305.0,195.0 C305.6,199.4 306.6,207.5 306.9,210.0"/>
<path d="M345.3,135.9 C345.6,137.0 346.9,139.8 347.2,142.5 C347.5,145.2 347.6,148.9 347.2,151.9 C346.8,154.8 345.8,157.6 344.8,160.3 C343.7,163.1 342.6,166.5 340.6,168.4 C338.7,170.2 335.9,170.6 333.1,171.4 C330.3,172.1 326.3,172.3 323.8,172.9 C321.3,173.4 319.1,174.4 318.1,174.8"/>
<path d="M368.8,120.0 C368.6,120.7 369.1,122.8 367.8,124.1 C366.6,125.4 363.9,126.4 361.3,127.9 C358.6,129.3 354.5,131.4 351.9,132.8 C349.2,134.1 346.4,135.4 345.3,135.9"/>
<path d="M370.6,142.5 C371.0,144.1 372.0,148.8 372.9,151.9 C373.8,155.0 375.4,158.1 375.9,161.3 C376.4,164.4 376.4,167.5 375.9,170.6 C375.3,173.8 373.7,176.9 372.5,180.0 C371.3,183.1 370.5,186.4 368.8,189.0 C367.0,191.6 364.7,193.8 362.2,195.4 C359.7,196.9 356.7,197.8 353.8,198.4 C350.8,198.9 347.5,198.9 344.4,198.8 C341.3,198.6 337.8,197.8 335.0,197.3 C332.2,196.7 328.8,195.7 327.5,195.4"/>
<path d="M340.6,168.4 C342.5,169.4 349.1,172.7 351.9,174.4 C354.7,176.1 356.0,177.2 357.5,178.5 C359.0,179.8 360.3,181.6 360.9,182.3"/>
<path d="M395.0,120.0 C395.6,121.9 398.3,126.9 398.4,131.3 C398.4,135.6 396.6,141.9 395.4,146.3 C394.2,150.6 393.2,154.4 391.3,157.5 C389.3,160.6 385.9,163.1 383.8,165.0 C381.6,166.9 379.1,168.4 378.1,169.1"/>
<path d="M391.3,157.5 C393.1,156.6 399.4,153.4 402.5,151.9 C405.6,150.3 408.8,148.8 410.0,148.1"/>
<path d="M379.6,167.3 C380.9,167.6 384.9,167.6 387.5,169.1 C390.1,170.6 392.5,174.1 395.0,176.3 C397.5,178.4 400.0,180.6 402.5,181.9 C405.0,183.1 408.8,183.4 410.0,183.8"/>
<path d="M368.8,191.3 C370.3,191.9 375.0,193.8 378.1,195.0 C381.3,196.3 384.1,197.5 387.5,198.8 C390.9,200.0 395.0,201.6 398.8,202.5 C402.5,203.4 408.1,204.1 410.0,204.4"/>
<path d="M290.0,135.0 C291.3,134.7 294.4,133.7 297.5,133.1 C300.6,132.6 305.9,132.3 308.8,131.6 C311.6,131.0 313.8,129.8 314.8,129.4"/>
<path d="M335.0,197.3 C335.0,198.1 334.7,200.4 335.0,202.5 C335.3,204.6 336.6,208.8 336.9,210.0"/>
<path d="M355.6,198.8 C355.3,200.0 354.4,204.4 353.8,206.3 C353.1,208.1 352.2,209.4 351.9,210.0"/>
<path d="M303.1,183.8 C301.9,184.4 297.8,186.6 295.6,187.5 C293.4,188.4 290.9,189.1 290.0,189.4"/>
<path d="M435.0,140.0 C434.8,141.7 434.2,146.7 433.8,150.0 C433.3,153.3 433.1,156.5 432.5,160.0 C431.9,163.5 430.8,167.7 430.0,171.2 C429.2,174.8 428.1,178.1 427.5,181.2 C426.9,184.4 426.7,186.9 426.2,190.0 C425.8,193.1 425.2,198.3 425.0,200.0"/>
<path d="M450.0,140.0 C450.0,141.7 449.8,146.7 450.0,150.0 C450.2,153.3 451.2,156.7 451.2,160.0 C451.2,163.3 450.6,167.3 450.0,170.0 C449.4,172.7 448.8,174.2 447.5,176.2 C446.2,178.3 444.2,180.2 442.5,182.5 C440.8,184.8 439.2,187.1 437.5,190.0 C435.8,192.9 433.3,198.3 432.5,200.0"/>
<path d="M457.5,147.5 C457.9,149.0 459.2,153.3 460.0,156.2 C460.8,159.2 462.1,162.3 462.5,165.0 C462.9,167.7 462.5,171.2 462.5,172.5"/>
<path d="M447.5,176.2 C449.0,175.8 453.3,174.4 456.2,173.8 C459.2,173.1 462.9,173.5 465.0,172.5 C467.1,171.5 468.1,168.3 468.8,167.5"/>
<path d="M465.0,172.5 C465.8,173.3 468.5,175.4 470.0,177.5 C471.5,179.6 472.7,182.5 473.8,185.0 C474.8,187.5 475.6,190.0 476.2,192.5 C476.9,195.0 477.3,198.8 477.5,200.0"/>
<path d="M437.5,140.0 C438.5,140.6 442.1,142.5 443.8,143.8 C445.4,145.0 446.9,146.9 447.5,147.5"/>
<path d="M416.2,195.0 C415.8,196.7 414.6,201.9 413.8,205.0 C412.9,208.1 412.1,211.5 411.2,213.8 C410.4,216.0 410.2,217.5 408.8,218.8 C407.3,220.0 404.8,220.4 402.5,221.2 C400.2,222.1 397.9,222.9 395.0,223.8 C392.1,224.6 388.3,225.6 385.0,226.2 C381.7,226.9 377.9,227.1 375.0,227.5 C372.1,227.9 370.0,227.9 367.5,228.8 C365.0,229.6 361.2,231.9 360.0,232.5"/>
<path d="M408.8,218.8 C410.0,219.2 413.5,220.0 416.2,221.2 C419.0,222.5 422.4,224.5 425.0,226.2 C427.6,228.0 430.7,230.9 431.9,231.9"/>
<path d="M462.5,195.0 C461.2,196.2 456.7,200.6 455.0,202.5 C453.3,204.4 452.9,205.6 452.5,206.2"/>
<path d="M465.0,202.5 C466.2,203.8 470.8,207.1 472.5,210.0 C474.2,212.9 474.2,216.2 475.0,220.0 C475.8,223.8 476.7,228.3 477.5,232.5 C478.3,236.7 479.4,241.2 480.0,245.0 C480.6,248.8 481.0,253.3 481.2,255.0"/>
<path d="M480.0,207.5 C480.4,209.6 481.7,215.8 482.5,220.0 C483.3,224.2 484.4,228.8 485.0,232.5 C485.6,236.2 486.0,240.8 486.2,242.5"/>
<path d="M477.5,266.2 C477.7,267.9 478.3,273.1 478.8,276.2 C479.2,279.4 479.8,283.5 480.0,285.0"/>
<path d="M475.0,245.0 C475.4,246.7 476.9,251.7 477.5,255.0 C478.1,258.3 478.5,263.3 478.8,265.0"/>
<path d="M342.5,167.5 C345.0,168.4 353.1,170.8 357.5,173.0 C361.9,175.2 365.2,179.0 369.0,180.6 C372.8,182.2 378.2,182.2 380.0,182.5"/>
<path d="M230.0,252.0 C231.7,250.2 237.2,243.7 240.0,241.0 C242.8,238.3 245.8,236.8 247.0,236.0"/>
<path d="M362.5,231.2 C363.8,230.6 367.1,228.1 370.0,227.5 C372.9,226.9 378.3,227.5 380.0,227.5" stroke-width="2.52"/>
<path d="M225.0,277.5 C226.2,278.5 230.0,282.3 232.5,283.8 C235.0,285.2 237.3,285.6 240.0,286.2 C242.7,286.9 246.0,286.7 248.8,287.5 C251.5,288.3 254.0,290.4 256.2,291.2 C258.5,292.1 260.2,292.1 262.5,292.5 C264.8,292.9 268.8,293.5 270.0,293.8" stroke-width="2.52"/>
<path d="M240.0,267.5 C240.8,269.2 243.3,274.8 245.0,277.5 C246.7,280.2 248.3,282.1 250.0,283.8 C251.7,285.4 254.2,286.9 255.0,287.5" stroke-width="2.52"/>
<path d="M232.5,263.8 C234.0,264.2 238.8,266.0 241.2,266.2 C243.8,266.5 245.0,265.6 247.5,265.0 C250.0,264.4 253.8,263.1 256.2,262.5 C258.8,261.9 260.4,261.9 262.5,261.2 C264.6,260.6 267.7,259.2 268.8,258.8" stroke-width="2.52"/>
<path d="M235.0,296.2 C236.5,297.3 240.8,300.8 243.8,302.5 C246.7,304.2 249.4,305.2 252.5,306.2 C255.6,307.3 259.2,308.1 262.5,308.8 C265.8,309.4 269.2,310.0 272.5,310.0 C275.8,310.0 278.8,309.4 282.5,308.8 C286.2,308.1 291.2,306.9 295.0,306.2 C298.8,305.6 303.3,305.2 305.0,305.0" stroke-width="2.52"/>
<path d="M341.2,280.0 C342.7,279.4 346.9,277.9 350.0,276.2 C353.1,274.6 356.7,271.5 360.0,270.0 C363.3,268.5 366.7,268.1 370.0,267.5 C373.3,266.9 378.3,266.5 380.0,266.2" stroke-width="2.52"/>
<path d="M360.0,261.2 C361.7,261.7 366.7,263.5 370.0,263.8 C373.3,264.0 378.3,262.7 380.0,262.5" stroke-width="2.52"/>
<path d="M154.8,249.1 C156.3,250.3 160.5,254.0 163.3,256.1 C166.1,258.2 168.7,260.1 171.7,261.8 C174.8,263.4 178.1,264.8 181.6,266.0 C185.1,267.1 189.1,268.1 192.8,268.8 C196.6,269.5 200.3,270.0 204.1,270.2 C207.8,270.4 213.4,270.2 215.3,270.2" stroke-width="2.52"/>
<path d="M360.0,232.5 C360.8,233.5 362.9,236.7 365.0,238.8 C367.1,240.8 370.4,243.1 372.5,245.0 C374.6,246.9 375.8,248.3 377.5,250.0 C379.2,251.7 381.7,254.2 382.5,255.0" stroke-width="2.52"/>
<path d="M435.0,195.0 C434.8,197.1 434.2,203.3 433.8,207.5 C433.3,211.7 432.3,215.8 432.5,220.0 C432.7,224.2 434.2,228.8 435.0,232.5 C435.8,236.2 437.3,239.8 437.5,242.5 C437.7,245.2 437.1,246.7 436.2,248.8 C435.4,250.8 433.1,254.0 432.5,255.0" stroke-width="2.52"/>
<path d="M455.0,207.5 C456.0,208.8 459.4,212.1 461.2,215.0 C463.1,217.9 465.0,221.7 466.2,225.0 C467.5,228.3 468.1,231.7 468.8,235.0 C469.4,238.3 470.0,241.7 470.0,245.0 C470.0,248.3 469.0,253.3 468.8,255.0" stroke-width="2.52"/>
<path d="M452.5,225.0 C452.7,226.0 453.5,230.2 453.8,231.2" stroke-width="2.52"/>
<path d="M437.5,247.5 C439.6,247.7 445.8,248.8 450.0,248.8 C454.2,248.8 458.8,247.3 462.5,247.5 C466.2,247.7 470.8,249.6 472.5,250.0" stroke-width="2.52"/>
<path d="M378.8,248.8 C379.8,249.4 382.3,251.0 385.0,252.5 C387.7,254.0 391.9,256.0 395.0,257.5 C398.1,259.0 400.8,260.4 403.8,261.2 C406.7,262.1 409.8,262.5 412.5,262.5 C415.2,262.5 417.1,262.5 420.0,261.2 C422.9,260.0 427.1,257.1 430.0,255.0 C432.9,252.9 436.2,249.8 437.5,248.8" stroke-width="2.52"/>
<path d="M412.5,262.5 C412.3,263.8 411.2,267.1 411.2,270.0 C411.2,272.9 411.9,277.3 412.5,280.0 C413.1,282.7 414.4,284.4 415.0,286.2 C415.6,288.1 416.2,289.4 416.2,291.2 C416.2,293.1 415.2,296.5 415.0,297.5" stroke-width="2.52"/>
<path d="M382.5,282.5 C384.0,282.7 388.1,283.8 391.2,283.8 C394.4,283.8 397.9,283.1 401.2,282.5 C404.6,281.9 409.6,280.4 411.2,280.0" stroke-width="2.52"/>
<path d="M381.2,283.8 C381.5,284.8 381.9,288.1 382.5,290.0 C383.1,291.9 384.6,294.2 385.0,295.0" stroke-width="2.52"/>
<path d="M430.0,272.5 C430.4,273.3 431.2,275.8 432.5,277.5 C433.8,279.2 436.2,281.0 437.5,282.5 C438.8,284.0 439.6,285.6 440.0,286.2" stroke-width="2.52"/>
<path d="M437.5,245.0 C436.7,245.8 434.6,248.8 432.5,250.0 C430.4,251.2 426.2,252.1 425.0,252.5" stroke-width="2.52"/>
<path d="M432.5,273.8 C433.3,273.1 434.6,271.2 437.5,270.0 C440.4,268.8 445.8,267.1 450.0,266.2 C454.2,265.4 458.8,265.4 462.5,265.0 C466.2,264.6 470.0,264.6 472.5,263.8 C475.0,262.9 475.8,261.5 477.5,260.0 C479.2,258.5 480.8,256.9 482.5,255.0 C484.2,253.1 486.7,249.8 487.5,248.8" stroke-width="2.52"/>
<path d="M432.5,273.8 C432.9,275.2 433.8,280.0 435.0,282.5 C436.2,285.0 438.1,286.9 440.0,288.8 C441.9,290.6 443.5,292.5 446.2,293.8 C449.0,295.0 452.5,296.0 456.2,296.2 C460.0,296.5 465.2,295.8 468.8,295.0 C472.3,294.2 475.4,292.7 477.5,291.2 C479.6,289.8 480.6,287.1 481.2,286.2" stroke-width="2.52"/>
<path d="M462.5,268.8 C463.3,269.2 466.2,270.4 467.5,271.2 C468.8,272.1 469.6,273.3 470.0,273.8" stroke-width="2.52"/>
<path d="M425.0,292.5 C427.1,292.7 434.0,293.5 437.5,293.8 C441.0,294.0 444.8,293.8 446.2,293.8" stroke-width="2.52"/>
</g>
<g stroke="#ca8444" stroke-width="2.3">
<path d="M140.6,222.0 C140.1,217.9 140.3,214.7 140.6,211.0 C140.9,207.3 141.8,203.8 142.5,200.0 C143.2,196.2 144.2,191.8 145.0,188.0 C145.8,184.2 146.5,180.8 147.5,177.5 C148.5,174.2 149.7,170.6 151.0,168.0 C152.3,165.4 153.6,163.8 155.2,161.7 C156.8,159.6 158.7,157.5 160.4,155.4 C162.1,153.3 163.9,151.0 165.6,149.2 C167.3,147.4 169.2,145.6 170.8,144.5 C172.4,143.4 173.9,143.2 175.0,142.4 C176.1,141.7 177.0,141.0 177.6,140.0 C178.2,139.0 177.7,137.8 178.3,136.5 C178.9,135.2 179.6,134.2 181.2,132.5 C182.9,130.8 186.1,128.2 188.5,126.2 C190.9,124.3 193.9,122.5 195.8,121.0 C197.7,119.5 197.5,118.6 200.0,117.2 C202.5,115.8 208.4,113.9 211.0,112.5 C213.6,111.1 213.5,109.9 215.6,108.6 C217.7,107.2 221.1,105.7 223.8,104.4 C226.4,103.1 229.2,101.6 231.2,100.8 C233.3,100.0 234.3,99.9 236.0,99.4 C237.7,98.9 239.6,98.5 241.4,97.7 C243.2,96.9 243.4,95.7 246.9,94.5 C250.4,93.3 257.8,91.9 262.5,90.6 C267.2,89.3 270.8,87.9 275.0,86.7 C279.2,85.5 283.9,84.4 287.5,83.6 C291.1,82.8 291.5,82.3 296.9,82.0 C302.3,81.7 314.7,82.1 320.0,82.0 C325.3,81.9 325.1,81.7 328.7,81.2 C332.3,80.7 337.3,78.9 341.9,79.0 C346.5,79.1 351.5,80.7 356.4,82.0 C361.2,83.3 367.3,85.8 371.0,87.0 C374.7,88.2 376.3,88.5 378.8,89.2 C381.2,90.0 382.5,90.2 385.6,91.4 C388.7,92.7 393.6,94.9 397.5,96.8 C401.4,98.6 404.7,100.4 408.8,102.4 C412.8,104.4 417.6,106.5 422.0,109.0 C426.4,111.5 431.3,114.4 435.0,117.4 C438.7,120.4 441.0,123.0 444.4,126.8 C447.8,130.5 452.6,136.1 455.6,140.0 C458.6,143.9 460.6,146.8 462.5,150.0 C464.4,153.2 465.2,156.0 467.0,159.4 C468.8,162.8 471.3,166.1 473.4,170.3 C475.5,174.5 477.9,180.2 479.7,184.4 C481.5,188.6 483.0,191.4 484.4,195.3 C485.8,199.2 487.0,203.7 488.3,207.8 C489.6,211.9 491.1,216.3 492.0,220.0 C492.9,223.7 493.4,226.6 494.0,230.0 C494.6,233.4 495.3,236.7 495.5,240.5 C495.7,244.3 495.5,248.5 495.0,253.0 C494.5,257.5 493.8,263.0 492.5,267.5 C491.2,272.0 489.4,276.8 487.5,280.0 C485.6,283.2 483.3,284.4 481.2,286.5 C479.2,288.6 477.3,290.7 475.0,292.5 C472.7,294.3 470.6,296.1 467.5,297.5 C464.4,298.9 460.2,300.2 456.2,301.0 C452.3,301.8 449.0,302.5 443.8,302.5 C438.5,302.5 431.5,301.7 425.0,301.2 C418.5,300.8 410.8,300.2 405.0,300.0 C399.2,299.8 395.9,299.4 390.3,300.0 C384.7,300.6 378.4,302.6 371.6,303.8 C364.8,304.9 356.6,306.1 349.7,307.0 C342.8,307.9 336.6,308.6 330.0,309.2 C323.4,309.8 315.0,309.6 310.3,310.3 C305.6,311.0 304.2,312.7 301.6,313.6 C299.1,314.5 298.5,314.7 295.0,315.8 C291.5,316.9 285.8,319.9 280.6,320.0 C275.4,320.1 269.1,318.2 264.0,316.4 C258.9,314.6 254.3,312.1 250.0,309.4 C245.7,306.7 241.6,303.2 238.4,300.0 C235.2,296.8 233.6,292.9 231.0,290.0 C228.4,287.1 224.7,285.0 223.0,282.5 C221.3,280.0 221.0,277.2 221.0,275.0 C221.0,272.8 223.6,269.9 223.0,269.4 C222.4,268.9 220.9,271.4 217.5,272.2 C214.1,273.0 207.5,273.9 202.5,274.0 C197.5,274.1 191.9,273.8 187.5,273.0 C183.1,272.2 179.7,270.9 176.2,269.4 C172.8,267.9 170.0,265.9 166.9,263.8 C163.8,261.6 160.3,259.1 157.5,256.2 C154.7,253.4 152.3,250.3 150.0,246.9 C147.7,243.5 145.0,239.8 143.4,235.6 C141.8,231.4 141.1,226.1 140.6,222.0Z" stroke-width="3.0"/>
<path d="M241.5,98.5 C241.4,99.3 241.4,101.5 240.6,103.1 C239.9,104.7 238.3,106.7 236.9,108.1 C235.4,109.5 233.8,110.4 231.9,111.5 C230.0,112.6 227.9,113.9 225.6,115.0 C223.3,116.1 220.6,117.1 218.1,118.1 C215.6,119.1 213.0,119.9 210.6,120.9 C208.2,121.9 205.8,122.9 203.8,124.0 C201.7,125.1 199.7,126.1 198.1,127.5 C196.6,128.9 195.1,130.7 194.4,132.5 C193.6,134.3 193.2,136.5 193.5,138.1 C193.8,139.8 195.8,141.8 196.2,142.5"/>
<path d="M196.2,142.5 C197.2,142.8 199.9,144.0 201.9,144.0 C203.9,144.0 205.5,143.3 208.1,142.2 C210.7,141.2 214.3,139.2 217.5,137.5 C220.7,135.8 224.7,133.6 227.5,131.9 C230.3,130.1 232.4,128.5 234.4,126.9 C236.4,125.2 237.9,123.9 239.4,121.9 C240.8,119.9 242.1,117.2 243.1,115.0 C244.2,112.8 244.4,110.6 245.6,108.8 C246.9,106.9 248.2,104.9 250.6,103.8 C253.0,102.6 258.4,102.2 260.0,101.9"/>
<path d="M210.6,148.8 C211.0,148.0 211.4,145.4 213.1,144.0 C214.9,142.6 218.0,141.4 221.2,140.6 C224.5,139.9 229.4,139.3 232.5,139.4 C235.6,139.5 237.5,141.1 240.0,141.2 C242.5,141.4 245.5,141.4 247.5,140.0 C249.5,138.6 251.0,135.5 252.2,133.1 C253.5,130.7 253.7,127.5 255.0,125.6 C256.3,123.8 259.2,122.5 260.0,121.9"/>
<path d="M246.2,140.0 C246.9,141.0 248.8,144.2 250.0,146.2 C251.2,148.3 252.5,150.4 253.8,152.5 C255.0,154.6 256.2,157.3 257.5,158.8 C258.8,160.2 259.2,160.8 261.2,161.2 C263.3,161.7 267.3,161.5 270.0,161.2 C272.7,161.0 275.6,161.5 277.5,160.0 C279.4,158.5 280.2,155.0 281.2,152.5 C282.3,150.0 283.1,147.1 283.8,145.0 C284.4,142.9 284.8,140.8 285.0,140.0"/>
<path d="M278.8,162.5 C278.3,164.2 277.3,169.4 276.2,172.5 C275.2,175.6 273.5,178.3 272.5,181.2 C271.5,184.2 270.6,186.9 270.0,190.0 C269.4,193.1 269.0,198.3 268.8,200.0"/>
<path d="M240.0,165.0 C239.2,166.2 236.5,169.8 235.0,172.5 C233.5,175.2 232.3,178.3 231.2,181.2 C230.2,184.2 229.4,186.9 228.8,190.0 C228.1,193.1 227.7,198.3 227.5,200.0"/>
<path d="M252.5,165.0 C252.7,166.7 253.5,171.7 253.8,175.0 C254.0,178.3 254.0,181.7 253.8,185.0 C253.5,188.3 252.9,192.5 252.5,195.0 C252.1,197.5 251.5,199.2 251.2,200.0"/>
<path d="M330.0,83.0 C330.4,83.8 332.2,85.7 332.5,88.0 C332.8,90.3 332.5,94.0 331.9,96.8 C331.2,99.5 330.1,102.0 328.8,104.2 C327.4,106.5 325.4,108.6 323.8,110.5 C322.1,112.4 320.2,113.4 318.8,115.5 C317.3,117.6 315.8,120.5 315.0,123.0 C314.2,125.5 314.2,128.0 313.8,130.5 C313.3,133.0 312.7,136.8 312.5,138.0"/>
<path d="M300.0,95.5 C301.2,95.0 304.8,93.4 307.5,92.4 C310.2,91.4 313.3,90.4 316.2,89.5 C319.2,88.6 322.7,87.5 325.0,86.8 C327.3,86.0 329.2,85.2 330.0,84.9"/>
<path d="M333.8,91.8 C335.0,91.5 338.5,90.7 341.2,90.5 C344.0,90.3 347.5,90.1 350.0,90.5 C352.5,90.9 355.2,92.6 356.2,93.0"/>
<path d="M353.8,94.2 C354.2,95.7 355.2,100.9 356.2,103.0 C357.3,105.1 358.1,105.3 360.0,106.8 C361.9,108.2 365.8,109.9 367.5,111.8 C369.2,113.6 369.8,116.1 370.0,118.0 C370.2,119.9 369.2,122.4 369.0,123.2"/>
<path d="M355.0,103.0 C356.2,103.2 359.6,104.2 362.5,104.2 C365.4,104.2 369.6,103.4 372.5,103.0 C375.4,102.6 378.8,102.0 380.0,101.8"/>
<path d="M372.5,88.0 C372.1,88.6 371.2,90.7 370.0,91.8 C368.8,92.8 365.8,93.8 365.0,94.2"/>
<path d="M368.8,124.2 C369.8,124.5 373.1,125.5 375.0,125.5 C376.9,125.5 379.2,124.5 380.0,124.2"/>
<path d="M300.0,211.2 C298.3,211.5 293.3,211.7 290.0,212.5 C286.7,213.3 283.3,215.0 280.0,216.2 C276.7,217.5 273.1,218.8 270.0,220.0 C266.9,221.2 263.8,222.3 261.2,223.8 C258.8,225.2 257.3,227.1 255.0,228.8 C252.7,230.4 249.8,232.1 247.5,233.8 C245.2,235.4 243.3,236.9 241.2,238.8 C239.2,240.6 236.7,243.1 235.0,245.0 C233.3,246.9 232.3,248.3 231.2,250.0 C230.2,251.7 229.2,254.2 228.8,255.0"/>
<path d="M300.0,232.5 C298.3,233.1 293.5,235.0 290.0,236.2 C286.5,237.5 282.1,238.5 278.8,240.0 C275.4,241.5 272.5,243.3 270.0,245.0 C267.5,246.7 265.2,248.3 263.8,250.0 C262.3,251.7 261.7,254.2 261.2,255.0"/>
<path d="M280.0,195.0 C280.4,196.0 281.2,199.2 282.5,201.2 C283.8,203.3 286.2,205.8 287.5,207.5 C288.8,209.2 289.6,210.6 290.0,211.2"/>
<path d="M230.0,236.2 C230.4,237.3 231.9,240.6 232.5,242.5 C233.1,244.4 233.8,245.4 233.8,247.5 C233.8,249.6 232.7,253.8 232.5,255.0"/>
<path d="M300.0,210.0 C302.1,209.8 308.8,209.4 312.5,208.8 C316.2,208.1 319.2,207.3 322.5,206.2 C325.8,205.2 329.4,203.6 332.5,202.5 C335.6,201.4 337.9,200.2 341.2,199.4 C344.6,198.5 349.0,197.9 352.5,197.5 C356.0,197.1 359.6,197.3 362.5,196.9 C365.4,196.5 367.1,195.7 370.0,195.0 C372.9,194.3 378.3,192.9 380.0,192.5"/>
<path d="M335.0,190.0 C335.0,190.8 335.6,193.3 335.0,195.0 C334.4,196.7 331.9,199.2 331.2,200.0"/>
<path d="M355.0,200.0 C354.6,201.2 353.5,205.2 352.5,207.5 C351.5,209.8 349.8,211.9 348.8,213.8 C347.7,215.6 347.3,217.1 346.2,218.8 C345.2,220.4 344.0,222.3 342.5,223.8 C341.0,225.2 339.0,226.7 337.5,227.5 C336.0,228.3 334.4,228.5 333.8,228.8"/>
<path d="M333.8,208.8 C333.5,209.8 332.9,212.9 332.5,215.0 C332.1,217.1 331.2,219.2 331.2,221.2 C331.2,223.3 331.7,226.0 332.5,227.5 C333.3,229.0 335.6,229.6 336.2,230.0"/>
<path d="M300.0,231.2 C301.7,231.5 306.7,232.1 310.0,232.5 C313.3,232.9 317.1,233.8 320.0,233.8 C322.9,233.8 325.4,233.1 327.5,232.5 C329.6,231.9 331.7,230.4 332.5,230.0"/>
<path d="M300.0,200.0 C300.6,199.0 302.9,195.4 303.8,193.8 C304.6,192.1 304.8,190.6 305.0,190.0"/>
<path d="M241.2,103.8 C242.3,103.4 244.6,102.3 247.5,101.9 C250.4,101.5 254.8,101.2 258.8,101.2 C262.7,101.2 267.5,101.8 271.2,101.9 C275.0,102.0 277.9,102.0 281.2,101.9 C284.6,101.8 289.6,101.4 291.2,101.2"/>
<path d="M265.0,91.9 C266.0,92.0 269.0,92.2 271.2,92.5 C273.5,92.8 277.1,93.5 278.8,93.8 C280.4,94.0 280.8,93.8 281.2,93.8"/>
<path d="M290.0,83.8 C290.4,85.2 292.1,89.6 292.5,92.5 C292.9,95.4 292.1,99.2 292.5,101.2 C292.9,103.3 294.4,103.1 295.0,105.0 C295.6,106.9 296.2,109.8 296.2,112.5 C296.2,115.2 295.6,118.5 295.0,121.2 C294.4,124.0 293.3,126.7 292.5,128.8 C291.7,130.8 290.8,131.9 290.0,133.8 C289.2,135.6 287.9,139.0 287.5,140.0"/>
<path d="M320.0,90.0 C318.3,90.6 312.9,92.5 310.0,93.8 C307.1,95.0 304.8,95.8 302.5,97.5 C300.2,99.2 297.3,102.7 296.2,103.8"/>
<path d="M256.2,118.8 C257.3,119.2 260.4,120.5 262.5,121.2 C264.6,122.0 267.1,123.1 268.8,123.1 C270.4,123.1 271.9,121.6 272.5,121.2"/>
<path d="M268.8,123.1 C268.3,124.3 266.9,127.8 266.2,130.0 C265.6,132.2 265.2,135.2 265.0,136.2"/>
<path d="M240.0,121.2 C240.8,122.3 243.5,125.4 245.0,127.5 C246.5,129.6 247.9,131.7 248.8,133.8 C249.6,135.8 249.8,139.0 250.0,140.0"/>
<path d="M375.0,97.5 C376.2,98.1 380.2,99.8 382.5,101.2 C384.8,102.7 387.1,104.4 388.8,106.2 C390.4,108.1 391.7,111.0 392.5,112.5 C393.3,114.0 392.5,114.6 393.8,115.0 C395.0,115.4 397.7,115.2 400.0,115.0 C402.3,114.8 404.8,114.1 407.5,113.8 C410.2,113.4 413.3,112.9 416.2,113.1 C419.2,113.3 422.7,114.1 425.0,115.0 C427.3,115.9 428.5,117.1 430.0,118.8 C431.5,120.4 432.7,122.3 433.8,125.0 C434.8,127.7 435.6,131.7 436.2,135.0 C436.9,138.3 437.3,143.3 437.5,145.0"/>
<path d="M375.0,122.5 C375.8,122.3 377.9,121.2 380.0,121.2 C382.1,121.2 385.2,121.7 387.5,122.5 C389.8,123.3 391.9,125.0 393.8,126.2 C395.6,127.5 397.3,128.5 398.8,130.0 C400.2,131.5 401.5,132.5 402.5,135.0 C403.5,137.5 404.6,143.3 405.0,145.0"/>
<path d="M412.5,127.5 C412.3,128.8 411.5,132.5 411.2,135.0 C411.0,137.5 411.0,140.8 411.2,142.5 C411.5,144.2 412.3,144.6 412.5,145.0"/>
<path d="M440.0,126.2 C440.4,127.7 441.7,131.9 442.5,135.0 C443.3,138.1 444.6,143.3 445.0,145.0"/>
<path d="M425.0,183.8 C424.0,184.8 420.8,188.3 418.8,190.0 C416.7,191.7 414.6,192.9 412.5,193.8 C410.4,194.6 407.3,194.8 406.2,195.0"/>
<path d="M178.3,141.6 C178.5,142.7 179.4,145.6 179.4,148.1 C179.4,150.7 178.7,154.3 178.3,156.9 C177.9,159.4 177.6,161.3 177.2,163.4 C176.8,165.6 176.5,167.5 176.1,170.0 C175.7,172.6 175.0,175.9 175.0,178.8 C175.0,181.6 175.9,185.6 176.1,187.0"/>
<path d="M193.6,135.0 C193.8,136.5 194.7,140.8 194.7,143.8 C194.7,146.7 194.0,150.0 193.6,152.5 C193.2,155.1 192.9,156.7 192.5,159.1 C192.2,161.4 192.0,164.5 191.4,166.7 C190.9,168.9 189.8,170.2 189.2,172.2 C188.7,174.2 188.1,176.3 188.1,178.8 C188.1,181.2 189.1,185.6 189.2,187.0"/>
<path d="M179.4,150.3 C180.7,150.6 184.7,152.0 187.0,152.0 C189.4,152.0 192.5,150.6 193.6,150.3"/>
<path d="M192.5,166.7 C194.0,166.7 198.4,166.7 201.3,166.7 C204.2,166.7 208.6,166.7 210.0,166.7"/>
<path d="M176.1,171.1 C177.4,171.3 181.4,172.2 183.8,172.2 C186.1,172.2 189.2,171.3 190.3,171.1"/>
<path d="M166.3,167.8 C167.2,168.0 170.1,168.6 171.7,168.9 C173.4,169.3 175.4,169.8 176.1,170.0"/>
<path d="M156.4,159.1 C158.1,158.9 164.3,159.3 166.3,158.0 C168.3,156.7 168.1,152.5 168.4,151.4"/>
<path d="M158.6,176.6 C159.9,176.2 164.8,175.8 166.3,174.4 C167.7,172.9 167.2,168.9 167.4,167.8"/>
<path d="M154.2,185.0 C154.0,186.1 153.9,189.4 153.1,191.6 C152.4,193.8 150.9,196.1 149.8,198.1 C148.8,200.1 147.5,202.1 146.6,203.6 C145.7,205.1 144.7,206.3 144.4,206.9"/>
<path d="M144.4,206.9 C145.1,207.8 147.3,210.2 148.8,212.4 C150.2,214.5 151.9,217.6 153.1,220.0 C154.4,222.4 155.0,224.8 156.4,226.6 C157.9,228.4 159.9,229.9 161.9,231.0 C163.9,232.0 167.4,232.8 168.4,233.1"/>
<path d="M167.4,185.0 C167.5,186.1 168.4,189.4 168.4,191.6 C168.4,193.8 167.7,196.1 167.4,198.1 C167.0,200.1 167.2,202.1 166.3,203.6 C165.3,205.1 163.0,205.8 161.9,206.9 C160.8,208.0 160.1,209.6 159.7,210.2"/>
<path d="M176.1,185.0 C176.3,186.1 177.2,189.7 177.2,191.6 C177.2,193.4 176.7,194.1 176.1,195.9 C175.6,197.8 174.3,201.4 173.9,202.5"/>
<path d="M159.7,210.2 C160.8,209.8 164.1,208.5 166.3,208.0 C168.4,207.4 170.6,207.2 172.8,206.9 C175.0,206.6 177.2,206.3 179.4,206.3 C181.6,206.3 184.1,206.2 186.0,206.9 C187.8,207.5 189.4,208.5 190.3,210.2 C191.2,211.8 191.4,214.7 191.4,216.7 C191.4,218.7 191.2,220.7 190.3,222.2 C189.4,223.7 188.0,224.8 186.0,225.5 C183.9,226.2 180.5,226.6 178.3,226.6 C176.1,226.6 174.8,225.8 172.8,225.5 C170.8,225.1 168.3,224.9 166.3,224.4 C164.3,223.8 162.1,223.5 160.8,222.2 C159.5,220.9 158.8,218.7 158.6,216.7 C158.4,214.7 159.5,211.3 159.7,210.2"/>
<path d="M190.3,210.2 C191.4,209.6 194.7,208.3 196.9,206.9 C199.1,205.4 201.6,203.2 203.5,201.4 C205.3,199.6 206.7,197.0 207.8,195.9 C208.9,194.8 209.7,195.0 210.0,194.8"/>
<path d="M179.4,185.0 C180.1,186.1 181.6,189.4 183.8,191.6 C186.0,193.8 189.6,196.9 192.5,198.1 C195.4,199.4 199.1,199.6 201.3,199.2 C203.5,198.9 204.9,196.5 205.6,195.9"/>
<path d="M191.4,217.8 C192.5,218.4 195.6,220.0 198.0,221.1 C200.4,222.2 203.6,223.7 205.6,224.4 C207.7,225.1 209.3,225.3 210.0,225.5"/>
<path d="M186.0,225.5 C186.1,226.4 187.0,229.0 187.0,231.0 C187.0,232.9 186.1,236.0 186.0,237.0"/>
<path d="M209.4,143.8 C209.7,145.0 210.5,149.2 211.6,151.4 C212.7,153.6 214.1,155.1 215.9,156.9 C217.8,158.7 220.7,161.3 222.5,162.4 C224.3,163.4 225.1,163.4 226.9,163.4 C228.7,163.4 231.1,162.4 233.4,162.4 C235.8,162.4 238.6,163.6 241.1,163.4 C243.7,163.3 246.2,162.0 248.8,161.3 C251.3,160.5 255.1,159.4 256.4,159.1"/>
<path d="M222.5,162.4 C222.5,163.6 222.7,167.3 222.5,170.0 C222.3,172.7 221.8,175.9 221.4,178.8 C221.0,181.6 220.5,185.6 220.3,187.0"/>
<path d="M237.8,167.8 C237.5,169.3 236.2,173.4 235.6,176.6 C235.1,179.8 234.7,185.2 234.5,187.0"/>
<path d="M231.3,185.0 C230.9,186.5 229.6,191.0 229.1,193.8 C228.5,196.5 228.0,198.7 228.0,201.4 C228.0,204.1 228.5,207.4 229.1,210.2 C229.6,212.9 230.3,215.5 231.3,217.8 C232.2,220.2 234.0,223.3 234.5,224.4"/>
<path d="M253.1,185.0 C253.0,186.5 252.2,190.8 252.0,193.8 C251.9,196.7 251.9,199.6 252.0,202.5 C252.2,205.4 252.6,208.7 253.1,211.3 C253.7,213.8 254.4,216.0 255.3,217.8 C256.2,219.6 257.9,221.1 258.6,222.2 C259.3,223.3 259.5,224.0 259.7,224.4"/>
<path d="M270.6,185.0 C270.5,186.8 269.9,192.3 269.6,195.9 C269.2,199.6 268.5,204.0 268.5,206.9 C268.5,209.8 269.4,212.4 269.6,213.4"/>
<path d="M205.0,199.2 C205.9,199.4 208.6,200.0 210.5,200.3 C212.3,200.7 213.9,200.9 215.9,201.4 C217.9,202.0 220.7,202.9 222.5,203.6 C224.3,204.3 225.8,204.7 226.9,205.8 C228.0,206.9 228.7,209.4 229.1,210.2"/>
<path d="M205.0,211.3 C206.1,211.6 209.4,212.4 211.6,213.4 C213.8,214.5 215.9,216.5 218.1,217.8 C220.3,219.1 222.5,220.0 224.7,221.1 C226.9,222.2 229.1,223.5 231.3,224.4 C233.4,225.3 235.6,225.7 237.8,226.6 C240.0,227.5 242.6,228.9 244.4,229.6 C246.2,230.3 248.0,230.6 248.8,230.7"/>
<path d="M205.0,221.1 C205.7,222.0 207.9,224.9 209.4,226.6 C210.8,228.2 212.7,229.2 213.8,231.0 C214.8,232.7 215.6,236.0 215.9,237.0"/>
<path d="M149.2,236.4 C150.4,237.4 153.7,240.0 156.3,242.1 C158.8,244.2 161.9,247.0 164.7,249.1 C167.5,251.2 170.3,253.1 173.1,254.7 C175.9,256.4 178.3,257.8 181.6,258.9 C184.8,260.1 189.1,261.1 192.8,261.8 C196.6,262.5 200.3,262.9 204.1,263.2 C207.8,263.4 212.0,263.6 215.3,263.2 C218.6,262.7 222.4,260.8 223.8,260.3"/>
<path d="M159.1,233.6 C160.2,234.6 163.8,237.6 166.1,239.3 C168.4,240.9 170.8,242.3 173.1,243.5 C175.5,244.6 177.6,245.3 180.2,246.3 C182.7,247.2 185.6,248.2 188.6,249.1 C191.6,250.0 195.2,251.2 198.4,251.9 C201.7,252.6 205.0,253.3 208.3,253.3 C211.6,253.3 215.1,252.6 218.1,251.9 C221.2,251.2 225.2,249.6 226.6,249.1"/>
<path d="M184.4,228.0 C184.6,229.4 184.8,233.9 185.8,236.4 C186.7,239.0 188.1,241.6 190.0,243.5 C191.9,245.3 194.5,246.8 197.0,247.7 C199.6,248.6 202.7,249.1 205.5,249.1 C208.3,249.1 211.1,248.4 213.9,247.7 C216.7,247.0 219.8,246.0 222.4,244.9 C224.9,243.7 228.2,241.4 229.4,240.7"/>
<path d="M198.4,228.0 C198.9,228.9 199.6,232.0 201.3,233.6 C202.9,235.3 205.5,236.9 208.3,237.8 C211.1,238.8 215.1,239.5 218.1,239.3 C221.2,239.0 224.2,237.6 226.6,236.4 C228.9,235.3 231.3,232.9 232.2,232.2"/>
<path d="M316.3,120.0 C316.0,121.6 314.7,126.3 314.8,129.4 C314.8,132.5 315.7,135.9 316.6,138.8 C317.6,141.6 319.6,144.3 320.4,146.3 C321.2,148.2 321.3,149.7 321.5,150.4"/>
<path d="M290.0,163.1 C291.9,162.8 297.8,162.2 301.3,161.3 C304.7,160.3 307.3,159.3 310.6,157.5 C314.0,155.7 319.7,151.6 321.5,150.4"/>
<path d="M305.0,163.1 C304.7,164.7 303.4,169.1 303.1,172.5 C302.8,175.9 302.8,180.0 303.1,183.8 C303.4,187.5 304.4,190.6 305.0,195.0 C305.6,199.4 306.6,207.5 306.9,210.0"/>
<path d="M345.3,135.9 C345.6,137.0 346.9,139.8 347.2,142.5 C347.5,145.2 347.6,148.9 347.2,151.9 C346.8,154.8 345.8,157.6 344.8,160.3 C343.7,163.1 342.6,166.5 340.6,168.4 C338.7,170.2 335.9,170.6 333.1,171.4 C330.3,172.1 326.3,172.3 323.8,172.9 C321.3,173.4 319.1,174.4 318.1,174.8"/>
<path d="M368.8,120.0 C368.6,120.7 369.1,122.8 367.8,124.1 C366.6,125.4 363.9,126.4 361.3,127.9 C358.6,129.3 354.5,131.4 351.9,132.8 C349.2,134.1 346.4,135.4 345.3,135.9"/>
<path d="M370.6,142.5 C371.0,144.1 372.0,148.8 372.9,151.9 C373.8,155.0 375.4,158.1 375.9,161.3 C376.4,164.4 376.4,167.5 375.9,170.6 C375.3,173.8 373.7,176.9 372.5,180.0 C371.3,183.1 370.5,186.4 368.8,189.0 C367.0,191.6 364.7,193.8 362.2,195.4 C359.7,196.9 356.7,197.8 353.8,198.4 C350.8,198.9 347.5,198.9 344.4,198.8 C341.3,198.6 337.8,197.8 335.0,197.3 C332.2,196.7 328.8,195.7 327.5,195.4"/>
<path d="M340.6,168.4 C342.5,169.4 349.1,172.7 351.9,174.4 C354.7,176.1 356.0,177.2 357.5,178.5 C359.0,179.8 360.3,181.6 360.9,182.3"/>
<path d="M395.0,120.0 C395.6,121.9 398.3,126.9 398.4,131.3 C398.4,135.6 396.6,141.9 395.4,146.3 C394.2,150.6 393.2,154.4 391.3,157.5 C389.3,160.6 385.9,163.1 383.8,165.0 C381.6,166.9 379.1,168.4 378.1,169.1"/>
<path d="M391.3,157.5 C393.1,156.6 399.4,153.4 402.5,151.9 C405.6,150.3 408.8,148.8 410.0,148.1"/>
<path d="M379.6,167.3 C380.9,167.6 384.9,167.6 387.5,169.1 C390.1,170.6 392.5,174.1 395.0,176.3 C397.5,178.4 400.0,180.6 402.5,181.9 C405.0,183.1 408.8,183.4 410.0,183.8"/>
<path d="M368.8,191.3 C370.3,191.9 375.0,193.8 378.1,195.0 C381.3,196.3 384.1,197.5 387.5,198.8 C390.9,200.0 395.0,201.6 398.8,202.5 C402.5,203.4 408.1,204.1 410.0,204.4"/>
<path d="M290.0,135.0 C291.3,134.7 294.4,133.7 297.5,133.1 C300.6,132.6 305.9,132.3 308.8,131.6 C311.6,131.0 313.8,129.8 314.8,129.4"/>
<path d="M335.0,197.3 C335.0,198.1 334.7,200.4 335.0,202.5 C335.3,204.6 336.6,208.8 336.9,210.0"/>
<path d="M355.6,198.8 C355.3,200.0 354.4,204.4 353.8,206.3 C353.1,208.1 352.2,209.4 351.9,210.0"/>
<path d="M303.1,183.8 C301.9,184.4 297.8,186.6 295.6,187.5 C293.4,188.4 290.9,189.1 290.0,189.4"/>
<path d="M435.0,140.0 C434.8,141.7 434.2,146.7 433.8,150.0 C433.3,153.3 433.1,156.5 432.5,160.0 C431.9,163.5 430.8,167.7 430.0,171.2 C429.2,174.8 428.1,178.1 427.5,181.2 C426.9,184.4 426.7,186.9 426.2,190.0 C425.8,193.1 425.2,198.3 425.0,200.0"/>
<path d="M450.0,140.0 C450.0,141.7 449.8,146.7 450.0,150.0 C450.2,153.3 451.2,156.7 451.2,160.0 C451.2,163.3 450.6,167.3 450.0,170.0 C449.4,172.7 448.8,174.2 447.5,176.2 C446.2,178.3 444.2,180.2 442.5,182.5 C440.8,184.8 439.2,187.1 437.5,190.0 C435.8,192.9 433.3,198.3 432.5,200.0"/>
<path d="M457.5,147.5 C457.9,149.0 459.2,153.3 460.0,156.2 C460.8,159.2 462.1,162.3 462.5,165.0 C462.9,167.7 462.5,171.2 462.5,172.5"/>
<path d="M447.5,176.2 C449.0,175.8 453.3,174.4 456.2,173.8 C459.2,173.1 462.9,173.5 465.0,172.5 C467.1,171.5 468.1,168.3 468.8,167.5"/>
<path d="M465.0,172.5 C465.8,173.3 468.5,175.4 470.0,177.5 C471.5,179.6 472.7,182.5 473.8,185.0 C474.8,187.5 475.6,190.0 476.2,192.5 C476.9,195.0 477.3,198.8 477.5,200.0"/>
<path d="M437.5,140.0 C438.5,140.6 442.1,142.5 443.8,143.8 C445.4,145.0 446.9,146.9 447.5,147.5"/>
<path d="M416.2,195.0 C415.8,196.7 414.6,201.9 413.8,205.0 C412.9,208.1 412.1,211.5 411.2,213.8 C410.4,216.0 410.2,217.5 408.8,218.8 C407.3,220.0 404.8,220.4 402.5,221.2 C400.2,222.1 397.9,222.9 395.0,223.8 C392.1,224.6 388.3,225.6 385.0,226.2 C381.7,226.9 377.9,227.1 375.0,227.5 C372.1,227.9 370.0,227.9 367.5,228.8 C365.0,229.6 361.2,231.9 360.0,232.5"/>
<path d="M408.8,218.8 C410.0,219.2 413.5,220.0 416.2,221.2 C419.0,222.5 422.4,224.5 425.0,226.2 C427.6,228.0 430.7,230.9 431.9,231.9"/>
<path d="M462.5,195.0 C461.2,196.2 456.7,200.6 455.0,202.5 C453.3,204.4 452.9,205.6 452.5,206.2"/>
<path d="M465.0,202.5 C466.2,203.8 470.8,207.1 472.5,210.0 C474.2,212.9 474.2,216.2 475.0,220.0 C475.8,223.8 476.7,228.3 477.5,232.5 C478.3,236.7 479.4,241.2 480.0,245.0 C480.6,248.8 481.0,253.3 481.2,255.0"/>
<path d="M480.0,207.5 C480.4,209.6 481.7,215.8 482.5,220.0 C483.3,224.2 484.4,228.8 485.0,232.5 C485.6,236.2 486.0,240.8 486.2,242.5"/>
<path d="M477.5,266.2 C477.7,267.9 478.3,273.1 478.8,276.2 C479.2,279.4 479.8,283.5 480.0,285.0"/>
<path d="M475.0,245.0 C475.4,246.7 476.9,251.7 477.5,255.0 C478.1,258.3 478.5,263.3 478.8,265.0"/>
<path d="M342.5,167.5 C345.0,168.4 353.1,170.8 357.5,173.0 C361.9,175.2 365.2,179.0 369.0,180.6 C372.8,182.2 378.2,182.2 380.0,182.5"/>
<path d="M230.0,252.0 C231.7,250.2 237.2,243.7 240.0,241.0 C242.8,238.3 245.8,236.8 247.0,236.0"/>
<path d="M362.5,231.2 C363.8,230.6 367.1,228.1 370.0,227.5 C372.9,226.9 378.3,227.5 380.0,227.5" stroke-width="1.61"/>
<path d="M225.0,277.5 C226.2,278.5 230.0,282.3 232.5,283.8 C235.0,285.2 237.3,285.6 240.0,286.2 C242.7,286.9 246.0,286.7 248.8,287.5 C251.5,288.3 254.0,290.4 256.2,291.2 C258.5,292.1 260.2,292.1 262.5,292.5 C264.8,292.9 268.8,293.5 270.0,293.8" stroke-width="1.61"/>
<path d="M240.0,267.5 C240.8,269.2 243.3,274.8 245.0,277.5 C246.7,280.2 248.3,282.1 250.0,283.8 C251.7,285.4 254.2,286.9 255.0,287.5" stroke-width="1.61"/>
<path d="M232.5,263.8 C234.0,264.2 238.8,266.0 241.2,266.2 C243.8,266.5 245.0,265.6 247.5,265.0 C250.0,264.4 253.8,263.1 256.2,262.5 C258.8,261.9 260.4,261.9 262.5,261.2 C264.6,260.6 267.7,259.2 268.8,258.8" stroke-width="1.61"/>
<path d="M235.0,296.2 C236.5,297.3 240.8,300.8 243.8,302.5 C246.7,304.2 249.4,305.2 252.5,306.2 C255.6,307.3 259.2,308.1 262.5,308.8 C265.8,309.4 269.2,310.0 272.5,310.0 C275.8,310.0 278.8,309.4 282.5,308.8 C286.2,308.1 291.2,306.9 295.0,306.2 C298.8,305.6 303.3,305.2 305.0,305.0" stroke-width="1.61"/>
<path d="M341.2,280.0 C342.7,279.4 346.9,277.9 350.0,276.2 C353.1,274.6 356.7,271.5 360.0,270.0 C363.3,268.5 366.7,268.1 370.0,267.5 C373.3,266.9 378.3,266.5 380.0,266.2" stroke-width="1.61"/>
<path d="M360.0,261.2 C361.7,261.7 366.7,263.5 370.0,263.8 C373.3,264.0 378.3,262.7 380.0,262.5" stroke-width="1.61"/>
<path d="M154.8,249.1 C156.3,250.3 160.5,254.0 163.3,256.1 C166.1,258.2 168.7,260.1 171.7,261.8 C174.8,263.4 178.1,264.8 181.6,266.0 C185.1,267.1 189.1,268.1 192.8,268.8 C196.6,269.5 200.3,270.0 204.1,270.2 C207.8,270.4 213.4,270.2 215.3,270.2" stroke-width="1.61"/>
<path d="M360.0,232.5 C360.8,233.5 362.9,236.7 365.0,238.8 C367.1,240.8 370.4,243.1 372.5,245.0 C374.6,246.9 375.8,248.3 377.5,250.0 C379.2,251.7 381.7,254.2 382.5,255.0" stroke-width="1.61"/>
<path d="M435.0,195.0 C434.8,197.1 434.2,203.3 433.8,207.5 C433.3,211.7 432.3,215.8 432.5,220.0 C432.7,224.2 434.2,228.8 435.0,232.5 C435.8,236.2 437.3,239.8 437.5,242.5 C437.7,245.2 437.1,246.7 436.2,248.8 C435.4,250.8 433.1,254.0 432.5,255.0" stroke-width="1.61"/>
<path d="M455.0,207.5 C456.0,208.8 459.4,212.1 461.2,215.0 C463.1,217.9 465.0,221.7 466.2,225.0 C467.5,228.3 468.1,231.7 468.8,235.0 C469.4,238.3 470.0,241.7 470.0,245.0 C470.0,248.3 469.0,253.3 468.8,255.0" stroke-width="1.61"/>
<path d="M452.5,225.0 C452.7,226.0 453.5,230.2 453.8,231.2" stroke-width="1.61"/>
<path d="M437.5,247.5 C439.6,247.7 445.8,248.8 450.0,248.8 C454.2,248.8 458.8,247.3 462.5,247.5 C466.2,247.7 470.8,249.6 472.5,250.0" stroke-width="1.61"/>
<path d="M378.8,248.8 C379.8,249.4 382.3,251.0 385.0,252.5 C387.7,254.0 391.9,256.0 395.0,257.5 C398.1,259.0 400.8,260.4 403.8,261.2 C406.7,262.1 409.8,262.5 412.5,262.5 C415.2,262.5 417.1,262.5 420.0,261.2 C422.9,260.0 427.1,257.1 430.0,255.0 C432.9,252.9 436.2,249.8 437.5,248.8" stroke-width="1.61"/>
<path d="M412.5,262.5 C412.3,263.8 411.2,267.1 411.2,270.0 C411.2,272.9 411.9,277.3 412.5,280.0 C413.1,282.7 414.4,284.4 415.0,286.2 C415.6,288.1 416.2,289.4 416.2,291.2 C416.2,293.1 415.2,296.5 415.0,297.5" stroke-width="1.61"/>
<path d="M382.5,282.5 C384.0,282.7 388.1,283.8 391.2,283.8 C394.4,283.8 397.9,283.1 401.2,282.5 C404.6,281.9 409.6,280.4 411.2,280.0" stroke-width="1.61"/>
<path d="M381.2,283.8 C381.5,284.8 381.9,288.1 382.5,290.0 C383.1,291.9 384.6,294.2 385.0,295.0" stroke-width="1.61"/>
<path d="M430.0,272.5 C430.4,273.3 431.2,275.8 432.5,277.5 C433.8,279.2 436.2,281.0 437.5,282.5 C438.8,284.0 439.6,285.6 440.0,286.2" stroke-width="1.61"/>
<path d="M437.5,245.0 C436.7,245.8 434.6,248.8 432.5,250.0 C430.4,251.2 426.2,252.1 425.0,252.5" stroke-width="1.61"/>
<path d="M432.5,273.8 C433.3,273.1 434.6,271.2 437.5,270.0 C440.4,268.8 445.8,267.1 450.0,266.2 C454.2,265.4 458.8,265.4 462.5,265.0 C466.2,264.6 470.0,264.6 472.5,263.8 C475.0,262.9 475.8,261.5 477.5,260.0 C479.2,258.5 480.8,256.9 482.5,255.0 C484.2,253.1 486.7,249.8 487.5,248.8" stroke-width="1.61"/>
<path d="M432.5,273.8 C432.9,275.2 433.8,280.0 435.0,282.5 C436.2,285.0 438.1,286.9 440.0,288.8 C441.9,290.6 443.5,292.5 446.2,293.8 C449.0,295.0 452.5,296.0 456.2,296.2 C460.0,296.5 465.2,295.8 468.8,295.0 C472.3,294.2 475.4,292.7 477.5,291.2 C479.6,289.8 480.6,287.1 481.2,286.2" stroke-width="1.61"/>
<path d="M462.5,268.8 C463.3,269.2 466.2,270.4 467.5,271.2 C468.8,272.1 469.6,273.3 470.0,273.8" stroke-width="1.61"/>
<path d="M425.0,292.5 C427.1,292.7 434.0,293.5 437.5,293.8 C441.0,294.0 444.8,293.8 446.2,293.8" stroke-width="1.61"/>
</g>
<g stroke="#a86a30" stroke-width="1.4">
<path d="M140.6,222.0 C140.1,217.9 140.3,214.7 140.6,211.0 C140.9,207.3 141.8,203.8 142.5,200.0 C143.2,196.2 144.2,191.8 145.0,188.0 C145.8,184.2 146.5,180.8 147.5,177.5 C148.5,174.2 149.7,170.6 151.0,168.0 C152.3,165.4 153.6,163.8 155.2,161.7 C156.8,159.6 158.7,157.5 160.4,155.4 C162.1,153.3 163.9,151.0 165.6,149.2 C167.3,147.4 169.2,145.6 170.8,144.5 C172.4,143.4 173.9,143.2 175.0,142.4 C176.1,141.7 177.0,141.0 177.6,140.0 C178.2,139.0 177.7,137.8 178.3,136.5 C178.9,135.2 179.6,134.2 181.2,132.5 C182.9,130.8 186.1,128.2 188.5,126.2 C190.9,124.3 193.9,122.5 195.8,121.0 C197.7,119.5 197.5,118.6 200.0,117.2 C202.5,115.8 208.4,113.9 211.0,112.5 C213.6,111.1 213.5,109.9 215.6,108.6 C217.7,107.2 221.1,105.7 223.8,104.4 C226.4,103.1 229.2,101.6 231.2,100.8 C233.3,100.0 234.3,99.9 236.0,99.4 C237.7,98.9 239.6,98.5 241.4,97.7 C243.2,96.9 243.4,95.7 246.9,94.5 C250.4,93.3 257.8,91.9 262.5,90.6 C267.2,89.3 270.8,87.9 275.0,86.7 C279.2,85.5 283.9,84.4 287.5,83.6 C291.1,82.8 291.5,82.3 296.9,82.0 C302.3,81.7 314.7,82.1 320.0,82.0 C325.3,81.9 325.1,81.7 328.7,81.2 C332.3,80.7 337.3,78.9 341.9,79.0 C346.5,79.1 351.5,80.7 356.4,82.0 C361.2,83.3 367.3,85.8 371.0,87.0 C374.7,88.2 376.3,88.5 378.8,89.2 C381.2,90.0 382.5,90.2 385.6,91.4 C388.7,92.7 393.6,94.9 397.5,96.8 C401.4,98.6 404.7,100.4 408.8,102.4 C412.8,104.4 417.6,106.5 422.0,109.0 C426.4,111.5 431.3,114.4 435.0,117.4 C438.7,120.4 441.0,123.0 444.4,126.8 C447.8,130.5 452.6,136.1 455.6,140.0 C458.6,143.9 460.6,146.8 462.5,150.0 C464.4,153.2 465.2,156.0 467.0,159.4 C468.8,162.8 471.3,166.1 473.4,170.3 C475.5,174.5 477.9,180.2 479.7,184.4 C481.5,188.6 483.0,191.4 484.4,195.3 C485.8,199.2 487.0,203.7 488.3,207.8 C489.6,211.9 491.1,216.3 492.0,220.0 C492.9,223.7 493.4,226.6 494.0,230.0 C494.6,233.4 495.3,236.7 495.5,240.5 C495.7,244.3 495.5,248.5 495.0,253.0 C494.5,257.5 493.8,263.0 492.5,267.5 C491.2,272.0 489.4,276.8 487.5,280.0 C485.6,283.2 483.3,284.4 481.2,286.5 C479.2,288.6 477.3,290.7 475.0,292.5 C472.7,294.3 470.6,296.1 467.5,297.5 C464.4,298.9 460.2,300.2 456.2,301.0 C452.3,301.8 449.0,302.5 443.8,302.5 C438.5,302.5 431.5,301.7 425.0,301.2 C418.5,300.8 410.8,300.2 405.0,300.0 C399.2,299.8 395.9,299.4 390.3,300.0 C384.7,300.6 378.4,302.6 371.6,303.8 C364.8,304.9 356.6,306.1 349.7,307.0 C342.8,307.9 336.6,308.6 330.0,309.2 C323.4,309.8 315.0,309.6 310.3,310.3 C305.6,311.0 304.2,312.7 301.6,313.6 C299.1,314.5 298.5,314.7 295.0,315.8 C291.5,316.9 285.8,319.9 280.6,320.0 C275.4,320.1 269.1,318.2 264.0,316.4 C258.9,314.6 254.3,312.1 250.0,309.4 C245.7,306.7 241.6,303.2 238.4,300.0 C235.2,296.8 233.6,292.9 231.0,290.0 C228.4,287.1 224.7,285.0 223.0,282.5 C221.3,280.0 221.0,277.2 221.0,275.0 C221.0,272.8 223.6,269.9 223.0,269.4 C222.4,268.9 220.9,271.4 217.5,272.2 C214.1,273.0 207.5,273.9 202.5,274.0 C197.5,274.1 191.9,273.8 187.5,273.0 C183.1,272.2 179.7,270.9 176.2,269.4 C172.8,267.9 170.0,265.9 166.9,263.8 C163.8,261.6 160.3,259.1 157.5,256.2 C154.7,253.4 152.3,250.3 150.0,246.9 C147.7,243.5 145.0,239.8 143.4,235.6 C141.8,231.4 141.1,226.1 140.6,222.0Z" stroke-width="1.8"/>
<path d="M241.5,98.5 C241.4,99.3 241.4,101.5 240.6,103.1 C239.9,104.7 238.3,106.7 236.9,108.1 C235.4,109.5 233.8,110.4 231.9,111.5 C230.0,112.6 227.9,113.9 225.6,115.0 C223.3,116.1 220.6,117.1 218.1,118.1 C215.6,119.1 213.0,119.9 210.6,120.9 C208.2,121.9 205.8,122.9 203.8,124.0 C201.7,125.1 199.7,126.1 198.1,127.5 C196.6,128.9 195.1,130.7 194.4,132.5 C193.6,134.3 193.2,136.5 193.5,138.1 C193.8,139.8 195.8,141.8 196.2,142.5"/>
<path d="M196.2,142.5 C197.2,142.8 199.9,144.0 201.9,144.0 C203.9,144.0 205.5,143.3 208.1,142.2 C210.7,141.2 214.3,139.2 217.5,137.5 C220.7,135.8 224.7,133.6 227.5,131.9 C230.3,130.1 232.4,128.5 234.4,126.9 C236.4,125.2 237.9,123.9 239.4,121.9 C240.8,119.9 242.1,117.2 243.1,115.0 C244.2,112.8 244.4,110.6 245.6,108.8 C246.9,106.9 248.2,104.9 250.6,103.8 C253.0,102.6 258.4,102.2 260.0,101.9"/>
<path d="M210.6,148.8 C211.0,148.0 211.4,145.4 213.1,144.0 C214.9,142.6 218.0,141.4 221.2,140.6 C224.5,139.9 229.4,139.3 232.5,139.4 C235.6,139.5 237.5,141.1 240.0,141.2 C242.5,141.4 245.5,141.4 247.5,140.0 C249.5,138.6 251.0,135.5 252.2,133.1 C253.5,130.7 253.7,127.5 255.0,125.6 C256.3,123.8 259.2,122.5 260.0,121.9"/>
<path d="M246.2,140.0 C246.9,141.0 248.8,144.2 250.0,146.2 C251.2,148.3 252.5,150.4 253.8,152.5 C255.0,154.6 256.2,157.3 257.5,158.8 C258.8,160.2 259.2,160.8 261.2,161.2 C263.3,161.7 267.3,161.5 270.0,161.2 C272.7,161.0 275.6,161.5 277.5,160.0 C279.4,158.5 280.2,155.0 281.2,152.5 C282.3,150.0 283.1,147.1 283.8,145.0 C284.4,142.9 284.8,140.8 285.0,140.0"/>
<path d="M278.8,162.5 C278.3,164.2 277.3,169.4 276.2,172.5 C275.2,175.6 273.5,178.3 272.5,181.2 C271.5,184.2 270.6,186.9 270.0,190.0 C269.4,193.1 269.0,198.3 268.8,200.0"/>
<path d="M240.0,165.0 C239.2,166.2 236.5,169.8 235.0,172.5 C233.5,175.2 232.3,178.3 231.2,181.2 C230.2,184.2 229.4,186.9 228.8,190.0 C228.1,193.1 227.7,198.3 227.5,200.0"/>
<path d="M252.5,165.0 C252.7,166.7 253.5,171.7 253.8,175.0 C254.0,178.3 254.0,181.7 253.8,185.0 C253.5,188.3 252.9,192.5 252.5,195.0 C252.1,197.5 251.5,199.2 251.2,200.0"/>
<path d="M330.0,83.0 C330.4,83.8 332.2,85.7 332.5,88.0 C332.8,90.3 332.5,94.0 331.9,96.8 C331.2,99.5 330.1,102.0 328.8,104.2 C327.4,106.5 325.4,108.6 323.8,110.5 C322.1,112.4 320.2,113.4 318.8,115.5 C317.3,117.6 315.8,120.5 315.0,123.0 C314.2,125.5 314.2,128.0 313.8,130.5 C313.3,133.0 312.7,136.8 312.5,138.0"/>
<path d="M300.0,95.5 C301.2,95.0 304.8,93.4 307.5,92.4 C310.2,91.4 313.3,90.4 316.2,89.5 C319.2,88.6 322.7,87.5 325.0,86.8 C327.3,86.0 329.2,85.2 330.0,84.9"/>
<path d="M333.8,91.8 C335.0,91.5 338.5,90.7 341.2,90.5 C344.0,90.3 347.5,90.1 350.0,90.5 C352.5,90.9 355.2,92.6 356.2,93.0"/>
<path d="M353.8,94.2 C354.2,95.7 355.2,100.9 356.2,103.0 C357.3,105.1 358.1,105.3 360.0,106.8 C361.9,108.2 365.8,109.9 367.5,111.8 C369.2,113.6 369.8,116.1 370.0,118.0 C370.2,119.9 369.2,122.4 369.0,123.2"/>
<path d="M355.0,103.0 C356.2,103.2 359.6,104.2 362.5,104.2 C365.4,104.2 369.6,103.4 372.5,103.0 C375.4,102.6 378.8,102.0 380.0,101.8"/>
<path d="M372.5,88.0 C372.1,88.6 371.2,90.7 370.0,91.8 C368.8,92.8 365.8,93.8 365.0,94.2"/>
<path d="M368.8,124.2 C369.8,124.5 373.1,125.5 375.0,125.5 C376.9,125.5 379.2,124.5 380.0,124.2"/>
<path d="M300.0,211.2 C298.3,211.5 293.3,211.7 290.0,212.5 C286.7,213.3 283.3,215.0 280.0,216.2 C276.7,217.5 273.1,218.8 270.0,220.0 C266.9,221.2 263.8,222.3 261.2,223.8 C258.8,225.2 257.3,227.1 255.0,228.8 C252.7,230.4 249.8,232.1 247.5,233.8 C245.2,235.4 243.3,236.9 241.2,238.8 C239.2,240.6 236.7,243.1 235.0,245.0 C233.3,246.9 232.3,248.3 231.2,250.0 C230.2,251.7 229.2,254.2 228.8,255.0"/>
<path d="M300.0,232.5 C298.3,233.1 293.5,235.0 290.0,236.2 C286.5,237.5 282.1,238.5 278.8,240.0 C275.4,241.5 272.5,243.3 270.0,245.0 C267.5,246.7 265.2,248.3 263.8,250.0 C262.3,251.7 261.7,254.2 261.2,255.0"/>
<path d="M280.0,195.0 C280.4,196.0 281.2,199.2 282.5,201.2 C283.8,203.3 286.2,205.8 287.5,207.5 C288.8,209.2 289.6,210.6 290.0,211.2"/>
<path d="M230.0,236.2 C230.4,237.3 231.9,240.6 232.5,242.5 C233.1,244.4 233.8,245.4 233.8,247.5 C233.8,249.6 232.7,253.8 232.5,255.0"/>
<path d="M300.0,210.0 C302.1,209.8 308.8,209.4 312.5,208.8 C316.2,208.1 319.2,207.3 322.5,206.2 C325.8,205.2 329.4,203.6 332.5,202.5 C335.6,201.4 337.9,200.2 341.2,199.4 C344.6,198.5 349.0,197.9 352.5,197.5 C356.0,197.1 359.6,197.3 362.5,196.9 C365.4,196.5 367.1,195.7 370.0,195.0 C372.9,194.3 378.3,192.9 380.0,192.5"/>
<path d="M335.0,190.0 C335.0,190.8 335.6,193.3 335.0,195.0 C334.4,196.7 331.9,199.2 331.2,200.0"/>
<path d="M355.0,200.0 C354.6,201.2 353.5,205.2 352.5,207.5 C351.5,209.8 349.8,211.9 348.8,213.8 C347.7,215.6 347.3,217.1 346.2,218.8 C345.2,220.4 344.0,222.3 342.5,223.8 C341.0,225.2 339.0,226.7 337.5,227.5 C336.0,228.3 334.4,228.5 333.8,228.8"/>
<path d="M333.8,208.8 C333.5,209.8 332.9,212.9 332.5,215.0 C332.1,217.1 331.2,219.2 331.2,221.2 C331.2,223.3 331.7,226.0 332.5,227.5 C333.3,229.0 335.6,229.6 336.2,230.0"/>
<path d="M300.0,231.2 C301.7,231.5 306.7,232.1 310.0,232.5 C313.3,232.9 317.1,233.8 320.0,233.8 C322.9,233.8 325.4,233.1 327.5,232.5 C329.6,231.9 331.7,230.4 332.5,230.0"/>
<path d="M300.0,200.0 C300.6,199.0 302.9,195.4 303.8,193.8 C304.6,192.1 304.8,190.6 305.0,190.0"/>
<path d="M241.2,103.8 C242.3,103.4 244.6,102.3 247.5,101.9 C250.4,101.5 254.8,101.2 258.8,101.2 C262.7,101.2 267.5,101.8 271.2,101.9 C275.0,102.0 277.9,102.0 281.2,101.9 C284.6,101.8 289.6,101.4 291.2,101.2"/>
<path d="M265.0,91.9 C266.0,92.0 269.0,92.2 271.2,92.5 C273.5,92.8 277.1,93.5 278.8,93.8 C280.4,94.0 280.8,93.8 281.2,93.8"/>
<path d="M290.0,83.8 C290.4,85.2 292.1,89.6 292.5,92.5 C292.9,95.4 292.1,99.2 292.5,101.2 C292.9,103.3 294.4,103.1 295.0,105.0 C295.6,106.9 296.2,109.8 296.2,112.5 C296.2,115.2 295.6,118.5 295.0,121.2 C294.4,124.0 293.3,126.7 292.5,128.8 C291.7,130.8 290.8,131.9 290.0,133.8 C289.2,135.6 287.9,139.0 287.5,140.0"/>
<path d="M320.0,90.0 C318.3,90.6 312.9,92.5 310.0,93.8 C307.1,95.0 304.8,95.8 302.5,97.5 C300.2,99.2 297.3,102.7 296.2,103.8"/>
<path d="M256.2,118.8 C257.3,119.2 260.4,120.5 262.5,121.2 C264.6,122.0 267.1,123.1 268.8,123.1 C270.4,123.1 271.9,121.6 272.5,121.2"/>
<path d="M268.8,123.1 C268.3,124.3 266.9,127.8 266.2,130.0 C265.6,132.2 265.2,135.2 265.0,136.2"/>
<path d="M240.0,121.2 C240.8,122.3 243.5,125.4 245.0,127.5 C246.5,129.6 247.9,131.7 248.8,133.8 C249.6,135.8 249.8,139.0 250.0,140.0"/>
<path d="M375.0,97.5 C376.2,98.1 380.2,99.8 382.5,101.2 C384.8,102.7 387.1,104.4 388.8,106.2 C390.4,108.1 391.7,111.0 392.5,112.5 C393.3,114.0 392.5,114.6 393.8,115.0 C395.0,115.4 397.7,115.2 400.0,115.0 C402.3,114.8 404.8,114.1 407.5,113.8 C410.2,113.4 413.3,112.9 416.2,113.1 C419.2,113.3 422.7,114.1 425.0,115.0 C427.3,115.9 428.5,117.1 430.0,118.8 C431.5,120.4 432.7,122.3 433.8,125.0 C434.8,127.7 435.6,131.7 436.2,135.0 C436.9,138.3 437.3,143.3 437.5,145.0"/>
<path d="M375.0,122.5 C375.8,122.3 377.9,121.2 380.0,121.2 C382.1,121.2 385.2,121.7 387.5,122.5 C389.8,123.3 391.9,125.0 393.8,126.2 C395.6,127.5 397.3,128.5 398.8,130.0 C400.2,131.5 401.5,132.5 402.5,135.0 C403.5,137.5 404.6,143.3 405.0,145.0"/>
<path d="M412.5,127.5 C412.3,128.8 411.5,132.5 411.2,135.0 C411.0,137.5 411.0,140.8 411.2,142.5 C411.5,144.2 412.3,144.6 412.5,145.0"/>
<path d="M440.0,126.2 C440.4,127.7 441.7,131.9 442.5,135.0 C443.3,138.1 444.6,143.3 445.0,145.0"/>
<path d="M425.0,183.8 C424.0,184.8 420.8,188.3 418.8,190.0 C416.7,191.7 414.6,192.9 412.5,193.8 C410.4,194.6 407.3,194.8 406.2,195.0"/>
<path d="M178.3,141.6 C178.5,142.7 179.4,145.6 179.4,148.1 C179.4,150.7 178.7,154.3 178.3,156.9 C177.9,159.4 177.6,161.3 177.2,163.4 C176.8,165.6 176.5,167.5 176.1,170.0 C175.7,172.6 175.0,175.9 175.0,178.8 C175.0,181.6 175.9,185.6 176.1,187.0"/>
<path d="M193.6,135.0 C193.8,136.5 194.7,140.8 194.7,143.8 C194.7,146.7 194.0,150.0 193.6,152.5 C193.2,155.1 192.9,156.7 192.5,159.1 C192.2,161.4 192.0,164.5 191.4,166.7 C190.9,168.9 189.8,170.2 189.2,172.2 C188.7,174.2 188.1,176.3 188.1,178.8 C188.1,181.2 189.1,185.6 189.2,187.0"/>
<path d="M179.4,150.3 C180.7,150.6 184.7,152.0 187.0,152.0 C189.4,152.0 192.5,150.6 193.6,150.3"/>
<path d="M192.5,166.7 C194.0,166.7 198.4,166.7 201.3,166.7 C204.2,166.7 208.6,166.7 210.0,166.7"/>
<path d="M176.1,171.1 C177.4,171.3 181.4,172.2 183.8,172.2 C186.1,172.2 189.2,171.3 190.3,171.1"/>
<path d="M166.3,167.8 C167.2,168.0 170.1,168.6 171.7,168.9 C173.4,169.3 175.4,169.8 176.1,170.0"/>
<path d="M156.4,159.1 C158.1,158.9 164.3,159.3 166.3,158.0 C168.3,156.7 168.1,152.5 168.4,151.4"/>
<path d="M158.6,176.6 C159.9,176.2 164.8,175.8 166.3,174.4 C167.7,172.9 167.2,168.9 167.4,167.8"/>
<path d="M154.2,185.0 C154.0,186.1 153.9,189.4 153.1,191.6 C152.4,193.8 150.9,196.1 149.8,198.1 C148.8,200.1 147.5,202.1 146.6,203.6 C145.7,205.1 144.7,206.3 144.4,206.9"/>
<path d="M144.4,206.9 C145.1,207.8 147.3,210.2 148.8,212.4 C150.2,214.5 151.9,217.6 153.1,220.0 C154.4,222.4 155.0,224.8 156.4,226.6 C157.9,228.4 159.9,229.9 161.9,231.0 C163.9,232.0 167.4,232.8 168.4,233.1"/>
<path d="M167.4,185.0 C167.5,186.1 168.4,189.4 168.4,191.6 C168.4,193.8 167.7,196.1 167.4,198.1 C167.0,200.1 167.2,202.1 166.3,203.6 C165.3,205.1 163.0,205.8 161.9,206.9 C160.8,208.0 160.1,209.6 159.7,210.2"/>
<path d="M176.1,185.0 C176.3,186.1 177.2,189.7 177.2,191.6 C177.2,193.4 176.7,194.1 176.1,195.9 C175.6,197.8 174.3,201.4 173.9,202.5"/>
<path d="M159.7,210.2 C160.8,209.8 164.1,208.5 166.3,208.0 C168.4,207.4 170.6,207.2 172.8,206.9 C175.0,206.6 177.2,206.3 179.4,206.3 C181.6,206.3 184.1,206.2 186.0,206.9 C187.8,207.5 189.4,208.5 190.3,210.2 C191.2,211.8 191.4,214.7 191.4,216.7 C191.4,218.7 191.2,220.7 190.3,222.2 C189.4,223.7 188.0,224.8 186.0,225.5 C183.9,226.2 180.5,226.6 178.3,226.6 C176.1,226.6 174.8,225.8 172.8,225.5 C170.8,225.1 168.3,224.9 166.3,224.4 C164.3,223.8 162.1,223.5 160.8,222.2 C159.5,220.9 158.8,218.7 158.6,216.7 C158.4,214.7 159.5,211.3 159.7,210.2"/>
<path d="M190.3,210.2 C191.4,209.6 194.7,208.3 196.9,206.9 C199.1,205.4 201.6,203.2 203.5,201.4 C205.3,199.6 206.7,197.0 207.8,195.9 C208.9,194.8 209.7,195.0 210.0,194.8"/>
<path d="M179.4,185.0 C180.1,186.1 181.6,189.4 183.8,191.6 C186.0,193.8 189.6,196.9 192.5,198.1 C195.4,199.4 199.1,199.6 201.3,199.2 C203.5,198.9 204.9,196.5 205.6,195.9"/>
<path d="M191.4,217.8 C192.5,218.4 195.6,220.0 198.0,221.1 C200.4,222.2 203.6,223.7 205.6,224.4 C207.7,225.1 209.3,225.3 210.0,225.5"/>
<path d="M186.0,225.5 C186.1,226.4 187.0,229.0 187.0,231.0 C187.0,232.9 186.1,236.0 186.0,237.0"/>
<path d="M209.4,143.8 C209.7,145.0 210.5,149.2 211.6,151.4 C212.7,153.6 214.1,155.1 215.9,156.9 C217.8,158.7 220.7,161.3 222.5,162.4 C224.3,163.4 225.1,163.4 226.9,163.4 C228.7,163.4 231.1,162.4 233.4,162.4 C235.8,162.4 238.6,163.6 241.1,163.4 C243.7,163.3 246.2,162.0 248.8,161.3 C251.3,160.5 255.1,159.4 256.4,159.1"/>
<path d="M222.5,162.4 C222.5,163.6 222.7,167.3 222.5,170.0 C222.3,172.7 221.8,175.9 221.4,178.8 C221.0,181.6 220.5,185.6 220.3,187.0"/>
<path d="M237.8,167.8 C237.5,169.3 236.2,173.4 235.6,176.6 C235.1,179.8 234.7,185.2 234.5,187.0"/>
<path d="M231.3,185.0 C230.9,186.5 229.6,191.0 229.1,193.8 C228.5,196.5 228.0,198.7 228.0,201.4 C228.0,204.1 228.5,207.4 229.1,210.2 C229.6,212.9 230.3,215.5 231.3,217.8 C232.2,220.2 234.0,223.3 234.5,224.4"/>
<path d="M253.1,185.0 C253.0,186.5 252.2,190.8 252.0,193.8 C251.9,196.7 251.9,199.6 252.0,202.5 C252.2,205.4 252.6,208.7 253.1,211.3 C253.7,213.8 254.4,216.0 255.3,217.8 C256.2,219.6 257.9,221.1 258.6,222.2 C259.3,223.3 259.5,224.0 259.7,224.4"/>
<path d="M270.6,185.0 C270.5,186.8 269.9,192.3 269.6,195.9 C269.2,199.6 268.5,204.0 268.5,206.9 C268.5,209.8 269.4,212.4 269.6,213.4"/>
<path d="M205.0,199.2 C205.9,199.4 208.6,200.0 210.5,200.3 C212.3,200.7 213.9,200.9 215.9,201.4 C217.9,202.0 220.7,202.9 222.5,203.6 C224.3,204.3 225.8,204.7 226.9,205.8 C228.0,206.9 228.7,209.4 229.1,210.2"/>
<path d="M205.0,211.3 C206.1,211.6 209.4,212.4 211.6,213.4 C213.8,214.5 215.9,216.5 218.1,217.8 C220.3,219.1 222.5,220.0 224.7,221.1 C226.9,222.2 229.1,223.5 231.3,224.4 C233.4,225.3 235.6,225.7 237.8,226.6 C240.0,227.5 242.6,228.9 244.4,229.6 C246.2,230.3 248.0,230.6 248.8,230.7"/>
<path d="M205.0,221.1 C205.7,222.0 207.9,224.9 209.4,226.6 C210.8,228.2 212.7,229.2 213.8,231.0 C214.8,232.7 215.6,236.0 215.9,237.0"/>
<path d="M149.2,236.4 C150.4,237.4 153.7,240.0 156.3,242.1 C158.8,244.2 161.9,247.0 164.7,249.1 C167.5,251.2 170.3,253.1 173.1,254.7 C175.9,256.4 178.3,257.8 181.6,258.9 C184.8,260.1 189.1,261.1 192.8,261.8 C196.6,262.5 200.3,262.9 204.1,263.2 C207.8,263.4 212.0,263.6 215.3,263.2 C218.6,262.7 222.4,260.8 223.8,260.3"/>
<path d="M159.1,233.6 C160.2,234.6 163.8,237.6 166.1,239.3 C168.4,240.9 170.8,242.3 173.1,243.5 C175.5,244.6 177.6,245.3 180.2,246.3 C182.7,247.2 185.6,248.2 188.6,249.1 C191.6,250.0 195.2,251.2 198.4,251.9 C201.7,252.6 205.0,253.3 208.3,253.3 C211.6,253.3 215.1,252.6 218.1,251.9 C221.2,251.2 225.2,249.6 226.6,249.1"/>
<path d="M184.4,228.0 C184.6,229.4 184.8,233.9 185.8,236.4 C186.7,239.0 188.1,241.6 190.0,243.5 C191.9,245.3 194.5,246.8 197.0,247.7 C199.6,248.6 202.7,249.1 205.5,249.1 C208.3,249.1 211.1,248.4 213.9,247.7 C216.7,247.0 219.8,246.0 222.4,244.9 C224.9,243.7 228.2,241.4 229.4,240.7"/>
<path d="M198.4,228.0 C198.9,228.9 199.6,232.0 201.3,233.6 C202.9,235.3 205.5,236.9 208.3,237.8 C211.1,238.8 215.1,239.5 218.1,239.3 C221.2,239.0 224.2,237.6 226.6,236.4 C228.9,235.3 231.3,232.9 232.2,232.2"/>
<path d="M316.3,120.0 C316.0,121.6 314.7,126.3 314.8,129.4 C314.8,132.5 315.7,135.9 316.6,138.8 C317.6,141.6 319.6,144.3 320.4,146.3 C321.2,148.2 321.3,149.7 321.5,150.4"/>
<path d="M290.0,163.1 C291.9,162.8 297.8,162.2 301.3,161.3 C304.7,160.3 307.3,159.3 310.6,157.5 C314.0,155.7 319.7,151.6 321.5,150.4"/>
<path d="M305.0,163.1 C304.7,164.7 303.4,169.1 303.1,172.5 C302.8,175.9 302.8,180.0 303.1,183.8 C303.4,187.5 304.4,190.6 305.0,195.0 C305.6,199.4 306.6,207.5 306.9,210.0"/>
<path d="M345.3,135.9 C345.6,137.0 346.9,139.8 347.2,142.5 C347.5,145.2 347.6,148.9 347.2,151.9 C346.8,154.8 345.8,157.6 344.8,160.3 C343.7,163.1 342.6,166.5 340.6,168.4 C338.7,170.2 335.9,170.6 333.1,171.4 C330.3,172.1 326.3,172.3 323.8,172.9 C321.3,173.4 319.1,174.4 318.1,174.8"/>
<path d="M368.8,120.0 C368.6,120.7 369.1,122.8 367.8,124.1 C366.6,125.4 363.9,126.4 361.3,127.9 C358.6,129.3 354.5,131.4 351.9,132.8 C349.2,134.1 346.4,135.4 345.3,135.9"/>
<path d="M370.6,142.5 C371.0,144.1 372.0,148.8 372.9,151.9 C373.8,155.0 375.4,158.1 375.9,161.3 C376.4,164.4 376.4,167.5 375.9,170.6 C375.3,173.8 373.7,176.9 372.5,180.0 C371.3,183.1 370.5,186.4 368.8,189.0 C367.0,191.6 364.7,193.8 362.2,195.4 C359.7,196.9 356.7,197.8 353.8,198.4 C350.8,198.9 347.5,198.9 344.4,198.8 C341.3,198.6 337.8,197.8 335.0,197.3 C332.2,196.7 328.8,195.7 327.5,195.4"/>
<path d="M340.6,168.4 C342.5,169.4 349.1,172.7 351.9,174.4 C354.7,176.1 356.0,177.2 357.5,178.5 C359.0,179.8 360.3,181.6 360.9,182.3"/>
<path d="M395.0,120.0 C395.6,121.9 398.3,126.9 398.4,131.3 C398.4,135.6 396.6,141.9 395.4,146.3 C394.2,150.6 393.2,154.4 391.3,157.5 C389.3,160.6 385.9,163.1 383.8,165.0 C381.6,166.9 379.1,168.4 378.1,169.1"/>
<path d="M391.3,157.5 C393.1,156.6 399.4,153.4 402.5,151.9 C405.6,150.3 408.8,148.8 410.0,148.1"/>
<path d="M379.6,167.3 C380.9,167.6 384.9,167.6 387.5,169.1 C390.1,170.6 392.5,174.1 395.0,176.3 C397.5,178.4 400.0,180.6 402.5,181.9 C405.0,183.1 408.8,183.4 410.0,183.8"/>
<path d="M368.8,191.3 C370.3,191.9 375.0,193.8 378.1,195.0 C381.3,196.3 384.1,197.5 387.5,198.8 C390.9,200.0 395.0,201.6 398.8,202.5 C402.5,203.4 408.1,204.1 410.0,204.4"/>
<path d="M290.0,135.0 C291.3,134.7 294.4,133.7 297.5,133.1 C300.6,132.6 305.9,132.3 308.8,131.6 C311.6,131.0 313.8,129.8 314.8,129.4"/>
<path d="M335.0,197.3 C335.0,198.1 334.7,200.4 335.0,202.5 C335.3,204.6 336.6,208.8 336.9,210.0"/>
<path d="M355.6,198.8 C355.3,200.0 354.4,204.4 353.8,206.3 C353.1,208.1 352.2,209.4 351.9,210.0"/>
<path d="M303.1,183.8 C301.9,184.4 297.8,186.6 295.6,187.5 C293.4,188.4 290.9,189.1 290.0,189.4"/>
<path d="M435.0,140.0 C434.8,141.7 434.2,146.7 433.8,150.0 C433.3,153.3 433.1,156.5 432.5,160.0 C431.9,163.5 430.8,167.7 430.0,171.2 C429.2,174.8 428.1,178.1 427.5,181.2 C426.9,184.4 426.7,186.9 426.2,190.0 C425.8,193.1 425.2,198.3 425.0,200.0"/>
<path d="M450.0,140.0 C450.0,141.7 449.8,146.7 450.0,150.0 C450.2,153.3 451.2,156.7 451.2,160.0 C451.2,163.3 450.6,167.3 450.0,170.0 C449.4,172.7 448.8,174.2 447.5,176.2 C446.2,178.3 444.2,180.2 442.5,182.5 C440.8,184.8 439.2,187.1 437.5,190.0 C435.8,192.9 433.3,198.3 432.5,200.0"/>
<path d="M457.5,147.5 C457.9,149.0 459.2,153.3 460.0,156.2 C460.8,159.2 462.1,162.3 462.5,165.0 C462.9,167.7 462.5,171.2 462.5,172.5"/>
<path d="M447.5,176.2 C449.0,175.8 453.3,174.4 456.2,173.8 C459.2,173.1 462.9,173.5 465.0,172.5 C467.1,171.5 468.1,168.3 468.8,167.5"/>
<path d="M465.0,172.5 C465.8,173.3 468.5,175.4 470.0,177.5 C471.5,179.6 472.7,182.5 473.8,185.0 C474.8,187.5 475.6,190.0 476.2,192.5 C476.9,195.0 477.3,198.8 477.5,200.0"/>
<path d="M437.5,140.0 C438.5,140.6 442.1,142.5 443.8,143.8 C445.4,145.0 446.9,146.9 447.5,147.5"/>
<path d="M416.2,195.0 C415.8,196.7 414.6,201.9 413.8,205.0 C412.9,208.1 412.1,211.5 411.2,213.8 C410.4,216.0 410.2,217.5 408.8,218.8 C407.3,220.0 404.8,220.4 402.5,221.2 C400.2,222.1 397.9,222.9 395.0,223.8 C392.1,224.6 388.3,225.6 385.0,226.2 C381.7,226.9 377.9,227.1 375.0,227.5 C372.1,227.9 370.0,227.9 367.5,228.8 C365.0,229.6 361.2,231.9 360.0,232.5"/>
<path d="M408.8,218.8 C410.0,219.2 413.5,220.0 416.2,221.2 C419.0,222.5 422.4,224.5 425.0,226.2 C427.6,228.0 430.7,230.9 431.9,231.9"/>
<path d="M462.5,195.0 C461.2,196.2 456.7,200.6 455.0,202.5 C453.3,204.4 452.9,205.6 452.5,206.2"/>
<path d="M465.0,202.5 C466.2,203.8 470.8,207.1 472.5,210.0 C474.2,212.9 474.2,216.2 475.0,220.0 C475.8,223.8 476.7,228.3 477.5,232.5 C478.3,236.7 479.4,241.2 480.0,245.0 C480.6,248.8 481.0,253.3 481.2,255.0"/>
<path d="M480.0,207.5 C480.4,209.6 481.7,215.8 482.5,220.0 C483.3,224.2 484.4,228.8 485.0,232.5 C485.6,236.2 486.0,240.8 486.2,242.5"/>
<path d="M477.5,266.2 C477.7,267.9 478.3,273.1 478.8,276.2 C479.2,279.4 479.8,283.5 480.0,285.0"/>
<path d="M475.0,245.0 C475.4,246.7 476.9,251.7 477.5,255.0 C478.1,258.3 478.5,263.3 478.8,265.0"/>
<path d="M342.5,167.5 C345.0,168.4 353.1,170.8 357.5,173.0 C361.9,175.2 365.2,179.0 369.0,180.6 C372.8,182.2 378.2,182.2 380.0,182.5"/>
<path d="M230.0,252.0 C231.7,250.2 237.2,243.7 240.0,241.0 C242.8,238.3 245.8,236.8 247.0,236.0"/>
<path d="M362.5,231.2 C363.8,230.6 367.1,228.1 370.0,227.5 C372.9,226.9 378.3,227.5 380.0,227.5" stroke-width="0.98"/>
<path d="M225.0,277.5 C226.2,278.5 230.0,282.3 232.5,283.8 C235.0,285.2 237.3,285.6 240.0,286.2 C242.7,286.9 246.0,286.7 248.8,287.5 C251.5,288.3 254.0,290.4 256.2,291.2 C258.5,292.1 260.2,292.1 262.5,292.5 C264.8,292.9 268.8,293.5 270.0,293.8" stroke-width="0.98"/>
<path d="M240.0,267.5 C240.8,269.2 243.3,274.8 245.0,277.5 C246.7,280.2 248.3,282.1 250.0,283.8 C251.7,285.4 254.2,286.9 255.0,287.5" stroke-width="0.98"/>
<path d="M232.5,263.8 C234.0,264.2 238.8,266.0 241.2,266.2 C243.8,266.5 245.0,265.6 247.5,265.0 C250.0,264.4 253.8,263.1 256.2,262.5 C258.8,261.9 260.4,261.9 262.5,261.2 C264.6,260.6 267.7,259.2 268.8,258.8" stroke-width="0.98"/>
<path d="M235.0,296.2 C236.5,297.3 240.8,300.8 243.8,302.5 C246.7,304.2 249.4,305.2 252.5,306.2 C255.6,307.3 259.2,308.1 262.5,308.8 C265.8,309.4 269.2,310.0 272.5,310.0 C275.8,310.0 278.8,309.4 282.5,308.8 C286.2,308.1 291.2,306.9 295.0,306.2 C298.8,305.6 303.3,305.2 305.0,305.0" stroke-width="0.98"/>
<path d="M341.2,280.0 C342.7,279.4 346.9,277.9 350.0,276.2 C353.1,274.6 356.7,271.5 360.0,270.0 C363.3,268.5 366.7,268.1 370.0,267.5 C373.3,266.9 378.3,266.5 380.0,266.2" stroke-width="0.98"/>
<path d="M360.0,261.2 C361.7,261.7 366.7,263.5 370.0,263.8 C373.3,264.0 378.3,262.7 380.0,262.5" stroke-width="0.98"/>
<path d="M154.8,249.1 C156.3,250.3 160.5,254.0 163.3,256.1 C166.1,258.2 168.7,260.1 171.7,261.8 C174.8,263.4 178.1,264.8 181.6,266.0 C185.1,267.1 189.1,268.1 192.8,268.8 C196.6,269.5 200.3,270.0 204.1,270.2 C207.8,270.4 213.4,270.2 215.3,270.2" stroke-width="0.98"/>
<path d="M360.0,232.5 C360.8,233.5 362.9,236.7 365.0,238.8 C367.1,240.8 370.4,243.1 372.5,245.0 C374.6,246.9 375.8,248.3 377.5,250.0 C379.2,251.7 381.7,254.2 382.5,255.0" stroke-width="0.98"/>
<path d="M435.0,195.0 C434.8,197.1 434.2,203.3 433.8,207.5 C433.3,211.7 432.3,215.8 432.5,220.0 C432.7,224.2 434.2,228.8 435.0,232.5 C435.8,236.2 437.3,239.8 437.5,242.5 C437.7,245.2 437.1,246.7 436.2,248.8 C435.4,250.8 433.1,254.0 432.5,255.0" stroke-width="0.98"/>
<path d="M455.0,207.5 C456.0,208.8 459.4,212.1 461.2,215.0 C463.1,217.9 465.0,221.7 466.2,225.0 C467.5,228.3 468.1,231.7 468.8,235.0 C469.4,238.3 470.0,241.7 470.0,245.0 C470.0,248.3 469.0,253.3 468.8,255.0" stroke-width="0.98"/>
<path d="M452.5,225.0 C452.7,226.0 453.5,230.2 453.8,231.2" stroke-width="0.98"/>
<path d="M437.5,247.5 C439.6,247.7 445.8,248.8 450.0,248.8 C454.2,248.8 458.8,247.3 462.5,247.5 C466.2,247.7 470.8,249.6 472.5,250.0" stroke-width="0.98"/>
<path d="M378.8,248.8 C379.8,249.4 382.3,251.0 385.0,252.5 C387.7,254.0 391.9,256.0 395.0,257.5 C398.1,259.0 400.8,260.4 403.8,261.2 C406.7,262.1 409.8,262.5 412.5,262.5 C415.2,262.5 417.1,262.5 420.0,261.2 C422.9,260.0 427.1,257.1 430.0,255.0 C432.9,252.9 436.2,249.8 437.5,248.8" stroke-width="0.98"/>
<path d="M412.5,262.5 C412.3,263.8 411.2,267.1 411.2,270.0 C411.2,272.9 411.9,277.3 412.5,280.0 C413.1,282.7 414.4,284.4 415.0,286.2 C415.6,288.1 416.2,289.4 416.2,291.2 C416.2,293.1 415.2,296.5 415.0,297.5" stroke-width="0.98"/>
<path d="M382.5,282.5 C384.0,282.7 388.1,283.8 391.2,283.8 C394.4,283.8 397.9,283.1 401.2,282.5 C404.6,281.9 409.6,280.4 411.2,280.0" stroke-width="0.98"/>
<path d="M381.2,283.8 C381.5,284.8 381.9,288.1 382.5,290.0 C383.1,291.9 384.6,294.2 385.0,295.0" stroke-width="0.98"/>
<path d="M430.0,272.5 C430.4,273.3 431.2,275.8 432.5,277.5 C433.8,279.2 436.2,281.0 437.5,282.5 C438.8,284.0 439.6,285.6 440.0,286.2" stroke-width="0.98"/>
<path d="M437.5,245.0 C436.7,245.8 434.6,248.8 432.5,250.0 C430.4,251.2 426.2,252.1 425.0,252.5" stroke-width="0.98"/>
<path d="M432.5,273.8 C433.3,273.1 434.6,271.2 437.5,270.0 C440.4,268.8 445.8,267.1 450.0,266.2 C454.2,265.4 458.8,265.4 462.5,265.0 C466.2,264.6 470.0,264.6 472.5,263.8 C475.0,262.9 475.8,261.5 477.5,260.0 C479.2,258.5 480.8,256.9 482.5,255.0 C484.2,253.1 486.7,249.8 487.5,248.8" stroke-width="0.98"/>
<path d="M432.5,273.8 C432.9,275.2 433.8,280.0 435.0,282.5 C436.2,285.0 438.1,286.9 440.0,288.8 C441.9,290.6 443.5,292.5 446.2,293.8 C449.0,295.0 452.5,296.0 456.2,296.2 C460.0,296.5 465.2,295.8 468.8,295.0 C472.3,294.2 475.4,292.7 477.5,291.2 C479.6,289.8 480.6,287.1 481.2,286.2" stroke-width="0.98"/>
<path d="M462.5,268.8 C463.3,269.2 466.2,270.4 467.5,271.2 C468.8,272.1 469.6,273.3 470.0,273.8" stroke-width="0.98"/>
<path d="M425.0,292.5 C427.1,292.7 434.0,293.5 437.5,293.8 C441.0,294.0 444.8,293.8 446.2,293.8" stroke-width="0.98"/>
</g>
</g></g>
<g fill="none" stroke="#6e4018" stroke-width="1.2" stroke-linecap="round" filter="url(#bl03)">
<path d="M241.5,98.5 C241.4,99.3 241.4,101.5 240.6,103.1 C239.9,104.7 238.3,106.7 236.9,108.1 C235.4,109.5 233.8,110.4 231.9,111.5 C230.0,112.6 227.9,113.9 225.6,115.0 C223.3,116.1 220.6,117.1 218.1,118.1 C215.6,119.1 213.0,119.9 210.6,120.9 C208.2,121.9 205.8,122.9 203.8,124.0 C201.7,125.1 199.7,126.1 198.1,127.5 C196.6,128.9 195.1,130.7 194.4,132.5 C193.6,134.3 193.2,136.5 193.5,138.1 C193.8,139.8 195.8,141.8 196.2,142.5"/>
<path d="M196.2,142.5 C197.2,142.8 199.9,144.0 201.9,144.0 C203.9,144.0 205.5,143.3 208.1,142.2 C210.7,141.2 214.3,139.2 217.5,137.5 C220.7,135.8 224.7,133.6 227.5,131.9 C230.3,130.1 232.4,128.5 234.4,126.9 C236.4,125.2 237.9,123.9 239.4,121.9 C240.8,119.9 242.1,117.2 243.1,115.0 C244.2,112.8 244.4,110.6 245.6,108.8 C246.9,106.9 248.2,104.9 250.6,103.8 C253.0,102.6 258.4,102.2 260.0,101.9"/>
<path d="M210.6,148.8 C211.0,148.0 211.4,145.4 213.1,144.0 C214.9,142.6 218.0,141.4 221.2,140.6 C224.5,139.9 229.4,139.3 232.5,139.4 C235.6,139.5 237.5,141.1 240.0,141.2 C242.5,141.4 245.5,141.4 247.5,140.0 C249.5,138.6 251.0,135.5 252.2,133.1 C253.5,130.7 253.7,127.5 255.0,125.6 C256.3,123.8 259.2,122.5 260.0,121.9"/>
<path d="M246.2,140.0 C246.9,141.0 248.8,144.2 250.0,146.2 C251.2,148.3 252.5,150.4 253.8,152.5 C255.0,154.6 256.2,157.3 257.5,158.8 C258.8,160.2 259.2,160.8 261.2,161.2 C263.3,161.7 267.3,161.5 270.0,161.2 C272.7,161.0 275.6,161.5 277.5,160.0 C279.4,158.5 280.2,155.0 281.2,152.5 C282.3,150.0 283.1,147.1 283.8,145.0 C284.4,142.9 284.8,140.8 285.0,140.0"/>
<path d="M278.8,162.5 C278.3,164.2 277.3,169.4 276.2,172.5 C275.2,175.6 273.5,178.3 272.5,181.2 C271.5,184.2 270.6,186.9 270.0,190.0 C269.4,193.1 269.0,198.3 268.8,200.0"/>
<path d="M240.0,165.0 C239.2,166.2 236.5,169.8 235.0,172.5 C233.5,175.2 232.3,178.3 231.2,181.2 C230.2,184.2 229.4,186.9 228.8,190.0 C228.1,193.1 227.7,198.3 227.5,200.0"/>
<path d="M252.5,165.0 C252.7,166.7 253.5,171.7 253.8,175.0 C254.0,178.3 254.0,181.7 253.8,185.0 C253.5,188.3 252.9,192.5 252.5,195.0 C252.1,197.5 251.5,199.2 251.2,200.0"/>
<path d="M330.0,83.0 C330.4,83.8 332.2,85.7 332.5,88.0 C332.8,90.3 332.5,94.0 331.9,96.8 C331.2,99.5 330.1,102.0 328.8,104.2 C327.4,106.5 325.4,108.6 323.8,110.5 C322.1,112.4 320.2,113.4 318.8,115.5 C317.3,117.6 315.8,120.5 315.0,123.0 C314.2,125.5 314.2,128.0 313.8,130.5 C313.3,133.0 312.7,136.8 312.5,138.0"/>
<path d="M300.0,95.5 C301.2,95.0 304.8,93.4 307.5,92.4 C310.2,91.4 313.3,90.4 316.2,89.5 C319.2,88.6 322.7,87.5 325.0,86.8 C327.3,86.0 329.2,85.2 330.0,84.9"/>
<path d="M333.8,91.8 C335.0,91.5 338.5,90.7 341.2,90.5 C344.0,90.3 347.5,90.1 350.0,90.5 C352.5,90.9 355.2,92.6 356.2,93.0"/>
<path d="M353.8,94.2 C354.2,95.7 355.2,100.9 356.2,103.0 C357.3,105.1 358.1,105.3 360.0,106.8 C361.9,108.2 365.8,109.9 367.5,111.8 C369.2,113.6 369.8,116.1 370.0,118.0 C370.2,119.9 369.2,122.4 369.0,123.2"/>
<path d="M355.0,103.0 C356.2,103.2 359.6,104.2 362.5,104.2 C365.4,104.2 369.6,103.4 372.5,103.0 C375.4,102.6 378.8,102.0 380.0,101.8"/>
<path d="M372.5,88.0 C372.1,88.6 371.2,90.7 370.0,91.8 C368.8,92.8 365.8,93.8 365.0,94.2"/>
<path d="M368.8,124.2 C369.8,124.5 373.1,125.5 375.0,125.5 C376.9,125.5 379.2,124.5 380.0,124.2"/>
<path d="M300.0,211.2 C298.3,211.5 293.3,211.7 290.0,212.5 C286.7,213.3 283.3,215.0 280.0,216.2 C276.7,217.5 273.1,218.8 270.0,220.0 C266.9,221.2 263.8,222.3 261.2,223.8 C258.8,225.2 257.3,227.1 255.0,228.8 C252.7,230.4 249.8,232.1 247.5,233.8 C245.2,235.4 243.3,236.9 241.2,238.8 C239.2,240.6 236.7,243.1 235.0,245.0 C233.3,246.9 232.3,248.3 231.2,250.0 C230.2,251.7 229.2,254.2 228.8,255.0"/>
<path d="M300.0,232.5 C298.3,233.1 293.5,235.0 290.0,236.2 C286.5,237.5 282.1,238.5 278.8,240.0 C275.4,241.5 272.5,243.3 270.0,245.0 C267.5,246.7 265.2,248.3 263.8,250.0 C262.3,251.7 261.7,254.2 261.2,255.0"/>
<path d="M280.0,195.0 C280.4,196.0 281.2,199.2 282.5,201.2 C283.8,203.3 286.2,205.8 287.5,207.5 C288.8,209.2 289.6,210.6 290.0,211.2"/>
<path d="M230.0,236.2 C230.4,237.3 231.9,240.6 232.5,242.5 C233.1,244.4 233.8,245.4 233.8,247.5 C233.8,249.6 232.7,253.8 232.5,255.0"/>
<path d="M300.0,210.0 C302.1,209.8 308.8,209.4 312.5,208.8 C316.2,208.1 319.2,207.3 322.5,206.2 C325.8,205.2 329.4,203.6 332.5,202.5 C335.6,201.4 337.9,200.2 341.2,199.4 C344.6,198.5 349.0,197.9 352.5,197.5 C356.0,197.1 359.6,197.3 362.5,196.9 C365.4,196.5 367.1,195.7 370.0,195.0 C372.9,194.3 378.3,192.9 380.0,192.5"/>
<path d="M335.0,190.0 C335.0,190.8 335.6,193.3 335.0,195.0 C334.4,196.7 331.9,199.2 331.2,200.0"/>
<path d="M355.0,200.0 C354.6,201.2 353.5,205.2 352.5,207.5 C351.5,209.8 349.8,211.9 348.8,213.8 C347.7,215.6 347.3,217.1 346.2,218.8 C345.2,220.4 344.0,222.3 342.5,223.8 C341.0,225.2 339.0,226.7 337.5,227.5 C336.0,228.3 334.4,228.5 333.8,228.8"/>
<path d="M333.8,208.8 C333.5,209.8 332.9,212.9 332.5,215.0 C332.1,217.1 331.2,219.2 331.2,221.2 C331.2,223.3 331.7,226.0 332.5,227.5 C333.3,229.0 335.6,229.6 336.2,230.0"/>
<path d="M300.0,231.2 C301.7,231.5 306.7,232.1 310.0,232.5 C313.3,232.9 317.1,233.8 320.0,233.8 C322.9,233.8 325.4,233.1 327.5,232.5 C329.6,231.9 331.7,230.4 332.5,230.0"/>
<path d="M300.0,200.0 C300.6,199.0 302.9,195.4 303.8,193.8 C304.6,192.1 304.8,190.6 305.0,190.0"/>
<path d="M241.2,103.8 C242.3,103.4 244.6,102.3 247.5,101.9 C250.4,101.5 254.8,101.2 258.8,101.2 C262.7,101.2 267.5,101.8 271.2,101.9 C275.0,102.0 277.9,102.0 281.2,101.9 C284.6,101.8 289.6,101.4 291.2,101.2"/>
<path d="M265.0,91.9 C266.0,92.0 269.0,92.2 271.2,92.5 C273.5,92.8 277.1,93.5 278.8,93.8 C280.4,94.0 280.8,93.8 281.2,93.8"/>
<path d="M290.0,83.8 C290.4,85.2 292.1,89.6 292.5,92.5 C292.9,95.4 292.1,99.2 292.5,101.2 C292.9,103.3 294.4,103.1 295.0,105.0 C295.6,106.9 296.2,109.8 296.2,112.5 C296.2,115.2 295.6,118.5 295.0,121.2 C294.4,124.0 293.3,126.7 292.5,128.8 C291.7,130.8 290.8,131.9 290.0,133.8 C289.2,135.6 287.9,139.0 287.5,140.0"/>
<path d="M320.0,90.0 C318.3,90.6 312.9,92.5 310.0,93.8 C307.1,95.0 304.8,95.8 302.5,97.5 C300.2,99.2 297.3,102.7 296.2,103.8"/>
<path d="M256.2,118.8 C257.3,119.2 260.4,120.5 262.5,121.2 C264.6,122.0 267.1,123.1 268.8,123.1 C270.4,123.1 271.9,121.6 272.5,121.2"/>
<path d="M268.8,123.1 C268.3,124.3 266.9,127.8 266.2,130.0 C265.6,132.2 265.2,135.2 265.0,136.2"/>
<path d="M240.0,121.2 C240.8,122.3 243.5,125.4 245.0,127.5 C246.5,129.6 247.9,131.7 248.8,133.8 C249.6,135.8 249.8,139.0 250.0,140.0"/>
<path d="M375.0,97.5 C376.2,98.1 380.2,99.8 382.5,101.2 C384.8,102.7 387.1,104.4 388.8,106.2 C390.4,108.1 391.7,111.0 392.5,112.5 C393.3,114.0 392.5,114.6 393.8,115.0 C395.0,115.4 397.7,115.2 400.0,115.0 C402.3,114.8 404.8,114.1 407.5,113.8 C410.2,113.4 413.3,112.9 416.2,113.1 C419.2,113.3 422.7,114.1 425.0,115.0 C427.3,115.9 428.5,117.1 430.0,118.8 C431.5,120.4 432.7,122.3 433.8,125.0 C434.8,127.7 435.6,131.7 436.2,135.0 C436.9,138.3 437.3,143.3 437.5,145.0"/>
<path d="M375.0,122.5 C375.8,122.3 377.9,121.2 380.0,121.2 C382.1,121.2 385.2,121.7 387.5,122.5 C389.8,123.3 391.9,125.0 393.8,126.2 C395.6,127.5 397.3,128.5 398.8,130.0 C400.2,131.5 401.5,132.5 402.5,135.0 C403.5,137.5 404.6,143.3 405.0,145.0"/>
<path d="M412.5,127.5 C412.3,128.8 411.5,132.5 411.2,135.0 C411.0,137.5 411.0,140.8 411.2,142.5 C411.5,144.2 412.3,144.6 412.5,145.0"/>
<path d="M440.0,126.2 C440.4,127.7 441.7,131.9 442.5,135.0 C443.3,138.1 444.6,143.3 445.0,145.0"/>
<path d="M425.0,183.8 C424.0,184.8 420.8,188.3 418.8,190.0 C416.7,191.7 414.6,192.9 412.5,193.8 C410.4,194.6 407.3,194.8 406.2,195.0"/>
<path d="M178.3,141.6 C178.5,142.7 179.4,145.6 179.4,148.1 C179.4,150.7 178.7,154.3 178.3,156.9 C177.9,159.4 177.6,161.3 177.2,163.4 C176.8,165.6 176.5,167.5 176.1,170.0 C175.7,172.6 175.0,175.9 175.0,178.8 C175.0,181.6 175.9,185.6 176.1,187.0"/>
<path d="M193.6,135.0 C193.8,136.5 194.7,140.8 194.7,143.8 C194.7,146.7 194.0,150.0 193.6,152.5 C193.2,155.1 192.9,156.7 192.5,159.1 C192.2,161.4 192.0,164.5 191.4,166.7 C190.9,168.9 189.8,170.2 189.2,172.2 C188.7,174.2 188.1,176.3 188.1,178.8 C188.1,181.2 189.1,185.6 189.2,187.0"/>
<path d="M179.4,150.3 C180.7,150.6 184.7,152.0 187.0,152.0 C189.4,152.0 192.5,150.6 193.6,150.3"/>
<path d="M192.5,166.7 C194.0,166.7 198.4,166.7 201.3,166.7 C204.2,166.7 208.6,166.7 210.0,166.7"/>
<path d="M176.1,171.1 C177.4,171.3 181.4,172.2 183.8,172.2 C186.1,172.2 189.2,171.3 190.3,171.1"/>
<path d="M166.3,167.8 C167.2,168.0 170.1,168.6 171.7,168.9 C173.4,169.3 175.4,169.8 176.1,170.0"/>
<path d="M156.4,159.1 C158.1,158.9 164.3,159.3 166.3,158.0 C168.3,156.7 168.1,152.5 168.4,151.4"/>
<path d="M158.6,176.6 C159.9,176.2 164.8,175.8 166.3,174.4 C167.7,172.9 167.2,168.9 167.4,167.8"/>
<path d="M154.2,185.0 C154.0,186.1 153.9,189.4 153.1,191.6 C152.4,193.8 150.9,196.1 149.8,198.1 C148.8,200.1 147.5,202.1 146.6,203.6 C145.7,205.1 144.7,206.3 144.4,206.9"/>
<path d="M144.4,206.9 C145.1,207.8 147.3,210.2 148.8,212.4 C150.2,214.5 151.9,217.6 153.1,220.0 C154.4,222.4 155.0,224.8 156.4,226.6 C157.9,228.4 159.9,229.9 161.9,231.0 C163.9,232.0 167.4,232.8 168.4,233.1"/>
<path d="M167.4,185.0 C167.5,186.1 168.4,189.4 168.4,191.6 C168.4,193.8 167.7,196.1 167.4,198.1 C167.0,200.1 167.2,202.1 166.3,203.6 C165.3,205.1 163.0,205.8 161.9,206.9 C160.8,208.0 160.1,209.6 159.7,210.2"/>
<path d="M176.1,185.0 C176.3,186.1 177.2,189.7 177.2,191.6 C177.2,193.4 176.7,194.1 176.1,195.9 C175.6,197.8 174.3,201.4 173.9,202.5"/>
<path d="M159.7,210.2 C160.8,209.8 164.1,208.5 166.3,208.0 C168.4,207.4 170.6,207.2 172.8,206.9 C175.0,206.6 177.2,206.3 179.4,206.3 C181.6,206.3 184.1,206.2 186.0,206.9 C187.8,207.5 189.4,208.5 190.3,210.2 C191.2,211.8 191.4,214.7 191.4,216.7 C191.4,218.7 191.2,220.7 190.3,222.2 C189.4,223.7 188.0,224.8 186.0,225.5 C183.9,226.2 180.5,226.6 178.3,226.6 C176.1,226.6 174.8,225.8 172.8,225.5 C170.8,225.1 168.3,224.9 166.3,224.4 C164.3,223.8 162.1,223.5 160.8,222.2 C159.5,220.9 158.8,218.7 158.6,216.7 C158.4,214.7 159.5,211.3 159.7,210.2"/>
<path d="M190.3,210.2 C191.4,209.6 194.7,208.3 196.9,206.9 C199.1,205.4 201.6,203.2 203.5,201.4 C205.3,199.6 206.7,197.0 207.8,195.9 C208.9,194.8 209.7,195.0 210.0,194.8"/>
<path d="M179.4,185.0 C180.1,186.1 181.6,189.4 183.8,191.6 C186.0,193.8 189.6,196.9 192.5,198.1 C195.4,199.4 199.1,199.6 201.3,199.2 C203.5,198.9 204.9,196.5 205.6,195.9"/>
<path d="M191.4,217.8 C192.5,218.4 195.6,220.0 198.0,221.1 C200.4,222.2 203.6,223.7 205.6,224.4 C207.7,225.1 209.3,225.3 210.0,225.5"/>
<path d="M186.0,225.5 C186.1,226.4 187.0,229.0 187.0,231.0 C187.0,232.9 186.1,236.0 186.0,237.0"/>
<path d="M209.4,143.8 C209.7,145.0 210.5,149.2 211.6,151.4 C212.7,153.6 214.1,155.1 215.9,156.9 C217.8,158.7 220.7,161.3 222.5,162.4 C224.3,163.4 225.1,163.4 226.9,163.4 C228.7,163.4 231.1,162.4 233.4,162.4 C235.8,162.4 238.6,163.6 241.1,163.4 C243.7,163.3 246.2,162.0 248.8,161.3 C251.3,160.5 255.1,159.4 256.4,159.1"/>
<path d="M222.5,162.4 C222.5,163.6 222.7,167.3 222.5,170.0 C222.3,172.7 221.8,175.9 221.4,178.8 C221.0,181.6 220.5,185.6 220.3,187.0"/>
<path d="M237.8,167.8 C237.5,169.3 236.2,173.4 235.6,176.6 C235.1,179.8 234.7,185.2 234.5,187.0"/>
<path d="M231.3,185.0 C230.9,186.5 229.6,191.0 229.1,193.8 C228.5,196.5 228.0,198.7 228.0,201.4 C228.0,204.1 228.5,207.4 229.1,210.2 C229.6,212.9 230.3,215.5 231.3,217.8 C232.2,220.2 234.0,223.3 234.5,224.4"/>
<path d="M253.1,185.0 C253.0,186.5 252.2,190.8 252.0,193.8 C251.9,196.7 251.9,199.6 252.0,202.5 C252.2,205.4 252.6,208.7 253.1,211.3 C253.7,213.8 254.4,216.0 255.3,217.8 C256.2,219.6 257.9,221.1 258.6,222.2 C259.3,223.3 259.5,224.0 259.7,224.4"/>
<path d="M270.6,185.0 C270.5,186.8 269.9,192.3 269.6,195.9 C269.2,199.6 268.5,204.0 268.5,206.9 C268.5,209.8 269.4,212.4 269.6,213.4"/>
<path d="M205.0,199.2 C205.9,199.4 208.6,200.0 210.5,200.3 C212.3,200.7 213.9,200.9 215.9,201.4 C217.9,202.0 220.7,202.9 222.5,203.6 C224.3,204.3 225.8,204.7 226.9,205.8 C228.0,206.9 228.7,209.4 229.1,210.2"/>
<path d="M205.0,211.3 C206.1,211.6 209.4,212.4 211.6,213.4 C213.8,214.5 215.9,216.5 218.1,217.8 C220.3,219.1 222.5,220.0 224.7,221.1 C226.9,222.2 229.1,223.5 231.3,224.4 C233.4,225.3 235.6,225.7 237.8,226.6 C240.0,227.5 242.6,228.9 244.4,229.6 C246.2,230.3 248.0,230.6 248.8,230.7"/>
<path d="M205.0,221.1 C205.7,222.0 207.9,224.9 209.4,226.6 C210.8,228.2 212.7,229.2 213.8,231.0 C214.8,232.7 215.6,236.0 215.9,237.0"/>
<path d="M149.2,236.4 C150.4,237.4 153.7,240.0 156.3,242.1 C158.8,244.2 161.9,247.0 164.7,249.1 C167.5,251.2 170.3,253.1 173.1,254.7 C175.9,256.4 178.3,257.8 181.6,258.9 C184.8,260.1 189.1,261.1 192.8,261.8 C196.6,262.5 200.3,262.9 204.1,263.2 C207.8,263.4 212.0,263.6 215.3,263.2 C218.6,262.7 222.4,260.8 223.8,260.3"/>
<path d="M159.1,233.6 C160.2,234.6 163.8,237.6 166.1,239.3 C168.4,240.9 170.8,242.3 173.1,243.5 C175.5,244.6 177.6,245.3 180.2,246.3 C182.7,247.2 185.6,248.2 188.6,249.1 C191.6,250.0 195.2,251.2 198.4,251.9 C201.7,252.6 205.0,253.3 208.3,253.3 C211.6,253.3 215.1,252.6 218.1,251.9 C221.2,251.2 225.2,249.6 226.6,249.1"/>
<path d="M184.4,228.0 C184.6,229.4 184.8,233.9 185.8,236.4 C186.7,239.0 188.1,241.6 190.0,243.5 C191.9,245.3 194.5,246.8 197.0,247.7 C199.6,248.6 202.7,249.1 205.5,249.1 C208.3,249.1 211.1,248.4 213.9,247.7 C216.7,247.0 219.8,246.0 222.4,244.9 C224.9,243.7 228.2,241.4 229.4,240.7"/>
<path d="M198.4,228.0 C198.9,228.9 199.6,232.0 201.3,233.6 C202.9,235.3 205.5,236.9 208.3,237.8 C211.1,238.8 215.1,239.5 218.1,239.3 C221.2,239.0 224.2,237.6 226.6,236.4 C228.9,235.3 231.3,232.9 232.2,232.2"/>
<path d="M316.3,120.0 C316.0,121.6 314.7,126.3 314.8,129.4 C314.8,132.5 315.7,135.9 316.6,138.8 C317.6,141.6 319.6,144.3 320.4,146.3 C321.2,148.2 321.3,149.7 321.5,150.4"/>
<path d="M290.0,163.1 C291.9,162.8 297.8,162.2 301.3,161.3 C304.7,160.3 307.3,159.3 310.6,157.5 C314.0,155.7 319.7,151.6 321.5,150.4"/>
<path d="M305.0,163.1 C304.7,164.7 303.4,169.1 303.1,172.5 C302.8,175.9 302.8,180.0 303.1,183.8 C303.4,187.5 304.4,190.6 305.0,195.0 C305.6,199.4 306.6,207.5 306.9,210.0"/>
<path d="M345.3,135.9 C345.6,137.0 346.9,139.8 347.2,142.5 C347.5,145.2 347.6,148.9 347.2,151.9 C346.8,154.8 345.8,157.6 344.8,160.3 C343.7,163.1 342.6,166.5 340.6,168.4 C338.7,170.2 335.9,170.6 333.1,171.4 C330.3,172.1 326.3,172.3 323.8,172.9 C321.3,173.4 319.1,174.4 318.1,174.8"/>
<path d="M368.8,120.0 C368.6,120.7 369.1,122.8 367.8,124.1 C366.6,125.4 363.9,126.4 361.3,127.9 C358.6,129.3 354.5,131.4 351.9,132.8 C349.2,134.1 346.4,135.4 345.3,135.9"/>
<path d="M370.6,142.5 C371.0,144.1 372.0,148.8 372.9,151.9 C373.8,155.0 375.4,158.1 375.9,161.3 C376.4,164.4 376.4,167.5 375.9,170.6 C375.3,173.8 373.7,176.9 372.5,180.0 C371.3,183.1 370.5,186.4 368.8,189.0 C367.0,191.6 364.7,193.8 362.2,195.4 C359.7,196.9 356.7,197.8 353.8,198.4 C350.8,198.9 347.5,198.9 344.4,198.8 C341.3,198.6 337.8,197.8 335.0,197.3 C332.2,196.7 328.8,195.7 327.5,195.4"/>
<path d="M340.6,168.4 C342.5,169.4 349.1,172.7 351.9,174.4 C354.7,176.1 356.0,177.2 357.5,178.5 C359.0,179.8 360.3,181.6 360.9,182.3"/>
<path d="M395.0,120.0 C395.6,121.9 398.3,126.9 398.4,131.3 C398.4,135.6 396.6,141.9 395.4,146.3 C394.2,150.6 393.2,154.4 391.3,157.5 C389.3,160.6 385.9,163.1 383.8,165.0 C381.6,166.9 379.1,168.4 378.1,169.1"/>
<path d="M391.3,157.5 C393.1,156.6 399.4,153.4 402.5,151.9 C405.6,150.3 408.8,148.8 410.0,148.1"/>
<path d="M379.6,167.3 C380.9,167.6 384.9,167.6 387.5,169.1 C390.1,170.6 392.5,174.1 395.0,176.3 C397.5,178.4 400.0,180.6 402.5,181.9 C405.0,183.1 408.8,183.4 410.0,183.8"/>
<path d="M368.8,191.3 C370.3,191.9 375.0,193.8 378.1,195.0 C381.3,196.3 384.1,197.5 387.5,198.8 C390.9,200.0 395.0,201.6 398.8,202.5 C402.5,203.4 408.1,204.1 410.0,204.4"/>
<path d="M290.0,135.0 C291.3,134.7 294.4,133.7 297.5,133.1 C300.6,132.6 305.9,132.3 308.8,131.6 C311.6,131.0 313.8,129.8 314.8,129.4"/>
<path d="M335.0,197.3 C335.0,198.1 334.7,200.4 335.0,202.5 C335.3,204.6 336.6,208.8 336.9,210.0"/>
<path d="M355.6,198.8 C355.3,200.0 354.4,204.4 353.8,206.3 C353.1,208.1 352.2,209.4 351.9,210.0"/>
<path d="M303.1,183.8 C301.9,184.4 297.8,186.6 295.6,187.5 C293.4,188.4 290.9,189.1 290.0,189.4"/>
<path d="M435.0,140.0 C434.8,141.7 434.2,146.7 433.8,150.0 C433.3,153.3 433.1,156.5 432.5,160.0 C431.9,163.5 430.8,167.7 430.0,171.2 C429.2,174.8 428.1,178.1 427.5,181.2 C426.9,184.4 426.7,186.9 426.2,190.0 C425.8,193.1 425.2,198.3 425.0,200.0"/>
<path d="M450.0,140.0 C450.0,141.7 449.8,146.7 450.0,150.0 C450.2,153.3 451.2,156.7 451.2,160.0 C451.2,163.3 450.6,167.3 450.0,170.0 C449.4,172.7 448.8,174.2 447.5,176.2 C446.2,178.3 444.2,180.2 442.5,182.5 C440.8,184.8 439.2,187.1 437.5,190.0 C435.8,192.9 433.3,198.3 432.5,200.0"/>
<path d="M457.5,147.5 C457.9,149.0 459.2,153.3 460.0,156.2 C460.8,159.2 462.1,162.3 462.5,165.0 C462.9,167.7 462.5,171.2 462.5,172.5"/>
<path d="M447.5,176.2 C449.0,175.8 453.3,174.4 456.2,173.8 C459.2,173.1 462.9,173.5 465.0,172.5 C467.1,171.5 468.1,168.3 468.8,167.5"/>
<path d="M465.0,172.5 C465.8,173.3 468.5,175.4 470.0,177.5 C471.5,179.6 472.7,182.5 473.8,185.0 C474.8,187.5 475.6,190.0 476.2,192.5 C476.9,195.0 477.3,198.8 477.5,200.0"/>
<path d="M437.5,140.0 C438.5,140.6 442.1,142.5 443.8,143.8 C445.4,145.0 446.9,146.9 447.5,147.5"/>
<path d="M416.2,195.0 C415.8,196.7 414.6,201.9 413.8,205.0 C412.9,208.1 412.1,211.5 411.2,213.8 C410.4,216.0 410.2,217.5 408.8,218.8 C407.3,220.0 404.8,220.4 402.5,221.2 C400.2,222.1 397.9,222.9 395.0,223.8 C392.1,224.6 388.3,225.6 385.0,226.2 C381.7,226.9 377.9,227.1 375.0,227.5 C372.1,227.9 370.0,227.9 367.5,228.8 C365.0,229.6 361.2,231.9 360.0,232.5"/>
<path d="M408.8,218.8 C410.0,219.2 413.5,220.0 416.2,221.2 C419.0,222.5 422.4,224.5 425.0,226.2 C427.6,228.0 430.7,230.9 431.9,231.9"/>
<path d="M462.5,195.0 C461.2,196.2 456.7,200.6 455.0,202.5 C453.3,204.4 452.9,205.6 452.5,206.2"/>
<path d="M465.0,202.5 C466.2,203.8 470.8,207.1 472.5,210.0 C474.2,212.9 474.2,216.2 475.0,220.0 C475.8,223.8 476.7,228.3 477.5,232.5 C478.3,236.7 479.4,241.2 480.0,245.0 C480.6,248.8 481.0,253.3 481.2,255.0"/>
<path d="M480.0,207.5 C480.4,209.6 481.7,215.8 482.5,220.0 C483.3,224.2 484.4,228.8 485.0,232.5 C485.6,236.2 486.0,240.8 486.2,242.5"/>
<path d="M477.5,266.2 C477.7,267.9 478.3,273.1 478.8,276.2 C479.2,279.4 479.8,283.5 480.0,285.0"/>
<path d="M475.0,245.0 C475.4,246.7 476.9,251.7 477.5,255.0 C478.1,258.3 478.5,263.3 478.8,265.0"/>
<path d="M342.5,167.5 C345.0,168.4 353.1,170.8 357.5,173.0 C361.9,175.2 365.2,179.0 369.0,180.6 C372.8,182.2 378.2,182.2 380.0,182.5"/>
<path d="M230.0,252.0 C231.7,250.2 237.2,243.7 240.0,241.0 C242.8,238.3 245.8,236.8 247.0,236.0"/>
</g>
<g fill="none" stroke="#80501f" stroke-width="1.0" stroke-linecap="round" opacity="0.8" filter="url(#bl03)">
<path d="M362.5,231.2 C363.8,230.6 367.1,228.1 370.0,227.5 C372.9,226.9 378.3,227.5 380.0,227.5"/>
<path d="M225.0,277.5 C226.2,278.5 230.0,282.3 232.5,283.8 C235.0,285.2 237.3,285.6 240.0,286.2 C242.7,286.9 246.0,286.7 248.8,287.5 C251.5,288.3 254.0,290.4 256.2,291.2 C258.5,292.1 260.2,292.1 262.5,292.5 C264.8,292.9 268.8,293.5 270.0,293.8"/>
<path d="M240.0,267.5 C240.8,269.2 243.3,274.8 245.0,277.5 C246.7,280.2 248.3,282.1 250.0,283.8 C251.7,285.4 254.2,286.9 255.0,287.5"/>
<path d="M232.5,263.8 C234.0,264.2 238.8,266.0 241.2,266.2 C243.8,266.5 245.0,265.6 247.5,265.0 C250.0,264.4 253.8,263.1 256.2,262.5 C258.8,261.9 260.4,261.9 262.5,261.2 C264.6,260.6 267.7,259.2 268.8,258.8"/>
<path d="M235.0,296.2 C236.5,297.3 240.8,300.8 243.8,302.5 C246.7,304.2 249.4,305.2 252.5,306.2 C255.6,307.3 259.2,308.1 262.5,308.8 C265.8,309.4 269.2,310.0 272.5,310.0 C275.8,310.0 278.8,309.4 282.5,308.8 C286.2,308.1 291.2,306.9 295.0,306.2 C298.8,305.6 303.3,305.2 305.0,305.0"/>
<path d="M341.2,280.0 C342.7,279.4 346.9,277.9 350.0,276.2 C353.1,274.6 356.7,271.5 360.0,270.0 C363.3,268.5 366.7,268.1 370.0,267.5 C373.3,266.9 378.3,266.5 380.0,266.2"/>
<path d="M360.0,261.2 C361.7,261.7 366.7,263.5 370.0,263.8 C373.3,264.0 378.3,262.7 380.0,262.5"/>
<path d="M154.8,249.1 C156.3,250.3 160.5,254.0 163.3,256.1 C166.1,258.2 168.7,260.1 171.7,261.8 C174.8,263.4 178.1,264.8 181.6,266.0 C185.1,267.1 189.1,268.1 192.8,268.8 C196.6,269.5 200.3,270.0 204.1,270.2 C207.8,270.4 213.4,270.2 215.3,270.2"/>
<path d="M360.0,232.5 C360.8,233.5 362.9,236.7 365.0,238.8 C367.1,240.8 370.4,243.1 372.5,245.0 C374.6,246.9 375.8,248.3 377.5,250.0 C379.2,251.7 381.7,254.2 382.5,255.0"/>
<path d="M435.0,195.0 C434.8,197.1 434.2,203.3 433.8,207.5 C433.3,211.7 432.3,215.8 432.5,220.0 C432.7,224.2 434.2,228.8 435.0,232.5 C435.8,236.2 437.3,239.8 437.5,242.5 C437.7,245.2 437.1,246.7 436.2,248.8 C435.4,250.8 433.1,254.0 432.5,255.0"/>
<path d="M455.0,207.5 C456.0,208.8 459.4,212.1 461.2,215.0 C463.1,217.9 465.0,221.7 466.2,225.0 C467.5,228.3 468.1,231.7 468.8,235.0 C469.4,238.3 470.0,241.7 470.0,245.0 C470.0,248.3 469.0,253.3 468.8,255.0"/>
<path d="M452.5,225.0 C452.7,226.0 453.5,230.2 453.8,231.2"/>
<path d="M437.5,247.5 C439.6,247.7 445.8,248.8 450.0,248.8 C454.2,248.8 458.8,247.3 462.5,247.5 C466.2,247.7 470.8,249.6 472.5,250.0"/>
<path d="M378.8,248.8 C379.8,249.4 382.3,251.0 385.0,252.5 C387.7,254.0 391.9,256.0 395.0,257.5 C398.1,259.0 400.8,260.4 403.8,261.2 C406.7,262.1 409.8,262.5 412.5,262.5 C415.2,262.5 417.1,262.5 420.0,261.2 C422.9,260.0 427.1,257.1 430.0,255.0 C432.9,252.9 436.2,249.8 437.5,248.8"/>
<path d="M412.5,262.5 C412.3,263.8 411.2,267.1 411.2,270.0 C411.2,272.9 411.9,277.3 412.5,280.0 C413.1,282.7 414.4,284.4 415.0,286.2 C415.6,288.1 416.2,289.4 416.2,291.2 C416.2,293.1 415.2,296.5 415.0,297.5"/>
<path d="M382.5,282.5 C384.0,282.7 388.1,283.8 391.2,283.8 C394.4,283.8 397.9,283.1 401.2,282.5 C404.6,281.9 409.6,280.4 411.2,280.0"/>
<path d="M381.2,283.8 C381.5,284.8 381.9,288.1 382.5,290.0 C383.1,291.9 384.6,294.2 385.0,295.0"/>
<path d="M430.0,272.5 C430.4,273.3 431.2,275.8 432.5,277.5 C433.8,279.2 436.2,281.0 437.5,282.5 C438.8,284.0 439.6,285.6 440.0,286.2"/>
<path d="M437.5,245.0 C436.7,245.8 434.6,248.8 432.5,250.0 C430.4,251.2 426.2,252.1 425.0,252.5"/>
<path d="M432.5,273.8 C433.3,273.1 434.6,271.2 437.5,270.0 C440.4,268.8 445.8,267.1 450.0,266.2 C454.2,265.4 458.8,265.4 462.5,265.0 C466.2,264.6 470.0,264.6 472.5,263.8 C475.0,262.9 475.8,261.5 477.5,260.0 C479.2,258.5 480.8,256.9 482.5,255.0 C484.2,253.1 486.7,249.8 487.5,248.8"/>
<path d="M432.5,273.8 C432.9,275.2 433.8,280.0 435.0,282.5 C436.2,285.0 438.1,286.9 440.0,288.8 C441.9,290.6 443.5,292.5 446.2,293.8 C449.0,295.0 452.5,296.0 456.2,296.2 C460.0,296.5 465.2,295.8 468.8,295.0 C472.3,294.2 475.4,292.7 477.5,291.2 C479.6,289.8 480.6,287.1 481.2,286.2"/>
<path d="M462.5,268.8 C463.3,269.2 466.2,270.4 467.5,271.2 C468.8,272.1 469.6,273.3 470.0,273.8"/>
<path d="M425.0,292.5 C427.1,292.7 434.0,293.5 437.5,293.8 C441.0,294.0 444.8,293.8 446.2,293.8"/>
</g>
<path d="M140.6,222.0 C140.1,217.9 140.3,214.7 140.6,211.0 C140.9,207.3 141.8,203.8 142.5,200.0 C143.2,196.2 144.2,191.8 145.0,188.0 C145.8,184.2 146.5,180.8 147.5,177.5 C148.5,174.2 149.7,170.6 151.0,168.0 C152.3,165.4 153.6,163.8 155.2,161.7 C156.8,159.6 158.7,157.5 160.4,155.4 C162.1,153.3 163.9,151.0 165.6,149.2 C167.3,147.4 169.2,145.6 170.8,144.5 C172.4,143.4 173.9,143.2 175.0,142.4 C176.1,141.7 177.0,141.0 177.6,140.0 C178.2,139.0 177.7,137.8 178.3,136.5 C178.9,135.2 179.6,134.2 181.2,132.5 C182.9,130.8 186.1,128.2 188.5,126.2 C190.9,124.3 193.9,122.5 195.8,121.0 C197.7,119.5 197.5,118.6 200.0,117.2 C202.5,115.8 208.4,113.9 211.0,112.5 C213.6,111.1 213.5,109.9 215.6,108.6 C217.7,107.2 221.1,105.7 223.8,104.4 C226.4,103.1 229.2,101.6 231.2,100.8 C233.3,100.0 234.3,99.9 236.0,99.4 C237.7,98.9 239.6,98.5 241.4,97.7 C243.2,96.9 243.4,95.7 246.9,94.5 C250.4,93.3 257.8,91.9 262.5,90.6 C267.2,89.3 270.8,87.9 275.0,86.7 C279.2,85.5 283.9,84.4 287.5,83.6 C291.1,82.8 291.5,82.3 296.9,82.0 C302.3,81.7 314.7,82.1 320.0,82.0 C325.3,81.9 325.1,81.7 328.7,81.2 C332.3,80.7 337.3,78.9 341.9,79.0 C346.5,79.1 351.5,80.7 356.4,82.0 C361.2,83.3 367.3,85.8 371.0,87.0 C374.7,88.2 376.3,88.5 378.8,89.2 C381.2,90.0 382.5,90.2 385.6,91.4 C388.7,92.7 393.6,94.9 397.5,96.8 C401.4,98.6 404.7,100.4 408.8,102.4 C412.8,104.4 417.6,106.5 422.0,109.0 C426.4,111.5 431.3,114.4 435.0,117.4 C438.7,120.4 441.0,123.0 444.4,126.8 C447.8,130.5 452.6,136.1 455.6,140.0 C458.6,143.9 460.6,146.8 462.5,150.0 C464.4,153.2 465.2,156.0 467.0,159.4 C468.8,162.8 471.3,166.1 473.4,170.3 C475.5,174.5 477.9,180.2 479.7,184.4 C481.5,188.6 483.0,191.4 484.4,195.3 C485.8,199.2 487.0,203.7 488.3,207.8 C489.6,211.9 491.1,216.3 492.0,220.0 C492.9,223.7 493.4,226.6 494.0,230.0 C494.6,233.4 495.3,236.7 495.5,240.5 C495.7,244.3 495.5,248.5 495.0,253.0 C494.5,257.5 493.8,263.0 492.5,267.5 C491.2,272.0 489.4,276.8 487.5,280.0 C485.6,283.2 483.3,284.4 481.2,286.5 C479.2,288.6 477.3,290.7 475.0,292.5 C472.7,294.3 470.6,296.1 467.5,297.5 C464.4,298.9 460.2,300.2 456.2,301.0 C452.3,301.8 449.0,302.5 443.8,302.5 C438.5,302.5 431.5,301.7 425.0,301.2 C418.5,300.8 410.8,300.2 405.0,300.0 C399.2,299.8 395.9,299.4 390.3,300.0 C384.7,300.6 378.4,302.6 371.6,303.8 C364.8,304.9 356.6,306.1 349.7,307.0 C342.8,307.9 336.6,308.6 330.0,309.2 C323.4,309.8 315.0,309.6 310.3,310.3 C305.6,311.0 304.2,312.7 301.6,313.6 C299.1,314.5 298.5,314.7 295.0,315.8 C291.5,316.9 285.8,319.9 280.6,320.0 C275.4,320.1 269.1,318.2 264.0,316.4 C258.9,314.6 254.3,312.1 250.0,309.4 C245.7,306.7 241.6,303.2 238.4,300.0 C235.2,296.8 233.6,292.9 231.0,290.0 C228.4,287.1 224.7,285.0 223.0,282.5 C221.3,280.0 221.0,277.2 221.0,275.0 C221.0,272.8 223.6,269.9 223.0,269.4 C222.4,268.9 220.9,271.4 217.5,272.2 C214.1,273.0 207.5,273.9 202.5,274.0 C197.5,274.1 191.9,273.8 187.5,273.0 C183.1,272.2 179.7,270.9 176.2,269.4 C172.8,267.9 170.0,265.9 166.9,263.8 C163.8,261.6 160.3,259.1 157.5,256.2 C154.7,253.4 152.3,250.3 150.0,246.9 C147.7,243.5 145.0,239.8 143.4,235.6 C141.8,231.4 141.1,226.1 140.6,222.0Z" fill="url(#tint)" style="mix-blend-mode:multiply"/>
<ellipse cx="285" cy="303" rx="60" ry="22" fill="url(#ttint)" style="mix-blend-mode:multiply"/>
<path d="M300,318 C330,312 360,308 390,304 C420,302 450,303 475,294" fill="none" stroke="#b06c2c" stroke-width="9" opacity="0.45" filter="url(#bl25)"/>
<g fill="#7a4818" opacity="0.8">
<circle cx="255.6" cy="114.7" r="0.9"/>
<circle cx="372.4" cy="95.6" r="0.9"/>
<circle cx="331.3" cy="166.9" r="0.9"/>
<circle cx="160.7" cy="201.3" r="0.9"/>
<circle cx="153.4" cy="183.4" r="0.9"/>
<circle cx="291.6" cy="278.9" r="0.9"/>
<circle cx="184.2" cy="132.2" r="0.9"/>
<circle cx="346.0" cy="174.4" r="0.9"/>
<circle cx="446.5" cy="148.4" r="0.9"/>
<circle cx="250.1" cy="276.3" r="0.9"/>
<circle cx="204.5" cy="219.3" r="0.9"/>
<circle cx="368.1" cy="168.5" r="0.9"/>
<circle cx="335.5" cy="93.3" r="0.9"/>
<circle cx="382.9" cy="181.9" r="0.9"/>
<circle cx="252.2" cy="220.3" r="0.9"/>
<circle cx="301.8" cy="150.8" r="0.9"/>
<circle cx="423.6" cy="247.9" r="0.9"/>
<circle cx="227.1" cy="217.6" r="0.9"/>
<circle cx="327.5" cy="290.7" r="0.9"/>
<circle cx="400.4" cy="148.0" r="0.9"/>
<circle cx="289.3" cy="262.0" r="0.9"/>
<circle cx="194.3" cy="196.8" r="0.9"/>
<circle cx="154.0" cy="240.4" r="0.9"/>
<circle cx="413.0" cy="217.2" r="0.9"/>
<circle cx="452.5" cy="154.2" r="0.9"/>
<circle cx="388.2" cy="222.4" r="0.9"/>
<circle cx="347.0" cy="188.9" r="0.9"/>
<circle cx="309.3" cy="239.4" r="0.9"/>
<circle cx="161.7" cy="248.5" r="0.9"/>
<circle cx="433.4" cy="147.2" r="0.9"/>
<circle cx="277.7" cy="240.5" r="0.9"/>
<circle cx="279.6" cy="289.8" r="0.9"/>
<circle cx="168.8" cy="187.2" r="0.9"/>
<circle cx="336.2" cy="292.7" r="0.9"/>
<circle cx="432.5" cy="287.9" r="0.9"/>
<circle cx="239.4" cy="178.9" r="0.9"/>
<circle cx="268.1" cy="292.9" r="0.9"/>
<circle cx="202.9" cy="134.4" r="0.9"/>
<circle cx="223.3" cy="195.8" r="0.9"/>
<circle cx="350.3" cy="141.8" r="0.9"/>
<circle cx="271.8" cy="215.6" r="0.9"/>
<circle cx="480.3" cy="245.8" r="0.9"/>
<circle cx="324.0" cy="228.1" r="0.9"/>
<circle cx="381.4" cy="91.1" r="0.9"/>
<circle cx="461.1" cy="267.5" r="0.9"/>
<circle cx="452.2" cy="271.9" r="0.9"/>
<circle cx="280.1" cy="175.0" r="0.9"/>
<circle cx="177.0" cy="232.1" r="0.9"/>
<circle cx="214.5" cy="117.4" r="0.9"/>
<circle cx="176.2" cy="166.4" r="0.9"/>
<circle cx="359.2" cy="114.1" r="0.9"/>
<circle cx="230.1" cy="162.4" r="0.9"/>
<circle cx="270.0" cy="107.9" r="0.9"/>
<circle cx="306.4" cy="195.6" r="0.9"/>
<circle cx="262.3" cy="142.3" r="0.9"/>
<circle cx="328.6" cy="113.6" r="0.9"/>
<circle cx="448.2" cy="247.2" r="0.9"/>
<circle cx="199.6" cy="265.6" r="0.9"/>
<circle cx="330.1" cy="267.3" r="0.9"/>
<circle cx="257.7" cy="132.2" r="0.9"/>
<circle cx="444.4" cy="273.9" r="0.9"/>
<circle cx="432.1" cy="257.8" r="0.9"/>
<circle cx="232.5" cy="246.3" r="0.9"/>
<circle cx="218.7" cy="133.1" r="0.9"/>
<circle cx="210.2" cy="127.7" r="0.9"/>
<circle cx="362.8" cy="296.8" r="0.9"/>
<circle cx="440.0" cy="194.5" r="0.9"/>
<circle cx="373.1" cy="272.3" r="0.9"/>
<circle cx="407.8" cy="194.2" r="0.9"/>
<circle cx="203.7" cy="269.8" r="0.9"/>
<circle cx="258.7" cy="272.6" r="0.9"/>
<circle cx="283.3" cy="308.1" r="0.9"/>
<circle cx="398.8" cy="119.3" r="0.9"/>
<circle cx="463.0" cy="274.0" r="0.9"/>
<circle cx="490.0" cy="237.7" r="0.9"/>
<circle cx="328.0" cy="304.9" r="0.9"/>
<circle cx="294.9" cy="289.8" r="0.9"/>
<circle cx="434.9" cy="129.3" r="0.9"/>
<circle cx="229.9" cy="149.2" r="0.9"/>
<circle cx="266.3" cy="189.3" r="0.9"/>
<circle cx="348.3" cy="297.7" r="0.9"/>
<circle cx="290.2" cy="301.0" r="0.9"/>
<circle cx="319.1" cy="207.2" r="0.9"/>
<circle cx="326.9" cy="82.5" r="0.9"/>
<circle cx="297.1" cy="122.5" r="0.9"/>
<circle cx="398.9" cy="213.2" r="0.9"/>
<circle cx="256.4" cy="204.0" r="0.9"/>
<circle cx="338.3" cy="268.6" r="0.9"/>
<circle cx="177.9" cy="214.2" r="0.9"/>
<circle cx="415.7" cy="201.4" r="0.9"/>
<circle cx="340.5" cy="262.7" r="0.9"/>
<circle cx="465.8" cy="185.7" r="0.9"/>
<circle cx="358.7" cy="200.8" r="0.9"/>
<circle cx="322.8" cy="246.3" r="0.9"/>
<circle cx="301.5" cy="207.6" r="0.9"/>
<circle cx="310.7" cy="306.8" r="0.9"/>
<circle cx="389.6" cy="291.0" r="0.9"/>
<circle cx="339.7" cy="307.2" r="0.9"/>
<circle cx="183.4" cy="185.4" r="0.9"/>
<circle cx="419.9" cy="296.0" r="0.9"/>
<circle cx="195.1" cy="252.0" r="0.9"/>
<circle cx="375.7" cy="112.7" r="0.9"/>
<circle cx="282.2" cy="196.4" r="0.9"/>
<circle cx="197.6" cy="182.9" r="0.9"/>
<circle cx="324.1" cy="160.4" r="0.9"/>
<circle cx="209.9" cy="155.4" r="0.9"/>
<circle cx="337.8" cy="185.0" r="0.9"/>
<circle cx="177.4" cy="142.5" r="0.9"/>
<circle cx="236.5" cy="109.5" r="0.9"/>
<circle cx="432.4" cy="140.8" r="0.9"/>
<circle cx="343.7" cy="248.2" r="0.9"/>
<circle cx="366.5" cy="272.8" r="0.9"/>
<circle cx="302.0" cy="160.4" r="0.9"/>
<circle cx="328.1" cy="135.9" r="0.9"/>
<circle cx="251.4" cy="152.1" r="0.9"/>
<circle cx="411.1" cy="148.5" r="0.9"/>
<circle cx="318.5" cy="121.2" r="0.9"/>
<circle cx="207.6" cy="193.4" r="0.9"/>
<circle cx="432.4" cy="183.0" r="0.9"/>
<circle cx="316.7" cy="280.8" r="0.9"/>
<circle cx="262.3" cy="280.2" r="0.9"/>
<circle cx="392.3" cy="232.5" r="0.9"/>
<circle cx="284.5" cy="162.5" r="0.9"/>
<circle cx="165.2" cy="258.0" r="0.9"/>
<circle cx="231.2" cy="117.7" r="0.9"/>
<circle cx="450.8" cy="240.9" r="0.9"/>
<circle cx="240.7" cy="136.9" r="0.9"/>
<circle cx="244.6" cy="189.6" r="0.9"/>
<circle cx="487.2" cy="210.9" r="0.9"/>
<circle cx="250.5" cy="164.6" r="0.9"/>
<circle cx="172.0" cy="175.1" r="0.9"/>
<circle cx="349.1" cy="206.6" r="0.9"/>
<circle cx="407.9" cy="237.8" r="0.9"/>
<circle cx="395.6" cy="291.6" r="0.9"/>
<circle cx="458.4" cy="230.4" r="0.9"/>
<circle cx="402.0" cy="275.4" r="0.9"/>
<circle cx="189.7" cy="205.3" r="0.9"/>
<circle cx="427.3" cy="278.8" r="0.9"/>
<circle cx="383.8" cy="246.5" r="0.9"/>
<circle cx="187.5" cy="165.7" r="0.9"/>
<circle cx="339.4" cy="230.5" r="0.9"/>
<circle cx="363.6" cy="243.4" r="0.9"/>
<circle cx="424.8" cy="259.8" r="0.9"/>
<circle cx="316.3" cy="171.0" r="0.9"/>
<circle cx="413.8" cy="227.9" r="0.9"/>
<circle cx="192.6" cy="139.7" r="0.9"/>
<circle cx="342.7" cy="81.0" r="0.9"/>
<circle cx="381.2" cy="148.7" r="0.9"/>
<circle cx="324.4" cy="190.9" r="0.9"/>
<circle cx="306.5" cy="106.8" r="0.9"/>
<circle cx="215.2" cy="219.3" r="0.9"/>
<circle cx="432.8" cy="201.6" r="0.9"/>
<circle cx="456.6" cy="248.9" r="0.9"/>
<circle cx="313.6" cy="84.0" r="0.9"/>
<circle cx="252.8" cy="282.2" r="0.9"/>
<circle cx="470.7" cy="251.3" r="0.9"/>
<circle cx="273.3" cy="310.3" r="0.9"/>
<circle cx="475.8" cy="211.5" r="0.9"/>
<circle cx="246.3" cy="257.6" r="0.9"/>
<circle cx="317.5" cy="131.5" r="0.9"/>
<circle cx="262.1" cy="100.1" r="0.9"/>
<circle cx="225.4" cy="140.8" r="0.9"/>
<circle cx="343.4" cy="293.6" r="0.9"/>
<circle cx="407.6" cy="178.3" r="0.9"/>
<circle cx="287.8" cy="205.4" r="0.9"/>
<circle cx="274.5" cy="160.2" r="0.9"/>
<circle cx="282.7" cy="186.3" r="0.9"/>
<circle cx="480.6" cy="284.2" r="0.9"/>
<circle cx="459.8" cy="193.0" r="0.9"/>
<circle cx="279.8" cy="303.2" r="0.9"/>
<circle cx="476.1" cy="253.4" r="0.9"/>
<circle cx="371.1" cy="263.8" r="0.9"/>
<circle cx="370.4" cy="151.8" r="0.9"/>
<circle cx="367.2" cy="247.8" r="0.9"/>
<circle cx="278.5" cy="132.3" r="0.9"/>
<circle cx="482.3" cy="234.6" r="0.9"/>
<circle cx="289.9" cy="140.5" r="0.9"/>
<circle cx="260.7" cy="180.2" r="0.9"/>
<circle cx="383.7" cy="126.1" r="0.9"/>
<circle cx="219.1" cy="262.8" r="0.9"/>
<circle cx="219.7" cy="179.3" r="0.9"/>
<circle cx="161.5" cy="173.6" r="0.9"/>
<circle cx="460.6" cy="292.7" r="0.9"/>
<circle cx="239.9" cy="163.4" r="0.9"/>
<circle cx="267.3" cy="277.6" r="0.9"/>
<circle cx="273.1" cy="301.4" r="0.9"/>
<circle cx="208.9" cy="166.5" r="0.9"/>
<circle cx="286.7" cy="275.3" r="0.9"/>
<circle cx="406.8" cy="296.3" r="0.9"/>
<circle cx="481.9" cy="227.9" r="0.9"/>
<circle cx="467.2" cy="232.1" r="0.9"/>
<circle cx="433.7" cy="265.8" r="0.9"/>
<circle cx="356.8" cy="157.7" r="0.9"/>
<circle cx="152.1" cy="212.3" r="0.9"/>
<circle cx="174.4" cy="199.1" r="0.9"/>
<circle cx="393.4" cy="186.6" r="0.9"/>
<circle cx="407.0" cy="283.8" r="0.9"/>
<circle cx="440.2" cy="149.4" r="0.9"/>
<circle cx="346.4" cy="157.3" r="0.9"/>
<circle cx="281.4" cy="319.2" r="0.9"/>
<circle cx="428.6" cy="236.8" r="0.9"/>
<circle cx="309.5" cy="277.0" r="0.9"/>
<circle cx="440.1" cy="300.2" r="0.9"/>
<circle cx="487.3" cy="219.7" r="0.9"/>
<circle cx="472.1" cy="168.5" r="0.9"/>
<circle cx="449.2" cy="187.1" r="0.9"/>
<circle cx="232.8" cy="267.0" r="0.9"/>
<circle cx="352.8" cy="228.6" r="0.9"/>
<circle cx="372.6" cy="127.4" r="0.9"/>
<circle cx="423.9" cy="211.2" r="0.9"/>
<circle cx="269.9" cy="125.9" r="0.9"/>
<circle cx="285.0" cy="292.5" r="0.9"/>
<circle cx="368.7" cy="299.1" r="0.9"/>
<circle cx="272.4" cy="200.6" r="0.9"/>
<circle cx="420.5" cy="132.0" r="0.9"/>
<circle cx="284.4" cy="283.7" r="0.9"/>
<circle cx="436.0" cy="122.5" r="0.9"/>
<circle cx="290.0" cy="219.6" r="0.9"/>
<circle cx="292.0" cy="238.1" r="0.9"/>
<circle cx="299.5" cy="184.5" r="0.9"/>
<circle cx="148.3" cy="228.4" r="0.9"/>
<circle cx="412.6" cy="267.5" r="0.9"/>
<circle cx="401.9" cy="267.0" r="0.9"/>
<circle cx="322.6" cy="91.2" r="0.9"/>
<circle cx="163.4" cy="163.3" r="0.9"/>
<circle cx="410.0" cy="116.6" r="0.9"/>
<circle cx="319.3" cy="301.5" r="0.9"/>
<circle cx="214.4" cy="141.9" r="0.9"/>
<circle cx="382.6" cy="295.6" r="0.9"/>
<circle cx="451.6" cy="212.9" r="0.9"/>
<circle cx="424.8" cy="142.3" r="0.9"/>
<circle cx="268.6" cy="263.8" r="0.9"/>
<circle cx="349.2" cy="239.3" r="0.9"/>
<circle cx="359.9" cy="183.0" r="0.9"/>
<circle cx="323.0" cy="295.6" r="0.9"/>
<circle cx="350.3" cy="127.6" r="0.9"/>
<circle cx="370.5" cy="185.8" r="0.9"/>
<circle cx="430.4" cy="120.4" r="0.9"/>
<circle cx="419.5" cy="251.8" r="0.9"/>
<circle cx="259.8" cy="260.2" r="0.9"/>
<circle cx="388.2" cy="283.4" r="0.9"/>
<circle cx="421.5" cy="205.1" r="0.9"/>
<circle cx="234.7" cy="234.0" r="0.9"/>
<circle cx="406.4" cy="157.4" r="0.9"/>
<circle cx="296.1" cy="254.1" r="0.9"/>
<circle cx="215.7" cy="229.3" r="0.9"/>
<circle cx="388.8" cy="257.0" r="0.9"/>
<circle cx="163.5" cy="221.5" r="0.9"/>
<circle cx="432.6" cy="294.6" r="0.9"/>
<circle cx="366.4" cy="278.5" r="0.9"/>
<circle cx="410.4" cy="127.8" r="0.9"/>
<circle cx="484.1" cy="200.4" r="0.9"/>
<circle cx="443.9" cy="228.2" r="0.9"/>
<circle cx="295.8" cy="265.8" r="0.9"/>
<circle cx="263.8" cy="249.2" r="0.9"/>
<circle cx="315.5" cy="271.6" r="0.9"/>
<circle cx="389.7" cy="199.1" r="0.9"/>
<circle cx="388.9" cy="269.2" r="0.9"/>
<circle cx="461.7" cy="199.8" r="0.9"/>
<circle cx="264.4" cy="157.4" r="0.9"/>
<circle cx="376.4" cy="258.3" r="0.9"/>
<circle cx="488.1" cy="255.1" r="0.9"/>
<circle cx="278.6" cy="86.2" r="0.9"/>
<circle cx="282.5" cy="270.2" r="0.9"/>
<circle cx="190.6" cy="224.7" r="0.9"/>
<circle cx="444.3" cy="243.1" r="0.9"/>
<circle cx="251.7" cy="230.7" r="0.9"/>
<circle cx="364.8" cy="138.8" r="0.9"/>
<circle cx="205.4" cy="237.0" r="0.9"/>
<circle cx="417.8" cy="172.5" r="0.9"/>
<circle cx="475.8" cy="204.2" r="0.9"/>
<circle cx="333.1" cy="252.3" r="0.9"/>
<circle cx="215.0" cy="244.3" r="0.9"/>
<circle cx="280.1" cy="263.3" r="0.9"/>
<circle cx="266.9" cy="91.8" r="0.9"/>
<circle cx="186.2" cy="266.7" r="0.9"/>
<circle cx="266.1" cy="233.2" r="0.9"/>
<circle cx="432.3" cy="276.3" r="0.9"/>
<circle cx="437.6" cy="164.2" r="0.9"/>
<circle cx="443.7" cy="143.0" r="0.9"/>
<circle cx="471.6" cy="285.6" r="0.9"/>
<circle cx="223.4" cy="266.6" r="0.9"/>
<circle cx="357.2" cy="267.9" r="0.9"/>
<circle cx="421.3" cy="281.8" r="0.9"/>
<circle cx="338.2" cy="142.3" r="0.9"/>
<circle cx="223.6" cy="111.9" r="0.9"/>
<circle cx="332.6" cy="287.7" r="0.9"/>
<circle cx="377.5" cy="282.3" r="0.9"/>
<circle cx="367.4" cy="232.6" r="0.9"/>
<circle cx="260.9" cy="287.4" r="0.9"/>
<circle cx="435.5" cy="176.1" r="0.9"/>
<circle cx="319.8" cy="144.0" r="0.9"/>
<circle cx="469.0" cy="225.9" r="0.9"/>
<circle cx="429.3" cy="217.8" r="0.9"/>
<circle cx="351.3" cy="305.9" r="0.9"/>
<circle cx="287.2" cy="102.8" r="0.9"/>
<circle cx="396.8" cy="136.9" r="0.9"/>
<circle cx="394.7" cy="285.9" r="0.9"/>
<circle cx="400.5" cy="98.5" r="0.9"/>
<circle cx="304.4" cy="304.6" r="0.9"/>
<circle cx="191.7" cy="271.8" r="0.9"/>
<circle cx="477.3" cy="268.7" r="0.9"/>
<circle cx="354.8" cy="295.8" r="0.9"/>
<circle cx="306.1" cy="128.2" r="0.9"/>
<circle cx="422.6" cy="189.7" r="0.9"/>
<circle cx="456.0" cy="204.8" r="0.9"/>
<circle cx="310.1" cy="221.2" r="0.9"/>
<circle cx="204.5" cy="248.4" r="0.9"/>
<circle cx="421.1" cy="115.9" r="0.9"/>
<circle cx="449.2" cy="196.2" r="0.9"/>
<circle cx="351.2" cy="262.2" r="0.9"/>
<circle cx="177.6" cy="156.7" r="0.9"/>
<circle cx="449.4" cy="294.0" r="0.9"/>
<circle cx="433.8" cy="194.0" r="0.9"/>
<circle cx="253.5" cy="297.5" r="0.9"/>
<circle cx="428.1" cy="160.8" r="0.9"/>
<circle cx="437.1" cy="206.0" r="0.9"/>
<circle cx="344.0" cy="111.6" r="0.9"/>
<circle cx="440.6" cy="288.1" r="0.9"/>
<circle cx="451.3" cy="142.7" r="0.9"/>
<circle cx="183.1" cy="251.6" r="0.9"/>
<circle cx="229.4" cy="276.6" r="0.9"/>
<circle cx="390.8" cy="103.0" r="0.9"/>
<circle cx="450.4" cy="252.3" r="0.9"/>
<circle cx="351.3" cy="287.2" r="0.9"/>
<circle cx="417.4" cy="160.3" r="0.9"/>
<circle cx="427.2" cy="299.8" r="0.9"/>
<circle cx="486.2" cy="266.7" r="0.9"/>
<circle cx="474.5" cy="231.9" r="0.9"/>
<circle cx="333.6" cy="302.6" r="0.9"/>
<circle cx="447.7" cy="136.0" r="0.9"/>
<circle cx="338.7" cy="197.4" r="0.9"/>
<circle cx="245.5" cy="265.6" r="0.9"/>
<circle cx="482.5" cy="257.5" r="0.9"/>
<circle cx="195.2" cy="159.9" r="0.9"/>
<circle cx="360.0" cy="284.5" r="0.9"/>
<circle cx="403.7" cy="258.6" r="0.9"/>
<circle cx="419.8" cy="290.1" r="0.9"/>
<circle cx="356.8" cy="170.2" r="0.9"/>
<circle cx="347.6" cy="99.4" r="0.9"/>
<circle cx="441.1" cy="281.7" r="0.9"/>
<circle cx="468.6" cy="266.0" r="0.9"/>
<circle cx="265.3" cy="308.3" r="0.9"/>
<circle cx="381.5" cy="205.6" r="0.9"/>
<circle cx="297.1" cy="229.8" r="0.9"/>
<circle cx="329.3" cy="276.3" r="0.9"/>
<circle cx="323.0" cy="104.9" r="0.9"/>
<circle cx="457.1" cy="180.3" r="0.9"/>
<circle cx="249.5" cy="245.8" r="0.9"/>
<circle cx="440.7" cy="220.4" r="0.9"/>
<circle cx="411.1" cy="103.9" r="0.9"/>
<circle cx="358.8" cy="274.0" r="0.9"/>
<circle cx="395.4" cy="164.0" r="0.9"/>
<circle cx="300.6" cy="171.7" r="0.9"/>
<circle cx="316.9" cy="308.8" r="0.9"/>
<circle cx="226.7" cy="172.7" r="0.9"/>
<circle cx="250.4" cy="290.7" r="0.9"/>
<circle cx="377.1" cy="161.0" r="0.9"/>
<circle cx="298.3" cy="281.2" r="0.9"/>
<circle cx="461.2" cy="220.8" r="0.9"/>
<circle cx="455.1" cy="287.3" r="0.9"/>
<circle cx="364.5" cy="122.1" r="0.9"/>
<circle cx="402.1" cy="251.2" r="0.9"/>
<circle cx="197.8" cy="126.1" r="0.9"/>
<circle cx="179.7" cy="270.3" r="0.9"/>
<circle cx="388.0" cy="173.7" r="0.9"/>
<circle cx="240.4" cy="99.9" r="0.9"/>
<circle cx="477.9" cy="181.0" r="0.9"/>
<circle cx="287.0" cy="126.9" r="0.9"/>
<circle cx="392.4" cy="240.9" r="0.9"/>
<circle cx="190.7" cy="214.9" r="0.9"/>
<circle cx="413.5" cy="280.0" r="0.9"/>
<circle cx="255.8" cy="191.9" r="0.9"/>
<circle cx="434.6" cy="155.8" r="0.9"/>
<circle cx="432.6" cy="249.5" r="0.9"/>
<circle cx="298.2" cy="313.7" r="0.9"/>
<circle cx="420.9" cy="181.4" r="0.9"/>
<circle cx="323.7" cy="180.4" r="0.9"/>
<circle cx="480.2" cy="194.8" r="0.9"/>
<circle cx="457.7" cy="211.2" r="0.9"/>
<circle cx="493.7" cy="253.3" r="0.9"/>
<circle cx="279.9" cy="119.6" r="0.9"/>
<circle cx="482.7" cy="214.8" r="0.9"/>
<circle cx="467.5" cy="289.6" r="0.9"/>
<circle cx="382.9" cy="278.6" r="0.9"/>
<circle cx="319.1" cy="290.2" r="0.9"/>
<circle cx="309.8" cy="116.5" r="0.9"/>
<circle cx="441.7" cy="173.6" r="0.9"/>
<circle cx="451.7" cy="226.4" r="0.9"/>
<circle cx="350.4" cy="88.6" r="0.9"/>
<circle cx="142.1" cy="218.7" r="0.9"/>
<circle cx="237.6" cy="199.5" r="0.9"/>
<circle cx="451.4" cy="266.2" r="0.9"/>
<circle cx="475.1" cy="243.6" r="0.9"/>
<circle cx="468.9" cy="219.8" r="0.9"/>
<circle cx="207.2" cy="208.5" r="0.9"/>
<circle cx="452.5" cy="233.5" r="0.9"/>
<circle cx="359.2" cy="254.0" r="0.9"/>
<circle cx="332.3" cy="221.0" r="0.9"/>
<circle cx="394.0" cy="263.5" r="0.9"/>
<circle cx="338.2" cy="122.2" r="0.9"/>
<circle cx="163.4" cy="234.8" r="0.9"/>
<circle cx="408.3" cy="277.9" r="0.9"/>
<circle cx="313.3" cy="294.5" r="0.9"/>
<circle cx="261.2" cy="301.2" r="0.9"/>
<circle cx="468.0" cy="162.9" r="0.9"/>
<circle cx="455.3" cy="255.7" r="0.9"/>
<circle cx="334.2" cy="211.4" r="0.9"/>
<circle cx="289.6" cy="314.4" r="0.9"/>
<circle cx="357.0" cy="303.1" r="0.9"/>
<circle cx="441.0" cy="268.5" r="0.9"/>
<circle cx="387.8" cy="156.8" r="0.9"/>
<circle cx="370.7" cy="211.4" r="0.9"/>
<circle cx="444.7" cy="202.0" r="0.9"/>
<circle cx="309.0" cy="253.3" r="0.9"/>
<circle cx="276.1" cy="280.2" r="0.9"/>
<circle cx="367.1" cy="286.7" r="0.9"/>
<circle cx="422.9" cy="228.1" r="0.9"/>
<circle cx="461.8" cy="262.0" r="0.9"/>
<circle cx="297.0" cy="197.4" r="0.9"/>
<circle cx="322.7" cy="278.4" r="0.9"/>
<circle cx="251.8" cy="140.0" r="0.9"/>
<circle cx="426.1" cy="126.7" r="0.9"/>
<circle cx="468.2" cy="213.1" r="0.9"/>
<circle cx="237.7" cy="271.4" r="0.9"/>
<circle cx="425.8" cy="199.1" r="0.9"/>
<circle cx="380.6" cy="242.0" r="0.9"/>
<circle cx="384.9" cy="115.6" r="0.9"/>
<circle cx="465.5" cy="156.8" r="0.9"/>
<circle cx="219.7" cy="210.6" r="0.9"/>
<circle cx="313.1" cy="288.0" r="0.9"/>
<circle cx="236.8" cy="295.0" r="0.9"/>
<circle cx="441.8" cy="133.2" r="0.9"/>
<circle cx="228.3" cy="258.4" r="0.9"/>
<circle cx="266.0" cy="169.1" r="0.9"/>
<circle cx="210.6" cy="176.1" r="0.9"/>
<circle cx="151.0" cy="173.6" r="0.9"/>
<circle cx="429.4" cy="190.2" r="0.9"/>
<circle cx="173.0" cy="252.3" r="0.9"/>
<circle cx="484.8" cy="241.5" r="0.9"/>
<circle cx="437.2" cy="272.9" r="0.9"/>
<circle cx="483.1" cy="207.2" r="0.9"/>
<circle cx="476.2" cy="278.7" r="0.9"/>
<circle cx="361.1" cy="149.0" r="0.9"/>
<circle cx="302.3" cy="274.7" r="0.9"/>
<circle cx="459.1" cy="239.9" r="0.9"/>
<circle cx="269.8" cy="315.2" r="0.9"/>
<circle cx="427.4" cy="242.4" r="0.9"/>
<circle cx="345.3" cy="278.7" r="0.9"/>
<circle cx="329.0" cy="148.1" r="0.9"/>
<circle cx="435.1" cy="215.7" r="0.9"/>
<circle cx="164.9" cy="211.3" r="0.9"/>
<circle cx="378.4" cy="218.4" r="0.9"/>
<circle cx="237.8" cy="283.3" r="0.9"/>
<circle cx="194.0" cy="241.2" r="0.9"/>
<circle cx="371.6" cy="291.5" r="0.9"/>
<circle cx="355.4" cy="278.3" r="0.9"/>
<circle cx="338.1" cy="274.2" r="0.9"/>
<circle cx="217.8" cy="270.8" r="0.9"/>
<circle cx="150.1" cy="200.6" r="0.9"/>
<circle cx="291.3" cy="93.3" r="0.9"/>
<circle cx="364.9" cy="254.1" r="0.9"/>
<circle cx="209.3" cy="256.8" r="0.9"/>
<circle cx="463.4" cy="171.0" r="0.9"/>
<circle cx="380.2" cy="251.4" r="0.9"/>
<circle cx="488.5" cy="273.1" r="0.9"/>
<circle cx="352.3" cy="272.3" r="0.9"/>
<circle cx="400.7" cy="284.5" r="0.9"/>
<circle cx="465.9" cy="281.4" r="0.9"/>
<circle cx="257.3" cy="265.2" r="0.9"/>
<circle cx="329.5" cy="235.9" r="0.9"/>
<circle cx="242.6" cy="298.3" r="0.9"/>
<circle cx="296.5" cy="106.2" r="0.9"/>
<circle cx="469.9" cy="190.0" r="0.9"/>
<circle cx="446.1" cy="167.4" r="0.9"/>
<circle cx="322.7" cy="308.4" r="0.9"/>
<circle cx="232.1" cy="188.4" r="0.9"/>
<circle cx="387.1" cy="140.1" r="0.9"/>
<circle cx="379.9" cy="272.3" r="0.9"/>
<circle cx="376.8" cy="264.4" r="0.9"/>
<circle cx="476.4" cy="218.2" r="0.9"/>
<circle cx="210.1" cy="264.2" r="0.9"/>
<circle cx="433.3" cy="224.1" r="0.9"/>
<circle cx="424.6" cy="272.9" r="0.9"/>
<circle cx="423.6" cy="153.3" r="0.9"/>
<circle cx="360.9" cy="103.5" r="0.9"/>
<circle cx="458.4" cy="297.7" r="0.9"/>
<circle cx="402.0" cy="109.5" r="0.9"/>
<circle cx="445.1" cy="156.1" r="0.9"/>
<circle cx="448.1" cy="217.7" r="0.9"/>
<circle cx="475.0" cy="258.9" r="0.9"/>
<circle cx="229.0" cy="102.4" r="0.9"/>
<circle cx="461.2" cy="256.3" r="0.9"/>
<circle cx="421.6" cy="164.7" r="0.9"/>
<circle cx="411.2" cy="289.0" r="0.9"/>
<circle cx="394.2" cy="250.7" r="0.9"/>
<circle cx="443.3" cy="255.0" r="0.9"/>
<circle cx="468.5" cy="175.6" r="0.9"/>
<circle cx="278.2" cy="226.0" r="0.9"/>
<circle cx="277.7" cy="100.6" r="0.9"/>
<circle cx="274.4" cy="143.4" r="0.9"/>
<circle cx="493.7" cy="245.2" r="0.9"/>
<circle cx="193.2" cy="262.9" r="0.9"/>
<circle cx="302.9" cy="287.9" r="0.9"/>
<circle cx="420.6" cy="138.8" r="0.9"/>
<circle cx="456.3" cy="167.3" r="0.9"/>
<circle cx="438.8" cy="240.6" r="0.9"/>
<circle cx="291.2" cy="153.0" r="0.9"/>
<circle cx="464.8" cy="249.6" r="0.9"/>
<circle cx="442.6" cy="235.5" r="0.9"/>
<circle cx="312.4" cy="160.0" r="0.9"/>
<circle cx="393.0" cy="276.9" r="0.9"/>
<circle cx="373.7" cy="242.3" r="0.9"/>
<circle cx="427.2" cy="133.7" r="0.9"/>
<circle cx="349.2" cy="217.6" r="0.9"/>
<circle cx="251.1" cy="179.2" r="0.9"/>
<circle cx="272.7" cy="287.3" r="0.9"/>
<circle cx="359.5" cy="214.9" r="0.9"/>
<circle cx="188.1" cy="153.0" r="0.9"/>
<circle cx="460.8" cy="160.3" r="0.9"/>
<circle cx="197.0" cy="149.1" r="0.9"/>
<circle cx="470.8" cy="275.0" r="0.9"/>
<circle cx="374.9" cy="176.7" r="0.9"/>
<circle cx="320.9" cy="269.2" r="0.9"/>
<circle cx="366.9" cy="195.2" r="0.9"/>
<circle cx="272.6" cy="269.6" r="0.9"/>
<circle cx="298.6" cy="300.5" r="0.9"/>
<circle cx="458.7" cy="144.5" r="0.9"/>
<circle cx="344.6" cy="267.4" r="0.9"/>
<circle cx="364.3" cy="223.6" r="0.9"/>
<circle cx="361.6" cy="93.9" r="0.9"/>
<circle cx="425.7" cy="223.4" r="0.9"/>
<circle cx="451.5" cy="178.4" r="0.9"/>
<circle cx="210.2" cy="272.4" r="0.9"/>
<circle cx="263.5" cy="268.1" r="0.9"/>
<circle cx="407.7" cy="247.0" r="0.9"/>
<circle cx="293.6" cy="296.3" r="0.9"/>
<circle cx="416.4" cy="260.1" r="0.9"/>
<circle cx="277.2" cy="273.2" r="0.9"/>
<circle cx="247.5" cy="210.5" r="0.9"/>
<circle cx="316.0" cy="197.4" r="0.9"/>
<circle cx="468.7" cy="195.7" r="0.9"/>
<circle cx="458.7" cy="281.3" r="0.9"/>
<circle cx="448.3" cy="286.5" r="0.9"/>
<circle cx="377.6" cy="193.1" r="0.9"/>
<circle cx="258.0" cy="307.5" r="0.9"/>
<circle cx="336.4" cy="157.4" r="0.9"/>
<circle cx="490.5" cy="261.1" r="0.9"/>
<circle cx="457.3" cy="150.2" r="0.9"/>
<circle cx="245.1" cy="284.8" r="0.9"/>
<circle cx="448.6" cy="301.8" r="0.9"/>
<circle cx="421.2" cy="217.1" r="0.9"/>
<circle cx="323.2" cy="259.2" r="0.9"/>
<circle cx="429.2" cy="206.5" r="0.9"/>
<circle cx="419.4" cy="243.3" r="0.9"/>
<circle cx="433.9" cy="168.6" r="0.9"/>
<circle cx="263.8" cy="315.0" r="0.9"/>
<circle cx="402.3" cy="245.5" r="0.9"/>
<circle cx="264.7" cy="223.2" r="0.9"/>
<circle cx="339.5" cy="284.2" r="0.9"/>
<circle cx="445.6" cy="178.5" r="0.9"/>
<circle cx="415.3" cy="272.8" r="0.9"/>
<circle cx="401.1" cy="227.6" r="0.9"/>
<circle cx="475.7" cy="186.6" r="0.9"/>
<circle cx="250.1" cy="103.6" r="0.9"/>
<circle cx="312.8" cy="95.1" r="0.9"/>
<circle cx="344.9" cy="287.7" r="0.9"/>
<circle cx="480.5" cy="222.5" r="0.9"/>
<circle cx="457.3" cy="187.5" r="0.9"/>
<circle cx="234.3" cy="288.6" r="0.9"/>
<circle cx="344.5" cy="302.6" r="0.9"/>
<circle cx="474.4" cy="196.5" r="0.9"/>
<circle cx="256.5" cy="238.9" r="0.9"/>
<circle cx="464.1" cy="236.9" r="0.9"/>
<circle cx="232.4" cy="132.2" r="0.9"/>
<circle cx="485.8" cy="278.7" r="0.9"/>
<circle cx="445.2" cy="207.5" r="0.9"/>
<circle cx="304.3" cy="310.6" r="0.9"/>
<circle cx="455.2" cy="218.8" r="0.9"/>
<circle cx="144.8" cy="190.9" r="0.9"/>
<circle cx="467.5" cy="295.4" r="0.9"/>
<circle cx="236.0" cy="212.6" r="0.9"/>
<circle cx="438.8" cy="138.3" r="0.9"/>
<circle cx="306.2" cy="297.2" r="0.9"/>
<circle cx="407.5" cy="271.1" r="0.9"/>
<circle cx="421.9" cy="147.4" r="0.9"/>
<circle cx="313.8" cy="264.6" r="0.9"/>
<circle cx="171.9" cy="266.3" r="0.9"/>
<circle cx="179.4" cy="242.4" r="0.9"/>
<circle cx="276.1" cy="251.0" r="0.9"/>
<circle cx="360.8" cy="83.6" r="0.9"/>
<circle cx="440.9" cy="212.0" r="0.9"/>
<circle cx="397.6" cy="258.8" r="0.9"/>
<circle cx="307.8" cy="270.4" r="0.9"/>
<circle cx="397.2" cy="298.4" r="0.9"/>
<circle cx="385.6" cy="263.1" r="0.9"/>
<circle cx="249.3" cy="305.7" r="0.9"/>
<circle cx="440.1" cy="259.7" r="0.9"/>
<circle cx="301.2" cy="90.7" r="0.9"/>
<circle cx="328.8" cy="282.2" r="0.9"/>
<circle cx="427.4" cy="179.2" r="0.9"/>
<circle cx="451.1" cy="279.6" r="0.9"/>
<circle cx="242.6" cy="292.1" r="0.9"/>
<circle cx="246.2" cy="123.4" r="0.9"/>
<circle cx="261.8" cy="211.9" r="0.9"/>
<circle cx="436.9" cy="233.6" r="0.9"/>
<circle cx="439.8" cy="247.2" r="0.9"/>
<circle cx="377.7" cy="231.7" r="0.9"/>
<circle cx="307.7" cy="137.9" r="0.9"/>
<circle cx="412.3" cy="254.7" r="0.9"/>
<circle cx="469.2" cy="240.5" r="0.9"/>
<circle cx="285.6" cy="250.5" r="0.9"/>
<circle cx="287.9" cy="113.9" r="0.9"/>
<circle cx="240.7" cy="150.3" r="0.9"/>
<circle cx="336.0" cy="175.3" r="0.9"/>
<circle cx="293.6" cy="271.0" r="0.9"/>
<circle cx="406.6" cy="168.1" r="0.9"/>
<circle cx="301.5" cy="267.0" r="0.9"/>
<circle cx="313.0" cy="184.2" r="0.9"/>
<circle cx="168.2" cy="147.5" r="0.9"/>
<circle cx="244.2" cy="272.6" r="0.9"/>
<circle cx="455.2" cy="159.6" r="0.9"/>
<circle cx="300.4" cy="219.6" r="0.9"/>
<circle cx="406.1" cy="139.0" r="0.9"/>
<circle cx="226.6" cy="283.9" r="0.9"/>
<circle cx="374.7" cy="301.6" r="0.9"/>
<circle cx="466.4" cy="258.7" r="0.9"/>
<circle cx="372.9" cy="277.9" r="0.9"/>
<circle cx="382.7" cy="287.7" r="0.9"/>
<circle cx="466.3" cy="207.5" r="0.9"/>
<circle cx="224.9" cy="239.1" r="0.9"/>
<circle cx="308.5" cy="283.9" r="0.9"/>
<circle cx="423.3" cy="121.4" r="0.9"/>
<circle cx="360.4" cy="291.7" r="0.9"/>
<circle cx="339.1" cy="132.1" r="0.9"/>
<circle cx="301.9" cy="246.2" r="0.9"/>
<circle cx="399.3" cy="202.3" r="0.9"/>
<circle cx="475.2" cy="290.6" r="0.9"/>
<circle cx="336.1" cy="106.3" r="0.9"/>
<circle cx="438.2" cy="187.3" r="0.9"/>
<circle cx="419.2" cy="266.8" r="0.9"/>
<circle cx="364.4" cy="262.2" r="0.9"/>
<circle cx="223.2" cy="249.6" r="0.9"/>
<circle cx="219.0" cy="161.6" r="0.9"/>
<circle cx="390.5" cy="246.4" r="0.9"/>
<circle cx="321.2" cy="218.5" r="0.9"/>
<circle cx="280.5" cy="152.0" r="0.9"/>
<circle cx="481.1" cy="189.0" r="0.9"/>
<circle cx="489.8" cy="227.2" r="0.9"/>
<circle cx="424.2" cy="174.4" r="0.9"/>
<circle cx="239.1" cy="262.8" r="0.9"/>
<circle cx="411.5" cy="299.5" r="0.9"/>
<circle cx="288.5" cy="267.7" r="0.9"/>
<circle cx="484.1" cy="250.8" r="0.9"/>
<circle cx="274.5" cy="263.7" r="0.9"/>
<circle cx="376.5" cy="136.7" r="0.9"/>
<circle cx="301.0" cy="293.5" r="0.9"/>
<circle cx="227.1" cy="227.2" r="0.9"/>
<circle cx="450.9" cy="259.4" r="0.9"/>
<circle cx="293.2" cy="307.3" r="0.9"/>
<circle cx="363.6" cy="304.5" r="0.9"/>
<circle cx="219.2" cy="151.4" r="0.9"/>
<circle cx="395.8" cy="269.3" r="0.9"/>
<circle cx="275.7" cy="318.8" r="0.9"/>
<circle cx="452.5" cy="172.0" r="0.9"/>
<circle cx="441.0" cy="126.0" r="0.9"/>
<circle cx="290.8" cy="169.7" r="0.9"/>
<circle cx="463.1" cy="179.4" r="0.9"/>
<circle cx="312.6" cy="150.5" r="0.9"/>
<circle cx="428.0" cy="167.1" r="0.9"/>
<circle cx="481.1" cy="264.2" r="0.9"/>
<circle cx="370.8" cy="253.8" r="0.9"/>
<circle cx="198.1" cy="273.7" r="0.9"/>
<circle cx="391.6" cy="297.4" r="0.9"/>
<circle cx="180.2" cy="263.7" r="0.9"/>
<circle cx="320.7" cy="284.8" r="0.9"/>
<circle cx="238.5" cy="221.9" r="0.9"/>
<circle cx="427.0" cy="113.5" r="0.9"/>
<circle cx="334.9" cy="262.9" r="0.9"/>
<circle cx="221.8" cy="275.5" r="0.9"/>
<circle cx="420.2" cy="198.1" r="0.9"/>
<circle cx="425.6" cy="184.8" r="0.9"/>
<circle cx="427.9" cy="264.4" r="0.9"/>
<circle cx="409.5" cy="261.6" r="0.9"/>
<circle cx="251.9" cy="271.1" r="0.9"/>
<circle cx="258.8" cy="293.2" r="0.9"/>
<circle cx="379.9" cy="104.0" r="0.9"/>
<circle cx="327.5" cy="126.5" r="0.9"/>
<circle cx="361.5" cy="248.8" r="0.9"/>
<circle cx="195.5" cy="173.4" r="0.9"/>
<circle cx="426.0" cy="293.6" r="0.9"/>
<circle cx="373.1" cy="248.2" r="0.9"/>
<circle cx="445.8" cy="264.3" r="0.9"/>
<circle cx="458.5" cy="173.9" r="0.9"/>
<circle cx="182.5" cy="175.5" r="0.9"/>
<circle cx="318.5" cy="236.1" r="0.9"/>
<circle cx="339.1" cy="301.3" r="0.9"/>
<circle cx="328.9" cy="298.8" r="0.9"/>
<circle cx="439.9" cy="180.5" r="0.9"/>
<circle cx="443.7" cy="295.1" r="0.9"/>
<circle cx="426.3" cy="252.9" r="0.9"/>
<circle cx="248.1" cy="94.2" r="0.9"/>
<circle cx="273.7" cy="294.9" r="0.9"/>
<circle cx="303.9" cy="280.3" r="0.9"/>
<circle cx="429.5" cy="228.5" r="0.9"/>
<circle cx="141.5" cy="206.7" r="0.9"/>
<circle cx="305.5" cy="262.1" r="0.9"/>
<circle cx="421.7" cy="110.3" r="0.9"/>
<circle cx="425.4" cy="287.7" r="0.9"/>
<circle cx="462.8" cy="226.8" r="0.9"/>
<circle cx="372.1" cy="284.4" r="0.9"/>
<circle cx="493.8" cy="232.6" r="0.9"/>
<circle cx="401.6" cy="290.3" r="0.9"/>
<circle cx="284.1" cy="298.1" r="0.9"/>
<circle cx="247.4" cy="295.6" r="0.9"/>
<circle cx="363.2" cy="268.2" r="0.9"/>
<circle cx="267.2" cy="301.0" r="0.9"/>
<circle cx="439.1" cy="200.1" r="0.9"/>
<circle cx="203.9" cy="117.4" r="0.9"/>
<circle cx="449.8" cy="163.2" r="0.9"/>
<circle cx="281.9" cy="313.4" r="0.9"/>
<circle cx="469.7" cy="202.4" r="0.9"/>
</g>
</g>
<path d="M140.6,222.0 C140.1,217.9 140.3,214.7 140.6,211.0 C140.9,207.3 141.8,203.8 142.5,200.0 C143.2,196.2 144.2,191.8 145.0,188.0 C145.8,184.2 146.5,180.8 147.5,177.5 C148.5,174.2 149.7,170.6 151.0,168.0 C152.3,165.4 153.6,163.8 155.2,161.7 C156.8,159.6 158.7,157.5 160.4,155.4 C162.1,153.3 163.9,151.0 165.6,149.2 C167.3,147.4 169.2,145.6 170.8,144.5 C172.4,143.4 173.9,143.2 175.0,142.4 C176.1,141.7 177.0,141.0 177.6,140.0 C178.2,139.0 177.7,137.8 178.3,136.5 C178.9,135.2 179.6,134.2 181.2,132.5 C182.9,130.8 186.1,128.2 188.5,126.2 C190.9,124.3 193.9,122.5 195.8,121.0 C197.7,119.5 197.5,118.6 200.0,117.2 C202.5,115.8 208.4,113.9 211.0,112.5 C213.6,111.1 213.5,109.9 215.6,108.6 C217.7,107.2 221.1,105.7 223.8,104.4 C226.4,103.1 229.2,101.6 231.2,100.8 C233.3,100.0 234.3,99.9 236.0,99.4 C237.7,98.9 239.6,98.5 241.4,97.7 C243.2,96.9 243.4,95.7 246.9,94.5 C250.4,93.3 257.8,91.9 262.5,90.6 C267.2,89.3 270.8,87.9 275.0,86.7 C279.2,85.5 283.9,84.4 287.5,83.6 C291.1,82.8 291.5,82.3 296.9,82.0 C302.3,81.7 314.7,82.1 320.0,82.0 C325.3,81.9 325.1,81.7 328.7,81.2 C332.3,80.7 337.3,78.9 341.9,79.0 C346.5,79.1 351.5,80.7 356.4,82.0 C361.2,83.3 367.3,85.8 371.0,87.0 C374.7,88.2 376.3,88.5 378.8,89.2 C381.2,90.0 382.5,90.2 385.6,91.4 C388.7,92.7 393.6,94.9 397.5,96.8 C401.4,98.6 404.7,100.4 408.8,102.4 C412.8,104.4 417.6,106.5 422.0,109.0 C426.4,111.5 431.3,114.4 435.0,117.4 C438.7,120.4 441.0,123.0 444.4,126.8 C447.8,130.5 452.6,136.1 455.6,140.0 C458.6,143.9 460.6,146.8 462.5,150.0 C464.4,153.2 465.2,156.0 467.0,159.4 C468.8,162.8 471.3,166.1 473.4,170.3 C475.5,174.5 477.9,180.2 479.7,184.4 C481.5,188.6 483.0,191.4 484.4,195.3 C485.8,199.2 487.0,203.7 488.3,207.8 C489.6,211.9 491.1,216.3 492.0,220.0 C492.9,223.7 493.4,226.6 494.0,230.0 C494.6,233.4 495.3,236.7 495.5,240.5 C495.7,244.3 495.5,248.5 495.0,253.0 C494.5,257.5 493.8,263.0 492.5,267.5 C491.2,272.0 489.4,276.8 487.5,280.0 C485.6,283.2 483.3,284.4 481.2,286.5 C479.2,288.6 477.3,290.7 475.0,292.5 C472.7,294.3 470.6,296.1 467.5,297.5 C464.4,298.9 460.2,300.2 456.2,301.0 C452.3,301.8 449.0,302.5 443.8,302.5 C438.5,302.5 431.5,301.7 425.0,301.2 C418.5,300.8 410.8,300.2 405.0,300.0 C399.2,299.8 395.9,299.4 390.3,300.0 C384.7,300.6 378.4,302.6 371.6,303.8 C364.8,304.9 356.6,306.1 349.7,307.0 C342.8,307.9 336.6,308.6 330.0,309.2 C323.4,309.8 315.0,309.6 310.3,310.3 C305.6,311.0 304.2,312.7 301.6,313.6 C299.1,314.5 298.5,314.7 295.0,315.8 C291.5,316.9 285.8,319.9 280.6,320.0 C275.4,320.1 269.1,318.2 264.0,316.4 C258.9,314.6 254.3,312.1 250.0,309.4 C245.7,306.7 241.6,303.2 238.4,300.0 C235.2,296.8 233.6,292.9 231.0,290.0 C228.4,287.1 224.7,285.0 223.0,282.5 C221.3,280.0 221.0,277.2 221.0,275.0 C221.0,272.8 223.6,269.9 223.0,269.4 C222.4,268.9 220.9,271.4 217.5,272.2 C214.1,273.0 207.5,273.9 202.5,274.0 C197.5,274.1 191.9,273.8 187.5,273.0 C183.1,272.2 179.7,270.9 176.2,269.4 C172.8,267.9 170.0,265.9 166.9,263.8 C163.8,261.6 160.3,259.1 157.5,256.2 C154.7,253.4 152.3,250.3 150.0,246.9 C147.7,243.5 145.0,239.8 143.4,235.6 C141.8,231.4 141.1,226.1 140.6,222.0Z" fill="none" stroke="#8a5a2a" stroke-width="0.7" opacity="0.8"/>
<path d="M280.0,262.5 C277.5,263.6 276.5,262.7 275.0,263.8 C273.5,264.8 271.9,266.8 271.0,269.0 C270.1,271.2 269.5,274.3 269.5,277.0 C269.5,279.7 270.0,282.8 271.0,285.0 C272.0,287.2 273.5,289.2 275.5,290.5 C277.5,291.8 280.2,292.4 283.0,293.0 C285.8,293.6 289.2,293.9 292.0,294.2 C294.8,294.5 297.3,294.6 300.0,294.6 C302.7,294.6 304.8,294.7 308.0,294.2 C311.2,293.7 315.1,292.8 319.0,291.5 C322.9,290.2 327.5,288.2 331.2,286.5 C335.0,284.8 338.3,282.8 341.2,281.0 C344.2,279.2 346.5,277.5 348.8,275.5 C351.0,273.5 353.3,271.1 355.0,268.8 C356.7,266.4 358.0,263.8 358.8,261.2 C359.5,258.8 359.6,255.8 359.4,253.8 C359.2,251.7 358.6,250.2 357.5,249.0 C356.4,247.8 354.9,246.4 353.0,246.5 C351.1,246.6 348.8,248.2 346.0,249.5 C343.2,250.8 339.7,252.8 336.0,254.5 C332.3,256.2 328.0,258.2 324.0,259.5 C320.0,260.8 316.0,262.2 312.0,262.5 C308.0,262.8 303.7,261.9 300.0,261.0 C296.3,260.1 293.3,256.8 290.0,257.0 C286.7,257.2 282.5,261.4 280.0,262.5Z" fill="url(#pg)"/>
<path d="M280.0,262.5 C277.5,263.6 276.5,262.7 275.0,263.8 C273.5,264.8 271.9,266.8 271.0,269.0 C270.1,271.2 269.5,274.3 269.5,277.0 C269.5,279.7 270.0,282.8 271.0,285.0 C272.0,287.2 273.5,289.2 275.5,290.5 C277.5,291.8 280.2,292.4 283.0,293.0 C285.8,293.6 289.2,293.9 292.0,294.2 C294.8,294.5 297.3,294.6 300.0,294.6 C302.7,294.6 304.8,294.7 308.0,294.2 C311.2,293.7 315.1,292.8 319.0,291.5 C322.9,290.2 327.5,288.2 331.2,286.5 C335.0,284.8 338.3,282.8 341.2,281.0 C344.2,279.2 346.5,277.5 348.8,275.5 C351.0,273.5 353.3,271.1 355.0,268.8 C356.7,266.4 358.0,263.8 358.8,261.2 C359.5,258.8 359.6,255.8 359.4,253.8 C359.2,251.7 358.6,250.2 357.5,249.0 C356.4,247.8 354.9,246.4 353.0,246.5 C351.1,246.6 348.8,248.2 346.0,249.5 C343.2,250.8 339.7,252.8 336.0,254.5 C332.3,256.2 328.0,258.2 324.0,259.5 C320.0,260.8 316.0,262.2 312.0,262.5 C308.0,262.8 303.7,261.9 300.0,261.0 C296.3,260.1 293.3,256.8 290.0,257.0 C286.7,257.2 282.5,261.4 280.0,262.5Z" fill="url(#pdot)"/>
<path d="M303.8,248.5 C307.5,244.9 313.8,243.4 318.8,240.5 C323.8,237.6 329.0,234.5 333.8,231.2 C338.5,228.0 344.2,223.9 347.5,221.2 C350.8,218.6 352.1,216.8 353.8,215.6 C355.4,214.4 356.2,214.1 357.5,214.2 C358.8,214.3 360.5,215.1 361.2,216.2 C362.0,217.4 362.0,219.4 362.0,221.2 C362.0,223.1 361.8,225.2 361.2,227.5 C360.7,229.8 359.8,232.5 358.8,235.0 C357.7,237.5 356.6,240.1 355.0,242.5 C353.4,244.9 351.9,247.0 349.0,249.5 C346.1,252.0 341.5,255.2 337.5,257.5 C333.5,259.8 329.2,261.8 325.0,263.5 C320.8,265.2 316.2,266.4 312.5,267.5 C308.8,268.6 305.8,270.9 303.0,270.0 C300.2,269.1 295.9,265.6 296.0,262.0 C296.1,258.4 300.0,252.1 303.8,248.5Z" fill="url(#gg)"/>
<path d="M303.8,248.5 C307.5,244.9 313.8,243.4 318.8,240.5 C323.8,237.6 329.0,234.5 333.8,231.2 C338.5,228.0 344.2,223.9 347.5,221.2 C350.8,218.6 352.1,216.8 353.8,215.6 C355.4,214.4 356.2,214.1 357.5,214.2 C358.8,214.3 360.5,215.1 361.2,216.2 C362.0,217.4 362.0,219.4 362.0,221.2 C362.0,223.1 361.8,225.2 361.2,227.5 C360.7,229.8 359.8,232.5 358.8,235.0 C357.7,237.5 356.6,240.1 355.0,242.5 C353.4,244.9 351.9,247.0 349.0,249.5 C346.1,252.0 341.5,255.2 337.5,257.5 C333.5,259.8 329.2,261.8 325.0,263.5 C320.8,265.2 316.2,266.4 312.5,267.5 C308.8,268.6 305.8,270.9 303.0,270.0 C300.2,269.1 295.9,265.6 296.0,262.0 C296.1,258.4 300.0,252.1 303.8,248.5Z" fill="url(#gdot)"/>
<ellipse cx="291.7" cy="260.8" rx="14" ry="11.5" fill="url(#rg)"/>
<ellipse cx="291.7" cy="260.8" rx="14" ry="11.5" fill="url(#rdot)"/>
<path d="M344.0,284.0 C345.7,281.8 349.3,281.2 352.0,281.0 C354.7,280.8 358.3,281.2 360.0,283.0 C361.7,284.8 362.0,288.8 362.0,292.0 C362.0,295.2 361.0,299.2 360.0,302.0 C359.0,304.8 358.0,307.7 356.0,309.0 C354.0,310.3 350.2,310.8 348.0,310.0 C345.8,309.2 344.0,306.7 343.0,304.0 C342.0,301.3 341.8,297.3 342.0,294.0 C342.2,290.7 342.3,286.2 344.0,284.0Z" fill="#cdbb92" opacity="0.6" filter="url(#bl08)"/>
<polyline points="124.6,126.5 160.0,142.0 175.6,211.9" fill="none" stroke="#000" stroke-width="1.9" stroke-linecap="round" stroke-linejoin="miter"/>
<polyline points="373.2,67.8 339.7,111.6" fill="none" stroke="#000" stroke-width="1.9" stroke-linecap="round" stroke-linejoin="miter"/>
<polyline points="536.9,155.0 473.8,200.8" fill="none" stroke="#000" stroke-width="1.9" stroke-linecap="round" stroke-linejoin="miter"/>
<polyline points="218.6,295.0 285.3,262.8" fill="none" stroke="#000" stroke-width="1.9" stroke-linecap="round" stroke-linejoin="miter"/>
<polyline points="149.4,343.8 283.1,282.5" fill="none" stroke="#000" stroke-width="1.9" stroke-linecap="round" stroke-linejoin="miter"/>
<polyline points="232.6,369.1 319.2,256.2" fill="none" stroke="#000" stroke-width="1.9" stroke-linecap="round" stroke-linejoin="miter"/>
<polyline points="433.1,335.3 488.5,357.7" fill="none" stroke="#000" stroke-width="1.9" stroke-linecap="round" stroke-linejoin="miter"/>
<line x1="416.9" y1="126.9" x2="429.4" y2="112.25" stroke="#000" stroke-width="1.5" stroke-linecap="round"/>
<path d="M332.5,310.0 C333.6,309.4 337.5,309.4 340.0,309.2 C342.5,309.0 345.7,308.9 347.5,308.8 C349.3,308.6 350.1,307.5 350.8,308.0 C351.5,308.5 351.3,310.5 351.7,311.7 C352.1,312.9 353.2,313.8 353.3,315.0 C353.4,316.2 353.2,318.0 352.5,319.2 C351.8,320.4 350.7,321.5 349.2,322.0 C347.7,322.5 344.8,322.5 343.3,322.0 C341.8,321.5 341.1,320.2 340.0,319.2 C338.9,318.2 337.8,316.9 336.7,315.8 C335.6,314.7 334.0,313.5 333.3,312.5 C332.6,311.5 331.4,310.6 332.5,310.0Z" fill="#cdb58a" stroke="#111" stroke-width="1.1"/>
<polyline points="336.7,315 341.7,316.7 346.7,315 350.8,312.5" fill="none" stroke="#111" stroke-width="1"/>
<path d="M343.5,285.5 C346,288.5 348.6,292 349.8,295.5 C350.8,299 350.8,303 350.5,307.5" fill="none" stroke="#111" stroke-width="1"/>
<path d="M331.7,310.0 C331.4,311.2 330.4,314.7 330.0,317.5 C329.6,320.3 329.5,324.0 329.4,327.0 C329.3,330.0 328.9,332.3 329.4,335.4 C329.9,338.5 330.6,342.7 332.5,345.8 C334.4,348.9 337.9,351.8 340.8,354.2 C343.8,356.6 347.1,358.8 350.2,360.4 C353.3,361.9 357.2,361.8 359.6,363.5 C362.0,365.2 363.1,367.5 364.8,370.8 C366.5,374.1 368.4,379.5 370.0,383.3 C371.6,387.1 373.5,391.8 374.2,393.5" fill="none" stroke="#111" stroke-width="1"/>
<path d="M330.5,318.0 C330.2,319.5 328.9,323.1 328.6,327.0 C328.3,330.9 327.6,337.9 328.6,341.7 C329.6,345.5 331.5,346.9 334.6,350.0 C337.7,353.1 344.6,358.0 347.0,360.4 C349.4,362.8 347.8,362.2 349.2,364.6 C350.6,367.0 353.0,370.5 355.4,375.0 C357.8,379.5 361.8,388.6 363.8,391.7 C365.7,394.8 366.4,393.4 366.9,393.8" fill="none" stroke="#1a1008" stroke-width="0.9"/>
<line x1="301.25" y1="417.5" x2="335.6" y2="297.2" stroke="#000" stroke-width="1"/>
<circle cx="137" cy="23.5" r="0.7" fill="#555"/>
<g font-family="Liberation Serif" font-weight="bold" font-size="19" fill="#000" style="filter:grayscale(1)">
<text x="283" y="53" letter-spacing="0.5">LOBULO PARIETAL</text>
<rect x="283" y="56.9" width="188.9" height="1.2"/>
<text x="18" y="102" letter-spacing="0.4">LOBULO</text>
<rect x="18" y="105.9" width="88.8" height="1.2"/>
<text x="18" y="126" letter-spacing="0.5">FRONTAL</text>
<rect x="18" y="128.9" width="95.0" height="1.2"/>
<text x="480" y="124" letter-spacing="0.4">LOBULO</text>
<rect x="480" y="127.9" width="88.8" height="1.2"/>
<text x="479" y="147" letter-spacing="0.5">OCCIPITAL</text>
<rect x="480" y="150.9" width="108.8" height="1.2"/>
<text x="98" y="301" letter-spacing="0.143">AMIGDALA</text>
<rect x="98" y="304.9" width="108.8" height="1.2"/>
<text x="36" y="359" letter-spacing="0.333">CORTEZA</text>
<rect x="36" y="362.9" width="101.6" height="1.2"/>
<text x="19" y="382" letter-spacing="0.125">ENTORINAL</text>
<rect x="12.1" y="385.9" width="122.8" height="1.2"/>
<text x="156" y="396" letter-spacing="0.25">HIPOCAMPO</text>
<rect x="156" y="399.9" width="121.9" height="1.2"/>
<text x="491" y="363" letter-spacing="0.286">CEREBELO</text>
<rect x="491.2" y="366.9" width="107.7" height="1.2"/>
<text x="280" y="440" letter-spacing="0.357">LOBULO TEMPORAL</text>
<rect x="280" y="443.9" width="200.9" height="1.2"/>
</g>
</svg>
</body></html>
